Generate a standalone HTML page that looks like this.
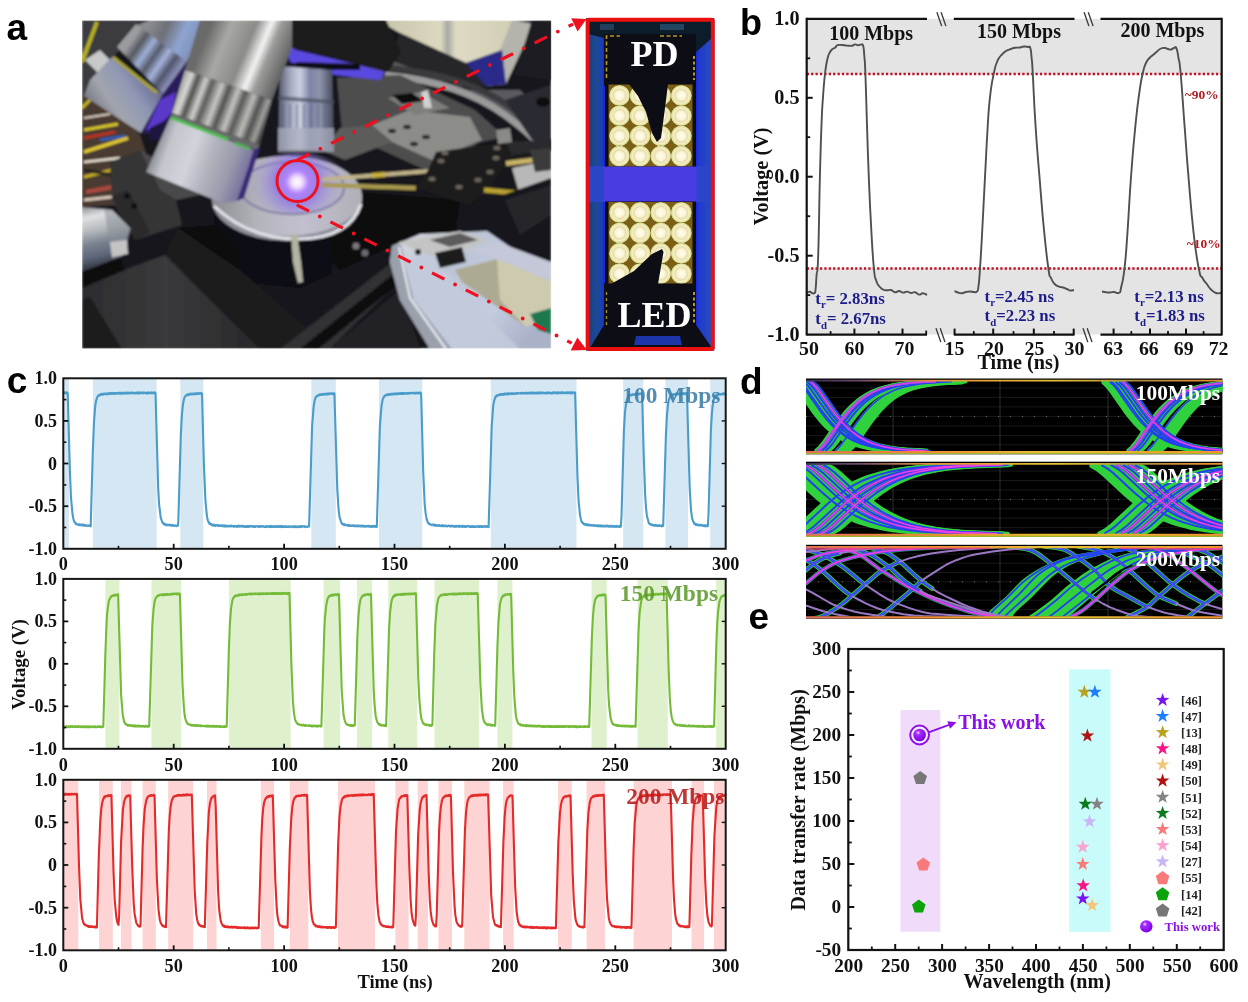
<!DOCTYPE html>
<html lang="en">
<head>
<meta charset="utf-8">
<title>Figure: UV LED/PD communication</title>
<style>
html,body{margin:0;padding:0;background:#fff;}
body{width:1248px;height:1002px;overflow:hidden;}
svg{display:block;}
.se{font-family:"Liberation Serif",serif;font-weight:bold;}
.sa{font-family:"Liberation Sans",sans-serif;font-weight:bold;}
</style>
</head>
<body>
<svg width="1248" height="1002" viewBox="0 0 1248 1002">
<defs>
<radialGradient id="sph" cx="0.38" cy="0.32" r="0.7">
<stop offset="0" stop-color="#f3d6ff"/><stop offset="0.25" stop-color="#a52cff"/><stop offset="1" stop-color="#7a00e0"/>
</radialGradient>
<clipPath id="phclip"><rect x="82.0" y="20.5" width="469.20000000000005" height="328.1"/></clipPath><filter id="b1" x="-5%" y="-5%" width="110%" height="110%"><feGaussianBlur stdDeviation="1.3"/></filter><filter id="b3" x="-20%" y="-20%" width="140%" height="140%"><feGaussianBlur stdDeviation="3.5"/></filter><filter id="b6" x="-30%" y="-30%" width="160%" height="160%"><feGaussianBlur stdDeviation="7"/></filter><filter id="b05" x="-5%" y="-5%" width="110%" height="110%"><feGaussianBlur stdDeviation="0.6"/></filter><linearGradient id="o1a" gradientUnits="userSpaceOnUse" x1="95" y1="120" x2="160" y2="75"><stop offset="0" stop-color="#6f717c"/><stop offset="0.3" stop-color="#a2a5ae"/><stop offset="0.6" stop-color="#8f97b4"/><stop offset="1" stop-color="#5c5a86"/></linearGradient><linearGradient id="o1b" gradientUnits="userSpaceOnUse" x1="125" y1="50" x2="175" y2="85"><stop offset="0" stop-color="#9a9ca0"/><stop offset="0.15" stop-color="#55585f"/><stop offset="0.3" stop-color="#9fb0d8"/><stop offset="0.45" stop-color="#555a6a"/><stop offset="0.6" stop-color="#a5b4dc"/><stop offset="0.75" stop-color="#50546a"/><stop offset="0.9" stop-color="#8a90b8"/><stop offset="1" stop-color="#3e3a5a"/></linearGradient><linearGradient id="o1c" gradientUnits="userSpaceOnUse" x1="150" y1="20" x2="215" y2="50"><stop offset="0" stop-color="#8a8c90"/><stop offset="0.25" stop-color="#6e7078"/><stop offset="0.5" stop-color="#8fa4d0"/><stop offset="0.75" stop-color="#7d8fb8"/><stop offset="1" stop-color="#4a4a66"/></linearGradient><linearGradient id="o2a" gradientUnits="userSpaceOnUse" x1="205" y1="40" x2="290" y2="75"><stop offset="0" stop-color="#6b6b6b"/><stop offset="0.2" stop-color="#a8a8a4"/><stop offset="0.45" stop-color="#8a8a88"/><stop offset="0.6" stop-color="#f4f4f4"/><stop offset="0.7" stop-color="#9c9c9a"/><stop offset="1" stop-color="#4a4a4c"/></linearGradient><linearGradient id="o2b" gradientUnits="userSpaceOnUse" x1="180" y1="85" x2="268" y2="118"><stop offset="0" stop-color="#a4a4a0"/><stop offset="0.08" stop-color="#d8d8d4"/><stop offset="0.15" stop-color="#4e4e4c"/><stop offset="0.24" stop-color="#d0d0cc"/><stop offset="0.31" stop-color="#5a5a58"/><stop offset="0.42" stop-color="#c8c8c4"/><stop offset="0.5" stop-color="#505050"/><stop offset="0.6" stop-color="#c4c4c0"/><stop offset="0.68" stop-color="#565654"/><stop offset="0.78" stop-color="#bcbcb8"/><stop offset="0.86" stop-color="#505050"/><stop offset="0.94" stop-color="#a0a09e"/><stop offset="1" stop-color="#3c3c3c"/></linearGradient><linearGradient id="o2c" gradientUnits="userSpaceOnUse" x1="155" y1="150" x2="250" y2="185"><stop offset="0" stop-color="#8e9098"/><stop offset="0.12" stop-color="#c4c6cc"/><stop offset="0.35" stop-color="#d2d4dc"/><stop offset="0.55" stop-color="#b0b2bc"/><stop offset="0.75" stop-color="#9a9cac"/><stop offset="0.92" stop-color="#7a74a0"/><stop offset="1" stop-color="#544a88"/></linearGradient><linearGradient id="o3" gradientUnits="userSpaceOnUse" x1="278" y1="0" x2="336" y2="0"><stop offset="0" stop-color="#50546a"/><stop offset="0.2" stop-color="#a0a6bc"/><stop offset="0.38" stop-color="#ccd0e0"/><stop offset="0.55" stop-color="#7c84a4"/><stop offset="0.72" stop-color="#8e94ac"/><stop offset="0.88" stop-color="#5c6074"/><stop offset="1" stop-color="#3e4254"/></linearGradient><linearGradient id="disc" gradientUnits="userSpaceOnUse" x1="215" y1="0" x2="360" y2="0"><stop offset="0" stop-color="#8e8e94"/><stop offset="0.3" stop-color="#b4b4bc"/><stop offset="0.6" stop-color="#c2c0d0"/><stop offset="1" stop-color="#b0b0b8"/></linearGradient><radialGradient id="glow" gradientUnits="userSpaceOnUse" cx="297" cy="182" r="52"><stop offset="0" stop-color="#ffffff" stop-opacity="1"/><stop offset="0.1" stop-color="#f4e0ff" stop-opacity="1"/><stop offset="0.22" stop-color="#b080ff" stop-opacity="0.95"/><stop offset="0.42" stop-color="#8a6ae8" stop-opacity="0.7"/><stop offset="0.7" stop-color="#9a8ad8" stop-opacity="0.3"/><stop offset="1" stop-color="#a8a0d0" stop-opacity="0"/></radialGradient><linearGradient id="cyl" gradientUnits="userSpaceOnUse" x1="90" y1="205" x2="104" y2="268"><stop offset="0" stop-color="#8a8e94"/><stop offset="0.18" stop-color="#e0e2e4"/><stop offset="0.4" stop-color="#b4b8bc"/><stop offset="0.6" stop-color="#7a8290"/><stop offset="0.8" stop-color="#5c6678"/><stop offset="1" stop-color="#2c3038"/></linearGradient><linearGradient id="hold" gradientUnits="userSpaceOnUse" x1="400" y1="250" x2="520" y2="350"><stop offset="0" stop-color="#d0d4dc"/><stop offset="0.3" stop-color="#bcc4d6"/><stop offset="0.7" stop-color="#c4cce0"/><stop offset="1" stop-color="#aab2c8"/></linearGradient><linearGradient id="wall" gradientUnits="userSpaceOnUse" x1="380" y1="0" x2="515" y2="0"><stop offset="0" stop-color="#c8c4ac"/><stop offset="0.45" stop-color="#dcd8c0"/><stop offset="0.5" stop-color="#a8a8a0"/><stop offset="0.56" stop-color="#dedac4"/><stop offset="1" stop-color="#d2ceb4"/></linearGradient><linearGradient id="plate" gradientUnits="userSpaceOnUse" x1="82" y1="300" x2="250" y2="300"><stop offset="0" stop-color="#2c2c2e"/><stop offset="0.5" stop-color="#3a3a3c"/><stop offset="1" stop-color="#2a2a2c"/></linearGradient><linearGradient id="insf" gradientUnits="userSpaceOnUse" x1="586" y1="0" x2="714" y2="0"><stop offset="0" stop-color="#1a3c7c"/><stop offset="0.09" stop-color="#1e4a96"/><stop offset="0.125" stop-color="#1d3cb8"/><stop offset="0.145" stop-color="#1426e6"/><stop offset="0.855" stop-color="#1426e6"/><stop offset="0.88" stop-color="#2038d0"/><stop offset="0.93" stop-color="#2444c4"/><stop offset="1" stop-color="#2a4cbc"/></linearGradient><radialGradient id="led" cx="0.5" cy="0.5" r="0.5"><stop offset="0" stop-color="#fffdf2" stop-opacity="1"/><stop offset="0.42" stop-color="#fbf4d4" stop-opacity="1"/><stop offset="0.58" stop-color="#e6deaa" stop-opacity="1"/><stop offset="0.74" stop-color="#f6eec6" stop-opacity="1"/><stop offset="0.9" stop-color="#e2e2a0" stop-opacity="1"/><stop offset="0.97" stop-color="#c4cc84" stop-opacity="1"/><stop offset="1" stop-color="#8a7a30" stop-opacity="1"/></radialGradient><clipPath id="eye0"><rect x="806.0" y="378.5" width="416.4000000000001" height="75.80000000000001"/></clipPath><clipPath id="eye1"><rect x="806.0" y="461.7" width="416.4000000000001" height="75.30000000000001"/></clipPath><clipPath id="eye2"><rect x="806.0" y="544.8" width="416.4000000000001" height="73.90000000000009"/></clipPath><clipPath id="eyin0"><rect x="806.0" y="380.7" width="416.4000000000001" height="71.20000000000002"/></clipPath><clipPath id="eyin1"><rect x="806.0" y="463.9" width="416.4000000000001" height="70.70000000000002"/></clipPath><clipPath id="eyin2"><rect x="806.0" y="547.0" width="416.4000000000001" height="69.3000000000001"/></clipPath><linearGradient id="railt" gradientUnits="userSpaceOnUse" x1="806" x2="1222" y1="0" y2="0"><stop offset="0" stop-color="#3a2a5a"/><stop offset="0.12" stop-color="#6a4a6a"/><stop offset="0.3" stop-color="#e8903a"/><stop offset="0.6" stop-color="#e6c232"/><stop offset="0.8" stop-color="#b08a40"/><stop offset="1" stop-color="#f0902e"/></linearGradient><linearGradient id="rail" gradientUnits="userSpaceOnUse" x1="806" x2="1222" y1="0" y2="0"><stop offset="0" stop-color="#e0705a"/><stop offset="0.3" stop-color="#f08a30"/><stop offset="0.6" stop-color="#e6c232"/><stop offset="1" stop-color="#f0902e"/></linearGradient>
</defs>
<rect width="1248" height="1002" fill="#fff"/>
<g id="panel_a">
<g clip-path="url(#phclip)"><g filter="url(#b1)">
<rect x="82" y="20.5" width="469.2" height="328.1" fill="#17171a" />
<polygon points="82,20 150,20 112,58 85,95 82,95" fill="#3a3a40" />
<polygon points="82,95 112,100 140,135 150,165 120,205 82,207" fill="#4a3a30" />
<line x1="82" y1="62" x2="97" y2="22" stroke="#b8b020" stroke-width="4" />
<line x1="82" y1="108" x2="90" y2="100" stroke="#c8b828" stroke-width="3" />
<line x1="84" y1="130" x2="118" y2="124" stroke="#d8c82c" stroke-width="3" />
<line x1="84" y1="152" x2="128" y2="138" stroke="#e0c830" stroke-width="3.5" />
<line x1="84" y1="177" x2="120" y2="168" stroke="#c8b020" stroke-width="3" />
<line x1="84" y1="138" x2="115" y2="132" stroke="#c83020" stroke-width="2.5" />
<line x1="86" y1="192" x2="118" y2="186" stroke="#b04840" stroke-width="4" />
<line x1="84" y1="162" x2="120" y2="158" stroke="#e8e0d0" stroke-width="2.5" />
<line x1="100" y1="140" x2="125" y2="136" stroke="#3060c0" stroke-width="2.5" />
<line x1="84" y1="118" x2="110" y2="114" stroke="#d8d0c0" stroke-width="2" />
<line x1="84" y1="170" x2="118" y2="176" stroke="#202020" stroke-width="3" />
<line x1="84" y1="200" x2="120" y2="196" stroke="#d8c8b8" stroke-width="3" />
<polygon points="85,60 100,50 118,68 105,80" fill="#c8c8c8" />
<polygon points="377,20 515,20 502,50 466,63 400,33" fill="url(#wall)" />
<polygon points="512,20 534,24 506,84 486,86 500,50" fill="#b4b4ac" />
<polygon points="532,20 552,20 552,80 515,75" fill="#1e1e20" />
<polygon points="466,63 502,50 506,84 486,86" fill="#2a2a8a" />
<polygon points="400,33 466,63 486,86 470,90 390,60" fill="#26262c" />
<polygon points="335,75 400,70 460,85 505,112 532,142 551,150 551,120 520,90 470,90 390,60 335,62" fill="#5a5a60" />
<path d="M385 75 Q460 82 505 115 T545 160" fill="none" stroke="#9a9a9a" stroke-width="7"/>
<path d="M388 68 Q465 74 512 108 T551 150" fill="none" stroke="#3a3a3e" stroke-width="6"/>
<polygon points="337,78 400,75 475,110 505,137 480,142 430,172 342,132" fill="#4e4e4e" />
<polygon points="372,125 410,110 470,117 482,140 432,160 392,142" fill="#8c8c88" />
<polygon points="388,98 420,92 450,108 415,115" fill="#7e7e7a" />
<polygon points="392,95 412,93 424,101 402,104" fill="#101010" />
<polygon points="421,92 428,90 432,108 424,108" fill="#d0d0d0" />
<ellipse cx="392" cy="131" rx="4" ry="2.2" fill="#2a2a2a"/>
<ellipse cx="407" cy="127" rx="4" ry="2.2" fill="#2a2a2a"/>
<ellipse cx="426" cy="137" rx="4" ry="2.2" fill="#2a2a2a"/>
<ellipse cx="414" cy="144" rx="4" ry="2.2" fill="#2a2a2a"/>
<polygon points="505,100 551,85 551,145 532,140" fill="#2c2c30" />
<ellipse cx="543" cy="102" rx="7" ry="5" fill="#111"/>
<polygon points="322,150 340,128 372,125 392,142 345,160" fill="#5c5c5a" />
<polygon points="285,45 385,72 380,80 335,75 290,62" fill="#5a48e0" />
<polygon points="280,20 386,20 401,52 388,72 296,50 280,40" fill="#1a1a1c" />
<polygon points="296,62 360,64 360,70 296,70" fill="#101014" />
<polygon points="280,66 332,70 334,150 278,150" fill="url(#o3)" />
<polygon points="278,96 334,100 334,104 278,100" fill="#4a4e60" opacity="0.7"/>
<line x1="283" y1="104" x2="283" y2="128" stroke="#596080" stroke-width="1.6" opacity="0.6"/>
<line x1="290" y1="104" x2="290" y2="128" stroke="#596080" stroke-width="1.6" opacity="0.6"/>
<line x1="297" y1="104" x2="297" y2="128" stroke="#596080" stroke-width="1.6" opacity="0.6"/>
<line x1="304" y1="104" x2="304" y2="128" stroke="#596080" stroke-width="1.6" opacity="0.6"/>
<line x1="311" y1="104" x2="311" y2="128" stroke="#596080" stroke-width="1.6" opacity="0.6"/>
<line x1="318" y1="104" x2="318" y2="128" stroke="#596080" stroke-width="1.6" opacity="0.6"/>
<line x1="325" y1="104" x2="325" y2="128" stroke="#596080" stroke-width="1.6" opacity="0.6"/>
<polygon points="278,128 334,128 334,152 278,152" fill="#a8acbc" opacity="0.7"/>
<polygon points="332,190 460,200 455,240 392,246 340,270 330,260" fill="#0c0c10" />
<polygon points="214,205 214,262 240,282 300,288 332,274 332,215" fill="#0d0d14" />
<ellipse cx="287" cy="200" rx="75" ry="41" fill="#8e8e98"/>
<ellipse cx="287" cy="196" rx="75" ry="40" fill="url(#disc)"/>
<ellipse cx="292" cy="188" rx="52" ry="26" fill="none" stroke="#8a86a8" stroke-width="2.5"/>
<ellipse cx="297" cy="183" rx="52" ry="30" fill="url(#glow)"/>
<path d="M214 206 Q250 240 300 239 T361 204" fill="none" stroke="#e4e4ec" stroke-width="3"/>
<polygon points="291,234 297,234 301,262 303,282 298,283 293,262" fill="#b4b4a4" />
<line x1="322" y1="179.5" x2="436" y2="170.5" stroke="#c2b48a" stroke-width="4" />
<line x1="372" y1="175.5" x2="385" y2="174.5" stroke="#c8b040" stroke-width="5" />
<line x1="322" y1="185" x2="416" y2="188" stroke="#a89a50" stroke-width="4.5" />
<polygon points="436,152 505,142 551,140 551,163 506,166 488,190 470,205 452,200 415,188 428,170" fill="#1a1a1c" />
<polygon points="505,142 551,140 551,150 512,155" fill="#2c2c2e" />
<ellipse cx="441" cy="161" rx="3.6" ry="2.2" fill="#6a6458"/>
<ellipse cx="445" cy="153" rx="3.6" ry="2.2" fill="#6a6458"/>
<ellipse cx="497" cy="148" rx="3.6" ry="2.2" fill="#6a6458"/>
<ellipse cx="496" cy="158" rx="3.6" ry="2.2" fill="#6a6458"/>
<ellipse cx="432" cy="179" rx="3.6" ry="2.2" fill="#6a6458"/>
<ellipse cx="490" cy="172" rx="3.6" ry="2.2" fill="#6a6458"/>
<ellipse cx="478" cy="180" rx="3.6" ry="2.2" fill="#6a6458"/>
<ellipse cx="459" cy="187" rx="3.6" ry="2.2" fill="#6a6458"/>
<polygon points="496,130 510,128 512,142 498,144" fill="#8a8a86" />
<line x1="506" y1="163.5" x2="534" y2="160" stroke="#c8b468" stroke-width="5" />
<line x1="484" y1="190" x2="516" y2="193" stroke="#b8a030" stroke-width="5" />
<polygon points="512,168 551,160 551,193 520,196" fill="#b8b8b8" />
<polygon points="530,150 551,148 551,170 535,172" fill="#3a3a3a" />
<polygon points="500,196 551,178 551,252 505,252 455,222 470,205" fill="#16161a" />
<polygon points="505,200 551,185 551,215 520,235" fill="#26262c" />
<polygon points="110,162 140,150 160,190 176,200 182,225 135,240 112,200" fill="#343436" />
<polygon points="140,150 160,190 176,200 200,195 175,170" fill="#4a4a4c" />
<polygon points="112,196 128,190 150,232 135,240" fill="#2a2a2c" />
<circle cx="127" cy="196" r="3" fill="#111"/><circle cx="134" cy="206" r="3" fill="#111"/>
<polygon points="82,207 112,210 130,228 122,256 82,272" fill="url(#cyl)" />
<polygon points="104,208 114,211 131,229 123,256 112,259" fill="#8a9098" opacity="0.55"/>
<polygon points="110,242 127,240 128,254 112,257" fill="#c4c4c4" />
<polygon points="82,285 165,255 255,335 260,349 82,349" fill="url(#plate)" />
<polygon points="82,272 120,258 125,270 82,288" fill="#0a0a0a" />
<polygon points="82,300 90,297 122,349 82,349" fill="#1a1a1c" />
<polygon points="165,255 178,228 240,270 330,349 260,349" fill="#1c1c1e" />
<polygon points="178,228 215,225 240,250 240,270" fill="#0c0c0e" />
<circle cx="343" cy="313" r="3.5" fill="#7a6a5a"/><circle cx="349" cy="323" r="4" fill="#8a6a4a"/><circle cx="361" cy="315" r="2.5" fill="#000"/>
<polygon points="280,349 392,262 400,280 330,349" fill="#303034" />
<polygon points="300,349 396,272 400,282 318,349" fill="#0a0a0c" />
<polygon points="330,349 400,290 420,349" fill="#242428" />
<circle cx="356" cy="246" r="3.5" fill="#77777a"/><circle cx="365" cy="253" r="3.5" fill="#6a6a70"/>
<polygon points="392,246 420,234 487,231 551,275 551,349 430,349 400,300 390,262" fill="url(#hold)" />
<polygon points="392,246 401,244 414,300 452,349 430,349 400,300 390,262" fill="#9aa0ac" />
<path d="M399 247 L410 298 L446 349" fill="none" stroke="#e4e8f0" stroke-width="2.2"/>
<polygon points="404,262 430,252 470,300 520,349 452,349 414,300" fill="#c2cadc" opacity="0.9"/>
<polygon points="398,242 460,231 488,240 470,248 430,256" fill="#c4c4c4" />
<polygon points="430,240 460,233 478,240 450,247" fill="#5c5c5c" />
<polygon points="435,253 462,247 466,262 440,268" fill="#1c1c1e" />
<polygon points="455,270 497,259 551,281 551,318 526,327 462,282" fill="#acaa92" />
<polygon points="497,259 551,281 551,318 526,327 500,300" fill="#cecab0" />
<polygon points="462,250 500,243 551,262 551,281 497,259" fill="#c4c8d8" />
<polygon points="530,314 551,308 551,334 538,330" fill="#1a7850" />
<circle cx="418" cy="252" r="3" fill="#1a1a1a"/>
<polygon points="150,20 210,20 186,63 136,26" fill="url(#o1c)" />
<polygon points="117,47 136,24 187,62 163,94" fill="url(#o1b)" />
<polygon points="112,57 163,94 141,133 84,96 90,80" fill="url(#o1a)" />
<line x1="113" y1="57" x2="157" y2="93" stroke="#a8a030" stroke-width="3.2" />
<polygon points="163,94 187,62 182,100 165,135 141,133" fill="#2a1e5a" />
<polygon points="160,100 176,92 172,112 158,128 146,130" fill="#5a38c8" />
<polygon points="150,128 170,118 162,140 150,140" fill="#1c1440" />
<polygon points="200,20 292,20 292,48 272,100 185,70" fill="url(#o2a)" />
<polygon points="185,70 272,100 260,145 172,113" fill="url(#o2b)" />
<polygon points="172,113 260,145 256,150 170,118" fill="#6a6a6c" />
<polygon points="170,118 254,150 237,201 222,203 146,172" fill="url(#o2c)" />
<line x1="171" y1="117.5" x2="228" y2="139.5" stroke="#48c048" stroke-width="3" />
<line x1="235" y1="143" x2="250" y2="149" stroke="#48b848" stroke-width="2.6" />
<polygon points="254,150 260,147 244,198 237,201" fill="#3a2c78" />
</g></g>
<g filter="url(#b05)">
<rect x="586" y="18" width="128.4" height="332.7" fill="url(#insf)" />
<polygon points="588,20 712,20 712,38 696,52 604,52 604,38 588,34" fill="#0f1a2c" />
<rect x="600" y="24" width="14" height="6" fill="#2a5070" opacity="0.7"/>
<rect x="660" y="24" width="24" height="6" fill="#2a5878" opacity="0.7"/>
<rect x="604" y="34" width="92" height="52" fill="#0b0b14" />
<path d="M606.5 78 V36 H620 M660 36 H682" fill="none" stroke="#b89a2a" stroke-width="1.6" stroke-dasharray="4 2.5"/>
<path d="M694 56 V80" fill="none" stroke="#c8a82a" stroke-width="1.8" stroke-dasharray="3 2.5"/>
<rect x="605" y="84" width="91" height="84" fill="#0a0a10" />
<rect x="608.5" y="84.5" width="84" height="82" fill="#7c5e12" />
<circle cx="619.5" cy="95.5" r="10.5" fill="url(#led)"/>
<circle cx="640.1" cy="95.5" r="10.5" fill="url(#led)"/>
<circle cx="660.7" cy="95.5" r="10.5" fill="url(#led)"/>
<circle cx="681.3" cy="95.5" r="10.5" fill="url(#led)"/>
<circle cx="619.5" cy="115.7" r="10.5" fill="url(#led)"/>
<circle cx="640.1" cy="115.7" r="10.5" fill="url(#led)"/>
<circle cx="660.7" cy="115.7" r="10.5" fill="url(#led)"/>
<circle cx="681.3" cy="115.7" r="10.5" fill="url(#led)"/>
<circle cx="619.5" cy="135.9" r="10.5" fill="url(#led)"/>
<circle cx="640.1" cy="135.9" r="10.5" fill="url(#led)"/>
<circle cx="660.7" cy="135.9" r="10.5" fill="url(#led)"/>
<circle cx="681.3" cy="135.9" r="10.5" fill="url(#led)"/>
<circle cx="619.5" cy="156.1" r="10.5" fill="url(#led)"/>
<circle cx="640.1" cy="156.1" r="10.5" fill="url(#led)"/>
<circle cx="660.7" cy="156.1" r="10.5" fill="url(#led)"/>
<circle cx="681.3" cy="156.1" r="10.5" fill="url(#led)"/>
<polygon points="629,84 668,84 665,108 661,138 657,142 652,133 646,112 638,96" fill="#0b0b14" />
<rect x="588" y="166.5" width="124.5" height="35.5" fill="#4a3ee2" />
<rect x="588" y="166.5" width="16" height="35.5" fill="#2a44c8" />
<rect x="696.5" y="166.5" width="16" height="35.5" fill="#2a44c8" />
<rect x="605" y="201.5" width="91" height="84" fill="#0a0a10" />
<rect x="608.5" y="202" width="84" height="82" fill="#7c5e12" />
<circle cx="619.5" cy="212.5" r="10.5" fill="url(#led)"/>
<circle cx="640.1" cy="212.5" r="10.5" fill="url(#led)"/>
<circle cx="660.7" cy="212.5" r="10.5" fill="url(#led)"/>
<circle cx="681.3" cy="212.5" r="10.5" fill="url(#led)"/>
<circle cx="619.5" cy="232.9" r="10.5" fill="url(#led)"/>
<circle cx="640.1" cy="232.9" r="10.5" fill="url(#led)"/>
<circle cx="660.7" cy="232.9" r="10.5" fill="url(#led)"/>
<circle cx="681.3" cy="232.9" r="10.5" fill="url(#led)"/>
<circle cx="619.5" cy="253.3" r="10.5" fill="url(#led)"/>
<circle cx="640.1" cy="253.3" r="10.5" fill="url(#led)"/>
<circle cx="660.7" cy="253.3" r="10.5" fill="url(#led)"/>
<circle cx="681.3" cy="253.3" r="10.5" fill="url(#led)"/>
<circle cx="619.5" cy="273.7" r="10.5" fill="url(#led)"/>
<circle cx="640.1" cy="273.7" r="10.5" fill="url(#led)"/>
<circle cx="660.7" cy="273.7" r="10.5" fill="url(#led)"/>
<circle cx="681.3" cy="273.7" r="10.5" fill="url(#led)"/>
<polygon points="662,249 663.5,252 658,284 611,284 634,271 652,254" fill="#0b0b14" />
<rect x="604" y="283.5" width="92" height="55" fill="#0b0b14" />
<path d="M606.5 292 V330" fill="none" stroke="#a08a2a" stroke-width="1.4" stroke-dasharray="3 3"/>
<path d="M694 292 V332" fill="none" stroke="#c8a82a" stroke-width="1.8" stroke-dasharray="3 2.5"/>
<polygon points="604,325 696,325 712,348 590,348" fill="#0b0b14" />
<polygon points="636,336 680,336 682,345 634,345" fill="#1a34a8" />
</g>
<text class="se" x="654.5" y="66" font-size="36" text-anchor="middle" fill="#fff" >PD</text>
<text class="se" x="654.5" y="326.5" font-size="36" text-anchor="middle" fill="#fff" >LED</text>
<rect x="587.6" y="19.7" width="125.19999999999997" height="329.3" fill="none" stroke="#ea1010" stroke-width="3.9" rx="1.5"/>
<circle cx="297.5" cy="181" r="20.5" fill="none" stroke="#ee1020" stroke-width="3"/>
<line x1="297.1" y1="160.1" x2="309.5" y2="154" stroke="#ee1020" stroke-width="3.2" />
<circle cx="320.3" cy="148.7" r="1.9" fill="#ee1020"/>
<line x1="331.1" y1="143.4" x2="343.5" y2="137.3" stroke="#ee1020" stroke-width="3.2" />
<circle cx="354.2" cy="132" r="1.9" fill="#ee1020"/>
<line x1="365" y1="126.7" x2="377.4" y2="120.5" stroke="#ee1020" stroke-width="3.2" />
<circle cx="388.2" cy="115.2" r="1.9" fill="#ee1020"/>
<line x1="398.9" y1="109.9" x2="411.3" y2="103.8" stroke="#ee1020" stroke-width="3.2" />
<circle cx="422.1" cy="98.5" r="1.9" fill="#ee1020"/>
<line x1="432.9" y1="93.2" x2="445.3" y2="87.1" stroke="#ee1020" stroke-width="3.2" />
<circle cx="456" cy="81.8" r="1.9" fill="#ee1020"/>
<line x1="466.8" y1="76.5" x2="479.2" y2="70.4" stroke="#ee1020" stroke-width="3.2" />
<circle cx="490" cy="65" r="1.9" fill="#ee1020"/>
<line x1="500.7" y1="59.7" x2="513.1" y2="53.6" stroke="#ee1020" stroke-width="3.2" />
<circle cx="523.9" cy="48.3" r="1.9" fill="#ee1020"/>
<line x1="534.6" y1="43" x2="547" y2="36.9" stroke="#ee1020" stroke-width="3.2" />
<circle cx="557.8" cy="31.6" r="1.9" fill="#ee1020"/>
<line x1="568.6" y1="26.3" x2="573.1" y2="24.1" stroke="#ee1020" stroke-width="3.2" />
<line x1="296.7" y1="204.9" x2="309.1" y2="211.1" stroke="#ee1020" stroke-width="3.2" />
<circle cx="319.8" cy="216.5" r="1.9" fill="#ee1020"/>
<line x1="330.5" y1="221.9" x2="342.9" y2="228.1" stroke="#ee1020" stroke-width="3.2" />
<circle cx="353.6" cy="233.5" r="1.9" fill="#ee1020"/>
<line x1="364.3" y1="238.9" x2="376.7" y2="245.1" stroke="#ee1020" stroke-width="3.2" />
<circle cx="387.4" cy="250.5" r="1.9" fill="#ee1020"/>
<line x1="398.2" y1="255.9" x2="410.6" y2="262.1" stroke="#ee1020" stroke-width="3.2" />
<circle cx="421.3" cy="267.5" r="1.9" fill="#ee1020"/>
<line x1="432" y1="272.9" x2="444.4" y2="279.1" stroke="#ee1020" stroke-width="3.2" />
<circle cx="455.1" cy="284.5" r="1.9" fill="#ee1020"/>
<line x1="465.8" y1="289.9" x2="478.2" y2="296.1" stroke="#ee1020" stroke-width="3.2" />
<circle cx="488.9" cy="301.5" r="1.9" fill="#ee1020"/>
<line x1="499.6" y1="306.9" x2="512" y2="313.1" stroke="#ee1020" stroke-width="3.2" />
<circle cx="522.7" cy="318.5" r="1.9" fill="#ee1020"/>
<line x1="533.4" y1="323.9" x2="545.8" y2="330.1" stroke="#ee1020" stroke-width="3.2" />
<circle cx="556.5" cy="335.5" r="1.9" fill="#ee1020"/>
<line x1="567.2" y1="340.9" x2="571.7" y2="343.2" stroke="#ee1020" stroke-width="3.2" />
<polygon points="586.5,19 571.2,18.2 577.6,31.4" fill="#ee1020" />
<polygon points="586.8,350 570.6,350.6 577.4,337.4" fill="#ee1020" />
<text class="sa" x="6.5" y="39.8" font-size="37" text-anchor="start" fill="#000" >a</text>
</g>
<g id="panel_b">
<rect x="806.7" y="18.8" width="415" height="55.2" fill="#e4e4e4" />
<rect x="806.7" y="268.5" width="415" height="66.1" fill="#e4e4e4" />
<line x1="806.7" y1="74" x2="1221.7" y2="74" stroke="#c01226" stroke-width="2.3" stroke-dasharray="2.3 2.1"/>
<line x1="806.7" y1="268.5" x2="1221.7" y2="268.5" stroke="#c01226" stroke-width="2.3" stroke-dasharray="2.3 2.1"/>
<path d="M807 292.3 C807.8 292.2 808.7 291.6 810 291.8 C811.3 292 810.8 292.7 812 293 C813.2 293.3 813.6 294.1 814.6 293 C815.6 291.9 815.1 293.8 815.6 289 C816.1 284.2 815.9 284.1 816.6 275 C817.3 265.9 817.3 281.1 818.2 255 C819.1 228.9 819 211.7 819.9 177 C820.8 142.3 820.7 146.3 821.5 125 C822.3 103.7 822.1 110.6 823 97 C823.9 83.4 823.9 83.6 825 74 C826.1 64.4 825.9 66.3 827 61 C828.1 55.7 827.7 57.1 829 54 C830.3 50.9 830.4 51.2 832 49.5 C833.6 47.8 833.5 48.9 835 47.8 C836.5 46.7 835.6 45.9 837.5 45.2 C839.4 44.5 839.5 44.9 842 45 C844.5 45.1 844.3 45.4 847 45.6 C849.7 45.8 849.9 46.1 852 45.8 C854.1 45.5 853.4 44.6 855 44.4 C856.6 44.2 856.4 45.1 858 45.2 C859.6 45.3 859.6 44.4 861 44.6 C862.4 44.8 862.3 43 863.2 46 C864.1 49 863.7 48.5 864.3 56 C864.9 63.5 864.7 55.6 865.4 74 C866.1 92.4 866.1 97.5 867 125 C867.9 152.5 867.7 149 868.8 177 C869.9 205 869.9 205.6 871.3 230 C872.7 254.4 872.6 255.2 873.9 268.5 C875.2 281.8 874.6 275.3 876 280 C877.4 284.7 877.1 283.5 879 286 C880.9 288.5 880.9 288.4 883 289.5 C885.1 290.6 884.9 290.2 887 290.3 C889.1 290.4 888.9 289.5 891 290 C893.1 290.5 892.9 292 895 292.3 C897.1 292.6 896.9 290.9 899 291 C901.1 291.1 900.9 292.4 903 292.6 C905.1 292.8 904.9 291.5 907 291.6 C909.1 291.7 908.9 292.8 911 293 C913.1 293.2 912.9 291.8 915 292.2 C917.1 292.6 916.9 294.3 919 294.6 C921.1 294.9 920.9 293.1 923 293.2 C925.1 293.3 925.9 294.5 927 295" fill="none" stroke="#505050" stroke-width="1.9" stroke-linejoin="round"/>
<path d="M954.5 291 C955.4 291.4 956 291.9 958 292.5 C960 293.1 959.9 293.3 962 293.2 C964.1 293.1 963.9 292.5 966 292 C968.1 291.5 967.9 291.5 970 291.5 C972.1 291.5 972.1 292 974 292 C975.9 292 975.8 293.1 977 291.5 C978.2 289.9 977.7 292.1 978.5 286 C979.3 279.9 979.1 282.1 980 268.5 C980.9 254.9 980.7 259.4 982 235 C983.3 210.6 983.5 205 985 177 C986.5 149 986.2 151.3 987.5 130 C988.8 108.7 988.3 111.9 990 97 C991.7 82.1 991.8 83.3 993.7 74 C995.6 64.7 995.1 66.9 997 62 C998.9 57.1 998.6 58.4 1001 55.5 C1003.4 52.6 1003.3 52.7 1006 51 C1008.7 49.3 1008.6 49.9 1011 49 C1013.4 48.1 1012.6 48.2 1015 47.8 C1017.4 47.4 1017.6 47.8 1020 47.5 C1022.4 47.2 1021.9 46.6 1024 46.5 C1026.1 46.4 1026.3 46.6 1028 47 C1029.7 47.4 1029.3 45.1 1030.3 48 C1031.3 50.9 1030.9 51.1 1031.6 58 C1032.3 64.9 1031.8 56.1 1032.8 74 C1033.8 91.9 1033.7 97.5 1035.5 125 C1037.3 152.5 1037.2 149 1039.5 177 C1041.8 205 1041.6 205.6 1044 230 C1046.4 254.4 1046.5 255.7 1048.4 268.5 C1050.3 281.3 1049.3 273.9 1051 278 C1052.7 282.1 1052.6 281.7 1054.7 284 C1056.8 286.3 1056.8 285.7 1059 286.6 C1061.2 287.5 1060.9 286.9 1063 287.5 C1065.1 288.1 1065.1 288.2 1067 289 C1068.9 289.8 1068.1 290.2 1070 290.5 C1071.9 290.8 1072.9 290.1 1074 290" fill="none" stroke="#505050" stroke-width="1.9" stroke-linejoin="round"/>
<path d="M1102 291.5 C1103.1 291.7 1103.9 292 1106 292.3 C1108.1 292.6 1107.9 292.6 1110 292.5 C1112.1 292.4 1112.1 291.9 1114 292 C1115.9 292.1 1115.5 292.9 1117 293 C1118.5 293.1 1118.4 293.8 1119.5 292.5 C1120.6 291.2 1119.7 294.4 1121 288 C1122.3 281.6 1122.8 283.4 1124.5 268.5 C1126.2 253.6 1125.8 256.4 1127.5 232 C1129.2 207.6 1129 204.2 1131 177 C1133 149.8 1132.9 151.9 1135 130 C1137.1 108.1 1137 109.9 1139 95 C1141 80.1 1140.7 82.5 1142.6 74 C1144.5 65.5 1144 67.4 1146 63 C1148 58.6 1148.1 59.6 1150 57.5 C1151.9 55.4 1151.1 56.6 1153 55 C1154.9 53.4 1154.9 53.2 1157 51.5 C1159.1 49.8 1158.9 49.4 1161 48.5 C1163.1 47.6 1163.1 47.9 1165 48 C1166.9 48.1 1166.4 48.6 1168 49 C1169.6 49.4 1169.4 49.8 1171 49.5 C1172.6 49.2 1172.5 48.3 1174 48 C1175.5 47.7 1175.3 45.8 1176.5 48.5 C1177.7 51.2 1177.4 51.2 1178.5 58 C1179.6 64.8 1179.1 56.1 1180.7 74 C1182.3 91.9 1182.4 97.5 1184.5 125 C1186.6 152.5 1186.1 148.5 1188.5 177 C1190.9 205.5 1190.8 207.6 1193.5 232 C1196.2 256.4 1196.4 256.2 1198.8 268.5 C1201.2 280.8 1200.4 273.9 1202.5 278 C1204.6 282.1 1204.5 280.9 1206.8 284 C1209.1 287.1 1208.5 287.1 1211 289.5 C1213.5 291.9 1213.3 292.1 1216 293 C1218.7 293.9 1219.7 293 1221 293" fill="none" stroke="#505050" stroke-width="1.9" stroke-linejoin="round"/>
<line x1="806.7" y1="17.8" x2="806.7" y2="335.6" stroke="#111" stroke-width="2.2" />
<line x1="1221.7" y1="17.8" x2="1221.7" y2="335.6" stroke="#111" stroke-width="2.2" />
<line x1="806.7" y1="18.8" x2="927" y2="18.8" stroke="#111" stroke-width="2.2" />
<line x1="806.7" y1="334.6" x2="927" y2="334.6" stroke="#111" stroke-width="2.2" />
<line x1="953.8" y1="18.8" x2="1074.5" y2="18.8" stroke="#111" stroke-width="2.2" />
<line x1="953.8" y1="334.6" x2="1074.5" y2="334.6" stroke="#111" stroke-width="2.2" />
<line x1="1100.5" y1="18.8" x2="1221.7" y2="18.8" stroke="#111" stroke-width="2.2" />
<line x1="1100.5" y1="334.6" x2="1221.7" y2="334.6" stroke="#111" stroke-width="2.2" />
<line x1="936.9" y1="12.3" x2="941.7" y2="26.1" stroke="#3a3a3a" stroke-width="1.35" />
<line x1="941.1" y1="12.3" x2="945.9" y2="26.1" stroke="#3a3a3a" stroke-width="1.35" />
<line x1="1084.1" y1="12.3" x2="1088.9" y2="26.1" stroke="#3a3a3a" stroke-width="1.35" />
<line x1="1088.3" y1="12.3" x2="1093.1" y2="26.1" stroke="#3a3a3a" stroke-width="1.35" />
<line x1="936" y1="328.3" x2="940.8" y2="342.1" stroke="#3a3a3a" stroke-width="1.35" />
<line x1="940.2" y1="328.3" x2="945" y2="342.1" stroke="#3a3a3a" stroke-width="1.35" />
<line x1="1083" y1="328.3" x2="1087.8" y2="342.1" stroke="#3a3a3a" stroke-width="1.35" />
<line x1="1087.2" y1="328.3" x2="1092" y2="342.1" stroke="#3a3a3a" stroke-width="1.35" />
<text class="se" x="799.5" y="25.4" font-size="20.2" text-anchor="end" fill="#111" >1.0</text>
<line x1="806.7" y1="97.8" x2="812.7" y2="97.8" stroke="#111" stroke-width="2" />
<text class="se" x="799.5" y="104.3" font-size="20.2" text-anchor="end" fill="#111" >0.5</text>
<line x1="806.7" y1="176.7" x2="812.7" y2="176.7" stroke="#111" stroke-width="2" />
<text class="se" x="799.5" y="183.3" font-size="20.2" text-anchor="end" fill="#111" >0.0</text>
<line x1="806.7" y1="255.7" x2="812.7" y2="255.7" stroke="#111" stroke-width="2" />
<text class="se" x="799.5" y="262.3" font-size="20.2" text-anchor="end" fill="#111" >-0.5</text>
<text class="se" x="799.5" y="341.2" font-size="20.2" text-anchor="end" fill="#111" >-1.0</text>
<line x1="806.7" y1="58.3" x2="810.2" y2="58.3" stroke="#111" stroke-width="1.8" />
<line x1="806.7" y1="137.2" x2="810.2" y2="137.2" stroke="#111" stroke-width="1.8" />
<line x1="806.7" y1="216.2" x2="810.2" y2="216.2" stroke="#111" stroke-width="1.8" />
<line x1="806.7" y1="295.1" x2="810.2" y2="295.1" stroke="#111" stroke-width="1.8" />
<line x1="854.4" y1="334.6" x2="854.4" y2="328.6" stroke="#111" stroke-width="2" />
<line x1="902.5" y1="334.6" x2="902.5" y2="328.6" stroke="#111" stroke-width="2" />
<line x1="993.2" y1="334.6" x2="993.2" y2="328.6" stroke="#111" stroke-width="2" />
<line x1="1033.8" y1="334.6" x2="1033.8" y2="328.6" stroke="#111" stroke-width="2" />
<line x1="1113.6" y1="334.6" x2="1113.6" y2="328.6" stroke="#111" stroke-width="2" />
<line x1="1150" y1="334.6" x2="1150" y2="328.6" stroke="#111" stroke-width="2" />
<line x1="1186" y1="334.6" x2="1186" y2="328.6" stroke="#111" stroke-width="2" />
<line x1="954.6" y1="334.6" x2="954.6" y2="328.6" stroke="#111" stroke-width="2" />
<line x1="1073.7" y1="334.6" x2="1073.7" y2="328.6" stroke="#111" stroke-width="2" />
<line x1="926.2" y1="334.6" x2="926.2" y2="330.6" stroke="#111" stroke-width="1.8" />
<line x1="830.6" y1="334.6" x2="830.6" y2="331.1" stroke="#111" stroke-width="1.8" />
<line x1="878.7" y1="334.6" x2="878.7" y2="331.1" stroke="#111" stroke-width="1.8" />
<line x1="973.8" y1="334.6" x2="973.8" y2="331.1" stroke="#111" stroke-width="1.8" />
<line x1="1013.5" y1="334.6" x2="1013.5" y2="331.1" stroke="#111" stroke-width="1.8" />
<line x1="1054" y1="334.6" x2="1054" y2="331.1" stroke="#111" stroke-width="1.8" />
<line x1="1131.3" y1="334.6" x2="1131.3" y2="331.1" stroke="#111" stroke-width="1.8" />
<line x1="1168" y1="334.6" x2="1168" y2="331.1" stroke="#111" stroke-width="1.8" />
<line x1="1203.6" y1="334.6" x2="1203.6" y2="331.1" stroke="#111" stroke-width="1.8" />
<text class="se" x="809" y="355.2" font-size="19.8" text-anchor="middle" fill="#111" >50</text>
<text class="se" x="854.4" y="355.2" font-size="19.8" text-anchor="middle" fill="#111" >60</text>
<text class="se" x="904.5" y="355.2" font-size="19.8" text-anchor="middle" fill="#111" >70</text>
<text class="se" x="954.5" y="355.2" font-size="19.8" text-anchor="middle" fill="#111" >15</text>
<text class="se" x="994" y="355.2" font-size="19.8" text-anchor="middle" fill="#111" >20</text>
<text class="se" x="1034.5" y="355.2" font-size="19.8" text-anchor="middle" fill="#111" >25</text>
<text class="se" x="1074.5" y="355.2" font-size="19.8" text-anchor="middle" fill="#111" >30</text>
<text class="se" x="1113.2" y="355.2" font-size="19.8" text-anchor="middle" fill="#111" >63</text>
<text class="se" x="1148.8" y="355.2" font-size="19.8" text-anchor="middle" fill="#111" >66</text>
<text class="se" x="1183.7" y="355.2" font-size="19.8" text-anchor="middle" fill="#111" >69</text>
<text class="se" x="1218.6" y="355.2" font-size="19.8" text-anchor="middle" fill="#111" >72</text>
<text class="se" x="1018.5" y="368.8" font-size="20.2" text-anchor="middle" fill="#111" >Time (ns)</text>
<text class="se" x="767.6" y="176.3" font-size="20.3" text-anchor="middle" fill="#111" transform="rotate(-90 767.6 176.3)">Voltage (V)</text>
<text class="se" x="871.2" y="39.6" font-size="20" text-anchor="middle" fill="#111" >100 Mbps</text>
<text class="se" x="1019" y="38.2" font-size="20" text-anchor="middle" fill="#111" >150 Mbps</text>
<text class="se" x="1162.4" y="37.4" font-size="20" text-anchor="middle" fill="#111" >200 Mbps</text>
<text class="se" x="1218.6" y="99.2" font-size="13.4" text-anchor="end" fill="#b01c24" >~90%</text>
<text class="se" x="1220.6" y="248.4" font-size="13.4" text-anchor="end" fill="#b01c24" >~10%</text>
<text class="se" x="815.3" y="304" font-size="16.8" fill="#1c1c8a">t<tspan font-size="10.8" dy="4.4">r</tspan><tspan dy="-4.4">= 2.83ns</tspan></text>
<text class="se" x="815.3" y="324.2" font-size="16.8" fill="#1c1c8a">t<tspan font-size="10.8" dy="4.4">d</tspan><tspan dy="-4.4">= 2.67ns</tspan></text>
<text class="se" x="984.6" y="301.9" font-size="16.8" fill="#1c1c8a">t<tspan font-size="10.8" dy="4.4">r</tspan><tspan dy="-4.4">=2.45 ns</tspan></text>
<text class="se" x="984.6" y="321.3" font-size="16.8" fill="#1c1c8a">t<tspan font-size="10.8" dy="4.4">d</tspan><tspan dy="-4.4">=2.23 ns</tspan></text>
<text class="se" x="1134.3" y="301.9" font-size="16.8" fill="#1c1c8a">t<tspan font-size="10.8" dy="4.4">r</tspan><tspan dy="-4.4">=2.13 ns</tspan></text>
<text class="se" x="1134.3" y="321.3" font-size="16.8" fill="#1c1c8a">t<tspan font-size="10.8" dy="4.4">d</tspan><tspan dy="-4.4">=1.83 ns</tspan></text>
<text class="sa" x="740" y="35.3" font-size="36" text-anchor="start" fill="#000" >b</text>
</g>
<g id="panel_c">
<rect x="63.3" y="378.3" width="5.7" height="170.5" fill="#d5e7f3" />
<rect x="92.9" y="378.3" width="63.8" height="170.5" fill="#d5e7f3" />
<rect x="180.3" y="378.3" width="23" height="170.5" fill="#d5e7f3" />
<rect x="311.3" y="378.3" width="24.5" height="170.5" fill="#d5e7f3" />
<rect x="379" y="378.3" width="43.3" height="170.5" fill="#d5e7f3" />
<rect x="490.8" y="378.3" width="85.7" height="170.5" fill="#d5e7f3" />
<rect x="623.2" y="378.3" width="20.1" height="170.5" fill="#d5e7f3" />
<rect x="665.4" y="378.3" width="22.7" height="170.5" fill="#d5e7f3" />
<rect x="710.2" y="378.3" width="15.5" height="170.5" fill="#d5e7f3" />
<path d="M63.3 393.2 L63.5 392.4 L64 393 L64.8 392.5 L65.3 393.3 L65.5 392.4 L65.7 392.9 L65.9 392.5 L66.2 393.3 L66.6 392.6 L66.8 393.1 L67.1 392.3 L67.7 393.3 L69.9 471.3 L71 497.7 L72.6 515 L73.7 520 L74.3 521.8 L74.8 522 L75.7 523.9 L76.1 523.4 L76.5 524.3 L77 524 L77.4 524.5 L78.1 524.2 L79 525.2 L79.6 524.3 L80.3 525.2 L80.7 524.5 L81.2 525 L81.4 524.7 L81.6 525.3 L82.1 524.6 L82.7 525.4 L83.2 524.7 L83.4 525.7 L83.6 525 L84.1 524.9 L85.4 525.9 L85.6 525 L86 525.8 L86.3 525.5 L87.6 525.5 L88 526.1 L88.9 525.3 L89.6 525.4 L89.8 526 L90 525.4 L90.7 526.3 L92.7 454.7 L94 421.6 L95.3 405.3 L96.2 400.3 L97.5 396.7 L98.2 396.2 L98.4 395.2 L99.1 395.5 L99.3 394.9 L100 394.9 L100.2 394.6 L100.4 395.1 L100.8 394 L101.3 394.6 L101.5 394 L101.7 394.5 L101.9 393.9 L102.8 394.7 L103 393.8 L103.3 394.6 L103.5 393.8 L103.7 393.6 L104.1 394.4 L104.6 393.5 L105.3 394.1 L105.7 394.2 L105.9 393.7 L106.6 394.3 L106.8 393.7 L107 394 L107.5 394 L107.9 393.4 L108.1 394.2 L108.8 393.2 L109.4 394 L109.9 393.3 L110.1 393.2 L110.3 393.8 L110.6 393.2 L111 393.6 L111.2 393.1 L111.4 393.8 L111.7 393.3 L111.9 394 L112.3 393.1 L112.5 393.8 L112.8 393.2 L113.2 393.1 L113.4 393.6 L113.9 393.7 L114.1 393.1 L114.3 393.3 L114.5 393 L115 393.8 L115.2 393.4 L115.6 393.9 L116.1 393 L116.5 393 L116.7 393.5 L117.2 393 L118.1 393.7 L118.5 392.9 L118.7 393.2 L118.9 392.8 L119.4 393.5 L119.8 392.9 L120 393.7 L120.3 393.1 L120.7 393.6 L120.9 392.8 L121.1 393.7 L121.6 392.7 L122 393.6 L122.7 392.9 L122.9 393.6 L123.1 392.7 L123.4 393.3 L123.6 392.7 L124 393.3 L124.5 393.2 L124.7 393.5 L124.9 393 L125.3 393.6 L125.6 392.6 L125.8 393.3 L126 393 L126.7 393.5 L126.9 392.7 L127.3 392.6 L127.6 393.5 L128.2 392.6 L128.4 393 L128.9 392.9 L129.1 393.3 L129.3 393 L130 393.5 L130.4 392.5 L130.6 393.1 L131.3 392.6 L131.5 393.1 L132.2 393.2 L132.6 392.6 L132.9 393.2 L133.7 392.9 L134.2 393.5 L134.6 393.4 L134.8 392.9 L135.3 393.4 L135.5 392.8 L135.7 393.2 L135.9 392.7 L136.2 393 L136.4 392.6 L136.6 393.3 L137 392.6 L137.3 393.4 L137.5 392.5 L137.7 393.3 L138.2 392.4 L138.8 393.3 L139.3 392.5 L139.5 393.1 L139.7 392.5 L139.9 393.3 L140.1 392.5 L140.4 393.4 L140.8 392.5 L141.2 392.5 L141.9 392.7 L142.1 393.2 L142.3 393 L142.6 393.2 L143 392.7 L143.5 393.3 L143.7 392.4 L144.1 392.8 L144.6 392.5 L145.7 393.4 L145.9 392.7 L146.3 392.8 L146.5 393.3 L146.8 393 L147.2 393.3 L147.6 392.5 L147.9 393 L148.3 392.7 L148.7 393.4 L149 392.8 L150.1 392.6 L150.3 393.1 L150.5 392.9 L151 393.1 L151.8 392.4 L152.5 393.3 L153.2 392.5 L153.4 393.2 L153.8 392.5 L154 393 L154.5 392.5 L154.7 393 L154.9 392.6 L155.4 392.7 L155.6 396.5 L158.2 488.6 L159.1 504.4 L160.7 517.6 L162.4 522.5 L162.7 522.4 L163.5 524 L163.8 523.3 L164 523.4 L164.2 524.4 L164.4 524 L164.9 524.7 L165.3 524.7 L165.5 524.2 L165.8 525.1 L166.2 524.7 L166.4 525.2 L166.6 524.6 L167.1 524.5 L167.3 525.1 L168.2 524.9 L168.4 525.2 L169.3 524.6 L169.5 525.1 L169.9 524.8 L171.1 525.7 L171.3 525 L171.5 525.7 L171.7 525.1 L171.9 525.3 L172.2 524.9 L172.6 524.9 L172.8 525.8 L173.3 525.4 L173.5 525.6 L174.1 525.5 L174.4 526 L174.6 525.6 L175 525.8 L175.5 525.3 L176.8 526.2 L177.5 525.3 L177.9 525.7 L178.3 521.8 L180.8 435.6 L181.9 414.6 L183 404 L184.3 397.9 L185.2 396.2 L185.8 395.9 L186.3 395 L186.7 395.4 L186.9 394.6 L187.6 395.2 L188.1 394.3 L188.5 394.6 L188.7 394.3 L188.9 394.9 L189.4 393.8 L189.8 394.3 L190.3 394.1 L190.5 394.5 L190.9 393.7 L191.4 394.5 L191.6 393.7 L192 394.1 L192.5 393.7 L192.7 394.3 L193.4 393.6 L193.6 394.1 L193.8 393.8 L194 394.1 L194.2 393.8 L194.5 394.2 L194.9 393.4 L195.3 394.1 L195.6 393.3 L196 393.4 L196.2 394.2 L196.4 393.3 L196.9 393.9 L197.5 393.3 L197.8 393.9 L198 393.5 L198.2 393.9 L198.4 393.1 L198.7 393.6 L198.9 393.1 L200 393.9 L200.4 393.3 L200.6 393.6 L200.9 393.2 L201.1 393.7 L201.5 393.2 L202 393.8 L203.9 464.9 L205.5 501.7 L207 516.7 L207.9 520.6 L208.4 521.7 L209 522.3 L209.2 523.5 L209.5 523 L209.9 524 L210.6 523.8 L210.8 524.4 L211 524.1 L211.5 525 L211.7 524.3 L211.9 525.2 L212.3 524.7 L212.6 525.3 L212.8 525.1 L213 525.4 L213.7 524.7 L213.9 525.6 L214.3 524.8 L214.5 525.7 L214.8 525.4 L215.4 525.8 L215.7 525.2 L216.3 525 L216.8 525.5 L217.2 525 L217.9 525.9 L218.1 525.1 L218.5 525.7 L219.2 525.6 L219.4 526 L219.8 525.7 L220.1 525.9 L220.3 525.3 L220.5 525.7 L221.6 525.5 L221.8 526 L222.1 525.3 L222.3 526.1 L222.5 525.4 L222.9 525.4 L223.2 526.3 L223.6 525.5 L224 526 L224.3 525.4 L224.5 526.4 L224.7 525.9 L225.1 526.3 L225.8 525.6 L226 526.4 L226.3 525.9 L226.5 526.4 L226.7 525.7 L227.1 526.5 L227.6 525.8 L228 526.4 L228.2 525.7 L228.7 525.7 L228.9 526.3 L229.3 526.3 L229.6 526 L230 526.3 L230.4 525.7 L230.9 526.5 L231.5 525.7 L232.4 526.2 L232.9 525.9 L233.3 526.6 L233.8 526.2 L234 526.6 L234.4 526.2 L234.6 526.7 L234.9 525.9 L235.5 526.5 L236 526.5 L236.2 526 L236.8 526.7 L237.1 525.9 L237.7 526.8 L238 525.8 L238.2 526.3 L238.4 525.9 L239.5 525.9 L239.9 526.7 L240.6 525.9 L241.5 526.5 L241.7 525.9 L242.1 526.5 L242.6 525.9 L243 526.7 L243.9 526 L244.1 526.7 L244.6 526.2 L244.8 526.9 L245.2 526.4 L245.7 526.8 L246.1 526.3 L246.8 526.9 L247 526.1 L247.4 526.8 L247.7 526.1 L247.9 527 L248.3 526.1 L248.8 526.7 L249 526.1 L249.2 526.4 L249.7 526.1 L249.9 526.6 L250.5 526 L251 526.3 L251.4 526 L251.6 526.8 L252.1 526.3 L253 526.6 L253.2 526.1 L253.9 527 L254.1 526.2 L254.5 526.8 L255 526.3 L255.2 527 L255.8 526.1 L257.2 526.5 L257.8 526.1 L258 526.6 L258.3 526.4 L258.7 526.8 L259.6 526.1 L259.8 526.9 L260.3 526.1 L260.9 526.7 L261.4 526.1 L261.8 526.4 L262.2 526.1 L262.7 526.7 L263.1 526.3 L263.3 526.7 L263.6 526.3 L264.4 527 L264.9 526.7 L265.1 527.1 L265.8 526.2 L266.2 526.8 L266.4 526.1 L266.7 526.8 L267.1 526.3 L267.5 526.7 L267.8 526.3 L268.4 526.6 L268.6 526.1 L269.3 527 L269.5 526.1 L270 527.1 L270.6 526.1 L270.9 526.7 L271.3 526.3 L271.5 527 L272 526.1 L272.6 526.8 L273.1 526.1 L273.3 527 L273.5 526.5 L273.9 526.4 L274.2 527 L275.3 526.2 L275.9 527 L276.4 526.4 L276.6 526.8 L277 526.2 L277.3 527 L277.5 526.2 L277.7 527 L278.1 526.2 L278.4 526.9 L279.2 526.1 L279.5 526.8 L279.9 526.2 L280.3 526.9 L280.6 526.3 L281.2 527.1 L281.5 526.1 L281.7 526.5 L282.1 526.1 L282.3 526.9 L283.2 526.3 L283.4 526.9 L283.9 526.4 L284.3 527 L285.2 526.1 L285.9 527 L286.5 526.4 L286.7 526.9 L287.9 526.5 L288.1 526.9 L288.3 526.2 L289 527.1 L289.4 526.4 L290.1 526.2 L290.3 526.8 L291.6 527 L292 526.4 L292.9 526.9 L293.4 526.2 L293.8 527.1 L294.5 526.5 L294.7 527.1 L294.9 526.9 L295.4 526.1 L295.6 526.8 L296 526.6 L296.2 527.1 L296.5 526.8 L296.9 526.9 L297.1 526.4 L297.6 527.1 L298 526.4 L298.2 527 L298.5 526.8 L299.1 527.1 L299.8 526.2 L300.2 526.9 L300.4 526.4 L300.7 526.9 L300.9 526.6 L301.1 526.8 L301.3 526.2 L301.5 526.8 L301.8 526.3 L302.4 526.5 L302.6 526.3 L302.9 526.7 L303.1 526.4 L304.2 526.7 L304.4 526.2 L305.1 527.1 L305.3 526.6 L305.5 527 L306.8 526.6 L307.5 527 L307.9 526.5 L309.1 526.4 L312.1 426 L313.7 406.1 L314.6 400.8 L315.5 397.9 L316.6 396 L316.8 396.3 L317 395.9 L317.2 396.3 L317.4 395.7 L317.7 396 L317.9 395.2 L318.1 395.8 L319 395 L319.4 395.1 L319.6 394.4 L320.1 394.6 L320.5 394.4 L320.8 394.9 L321 394.3 L321.2 394.8 L321.4 394.5 L321.9 394.8 L322.3 394 L322.5 394.6 L322.7 394 L323 394.5 L323.4 393.8 L323.8 394.7 L324.1 394.3 L324.5 394.4 L324.7 393.9 L324.9 394.2 L325.2 393.9 L325.6 394.1 L325.8 394.5 L326.3 393.7 L326.5 394.4 L326.7 393.9 L327.2 394.1 L327.6 393.5 L327.8 394.4 L328 393.5 L328.3 394 L328.5 393.5 L328.7 394.2 L328.9 393.6 L329.1 394.3 L329.6 393.3 L330.2 393.8 L331.1 393.5 L331.4 394 L332.2 393.2 L332.7 394 L332.9 393.7 L333.3 394.1 L333.8 393.9 L334 393.3 L334.4 393.2 L337.3 489.6 L338.6 510 L339.5 516.9 L341.1 521.9 L341.9 523.7 L342.2 523.4 L342.4 524.2 L342.6 523.9 L343.5 524.5 L343.7 524.1 L344.2 525.2 L344.4 524.3 L344.6 525 L345.5 524.5 L345.9 525.3 L346.6 525.2 L347 525.6 L347.2 525.4 L347.7 525.6 L347.9 525 L348.4 525.7 L348.8 525 L349.5 525.2 L349.9 525.9 L350.8 525.6 L351 525.9 L351.7 525.9 L351.9 525.3 L352.3 526 L352.8 525.3 L353.7 526 L353.9 525.6 L354.1 526.2 L354.3 525.5 L354.5 526.2 L354.8 525.5 L355 525.9 L355.4 525.7 L355.6 526.2 L355.9 525.8 L356.1 526.3 L356.7 526.1 L357.2 525.4 L357.4 526.1 L357.6 525.6 L357.8 526.2 L358.1 525.7 L358.7 526.4 L359 525.7 L359.2 526.3 L359.6 526.2 L359.8 525.7 L360.5 525.8 L360.9 526.5 L361.2 525.7 L361.4 526.3 L361.8 525.6 L362.3 526.5 L362.5 525.8 L362.9 526.4 L363.4 526.1 L363.6 526.6 L363.8 525.8 L364.5 526.3 L364.7 525.8 L364.9 526.6 L365.1 526 L365.6 526.7 L366.2 526 L366.5 526.4 L366.9 526.1 L367.1 526.5 L367.8 525.8 L368 526.3 L368.4 525.8 L369.3 526.7 L369.5 526 L369.8 526.7 L370 526.3 L370.4 526.8 L370.9 526 L371.1 526.3 L371.5 525.9 L371.8 526.8 L372 526.2 L372.2 526.8 L372.9 525.9 L373.3 526.7 L373.7 526.4 L374 526.7 L374.6 525.9 L375.1 526.9 L375.3 526 L375.5 526.5 L375.7 526.1 L376.2 526.8 L376.4 526 L376.8 526.9 L379.9 425.8 L381.5 405.9 L382.8 398.9 L383.7 397.2 L383.9 397.4 L384.1 396.2 L384.3 396.5 L385 395.6 L385.9 394.9 L386.1 395.2 L386.6 394.7 L386.8 395.4 L387.4 395 L387.7 394.3 L388.1 395 L389 394 L389.6 394.9 L390.3 394 L390.5 394.5 L390.7 393.8 L391 394.2 L391.4 394.1 L391.6 394.6 L392.1 393.7 L392.5 394.5 L393 393.8 L393.2 394.3 L394.1 393.7 L394.3 394.2 L394.7 393.5 L395.2 394.3 L395.6 393.4 L396 394.2 L396.7 393.5 L396.9 394.3 L397.6 393.4 L397.8 394.2 L398.5 393.3 L398.7 393.8 L398.9 393.2 L399.1 394 L399.6 394 L399.8 393.5 L400 394 L400.7 394 L400.9 393.1 L401.1 393.7 L401.3 393.1 L401.8 393.8 L402 393.1 L402.2 394 L402.4 393 L402.7 394 L403.1 393.4 L403.3 394 L403.6 393.2 L403.8 393.9 L404 393.1 L404.2 393.9 L404.4 393.4 L404.7 393.7 L405.8 393.2 L406.2 393.7 L406.4 393.1 L406.6 393.5 L406.9 392.9 L407.7 393.8 L408.6 392.8 L409.5 393.7 L410.4 392.7 L411.5 393.2 L412.2 392.8 L412.4 393.2 L412.8 392.8 L413.3 393.1 L413.7 392.8 L414.2 393.4 L414.6 393 L414.8 393.6 L415.3 392.7 L415.5 393.4 L416.1 392.6 L416.8 393.2 L417.2 392.9 L417.5 393.2 L417.7 392.8 L417.9 393.6 L418.3 392.8 L418.8 393.5 L419.7 392.6 L419.9 393.3 L420.3 393.4 L420.6 392.5 L421 393.4 L421.2 396.8 L423.2 471.1 L424.7 504.5 L425.6 513.1 L426.7 519.6 L427 519.5 L427.6 522.2 L427.8 521.9 L428.7 523.8 L429.4 523.5 L429.8 524.3 L430.7 524.4 L431.2 525.1 L432.9 524.4 L433.1 525.2 L433.8 525.4 L434 525 L434.5 525.5 L434.9 524.7 L435.3 525.7 L436 524.9 L436.5 525.8 L436.7 525.3 L437.1 525.8 L438.2 525.4 L438.9 525.8 L439.1 525.1 L439.3 525.8 L439.5 525.5 L440.4 526.1 L441.1 525.4 L441.5 526 L441.8 525.3 L442 526.1 L442.4 525.3 L442.6 526.1 L442.9 525.4 L443.3 526.2 L444.4 525.5 L444.8 526.2 L445.3 525.6 L445.5 526.3 L445.7 525.4 L446.2 526.2 L446.8 526 L447.3 526.4 L448.4 525.6 L448.8 525.9 L449 525.7 L449.7 526.3 L449.9 525.7 L450.4 525.7 L451 526.6 L451.2 525.8 L451.7 526.1 L452.1 525.7 L452.6 526.3 L453.5 526.2 L453.7 526.7 L454.6 525.8 L455 526.6 L455.4 526.1 L455.9 526.7 L456.1 526.1 L456.3 526.5 L456.5 526.1 L456.8 526.6 L457 525.9 L457.2 526.5 L458.1 525.9 L458.8 526.8 L459.4 525.8 L459.9 526.7 L460.3 525.9 L460.5 526.3 L461 526 L462.1 526.8 L462.3 525.9 L462.5 526.9 L463.2 525.9 L463.4 526.7 L463.8 526.1 L464.1 526.6 L464.7 526.9 L464.9 526 L465.4 526.9 L465.8 526.8 L466.3 526 L466.5 526.8 L467.4 526 L467.6 526.4 L467.8 526 L468.2 526.5 L468.5 526.1 L469.8 526.9 L470.2 526.2 L470.5 526.9 L471.1 526.6 L471.3 527 L472.2 526.1 L472.4 526.9 L472.7 526.4 L472.9 526.8 L474 526 L474.2 527 L474.7 526.5 L475.1 527 L475.5 526.5 L476 527 L476.9 526 L478.2 527 L478.8 526.2 L479.1 527 L479.7 526.7 L479.9 526.2 L480.2 526.8 L480.8 526.1 L481.5 527 L481.9 526.1 L482.2 526.9 L482.6 526.4 L483.5 526.4 L483.7 526.8 L484.8 526.2 L485 526.7 L485.7 526.1 L485.9 526.8 L486.1 526.3 L486.4 526.8 L486.6 526.3 L486.8 527.1 L487.7 526.2 L488.6 527.1 L491.7 426.1 L493.2 405.9 L494.3 399.9 L494.5 400 L495.2 397.3 L495.4 396.9 L495.6 397.4 L496.1 395.9 L496.5 396.3 L496.7 395.4 L497.2 395.7 L498.1 395.1 L498.3 395.4 L498.7 394.5 L499.8 395.2 L500 394.2 L500.3 395 L500.7 394.4 L501.4 394.5 L501.6 394.1 L501.8 394.5 L502 394.1 L502.3 394.8 L502.5 394.1 L502.7 394.7 L503.1 394.3 L503.4 394.6 L503.8 393.9 L504 394.7 L504.5 393.7 L504.9 394.2 L505.1 393.7 L505.3 393.8 L505.6 394.4 L505.8 393.9 L506 394.4 L506.2 393.7 L506.4 393.9 L506.7 393.7 L506.9 394.4 L507.1 393.5 L507.3 394.2 L507.5 393.5 L507.8 394 L508 393.5 L508.4 394.3 L508.9 393.4 L509.5 394.1 L510.2 393.3 L511.1 394 L511.3 393.2 L511.7 393.9 L512 393.3 L512.2 393.9 L512.6 393.2 L512.8 394 L513.7 393.7 L514.4 394 L515.1 393.2 L515.3 393.7 L515.5 393.4 L515.7 393.6 L515.9 393.2 L516.2 393.8 L516.4 393.4 L517.5 393.6 L517.9 392.9 L518.8 393.5 L519 393.2 L519.9 393.3 L520.6 393.6 L520.8 393.2 L521 393.5 L521.5 392.8 L521.9 393.4 L522.1 392.8 L522.3 393.4 L523 393 L523.2 393.3 L523.7 392.8 L523.9 393.4 L524.6 393 L525 393.5 L525.7 392.7 L525.9 393 L526.3 392.8 L526.8 393.6 L527 393 L527.2 393.2 L527.4 392.9 L527.6 393.3 L528.1 392.8 L528.3 393.5 L528.5 393.2 L528.7 393.4 L529.4 392.6 L529.9 393.4 L531 392.6 L531.6 393.4 L531.8 392.5 L532.1 393.4 L532.3 392.5 L532.5 393.4 L532.7 392.9 L533.2 393.4 L533.6 392.7 L534.3 393.4 L534.7 393.3 L535.6 392.5 L535.8 393.4 L536.3 392.9 L536.5 393.3 L536.7 393.1 L536.9 393.3 L537.1 392.6 L537.6 393.4 L538.2 392.5 L538.7 393.2 L538.9 392.5 L539.1 393.4 L539.3 392.7 L539.6 393.4 L539.8 392.6 L540 393.2 L540.4 392.6 L540.9 393.3 L541.1 393 L541.3 393.3 L541.8 392.4 L542 392.9 L542.4 392.7 L542.7 393.3 L543.3 392.6 L544.9 393.4 L545.1 392.7 L545.7 392.8 L546 393.3 L546.4 392.6 L546.6 393.4 L547.1 392.6 L547.3 393 L547.5 392.5 L548 392.7 L548.2 392.5 L548.8 393.3 L549.3 392.7 L549.9 393 L550.2 392.5 L550.4 393.1 L550.6 392.7 L551.3 393.4 L551.9 392.9 L552.2 393.3 L552.8 392.4 L553 392.9 L553.5 392.7 L553.7 393.3 L554.4 392.4 L555 392.9 L555.2 392.4 L555.5 392.8 L555.9 392.6 L556.3 393.3 L556.8 392.5 L557.5 393.2 L557.7 392.4 L557.9 393.2 L558.1 392.7 L558.3 393.3 L558.8 392.4 L559 393.1 L559.9 392.8 L560.3 393.3 L560.5 392.7 L560.8 393.1 L561 392.7 L561.4 393.1 L561.6 392.3 L561.9 393 L562.1 392.3 L562.3 392.8 L563 393.2 L563.2 392.6 L563.9 393.1 L564.5 392.6 L565 392.9 L565.8 392.7 L566.3 393.3 L566.7 392.3 L567.2 392.5 L567.4 393.1 L567.6 392.5 L568.5 393.2 L568.9 392.3 L569.4 392.9 L569.8 392.4 L570.3 393.2 L570.5 392.3 L570.7 392.8 L571.1 392.7 L571.4 393.3 L571.6 392.8 L571.8 393.3 L572.2 392.3 L572.9 393.2 L573.1 392.6 L574 392.4 L574.2 392.9 L575.1 392.6 L577.5 477.9 L578.6 501.2 L580 515.1 L581.3 520.9 L581.7 522.1 L582.2 522 L582.8 523.3 L583.1 523.6 L583.5 523.2 L583.9 524.3 L584.2 523.6 L584.4 524.3 L584.6 523.9 L585.1 524.7 L585.7 524.1 L586.2 525.1 L586.6 524.3 L587 525.3 L587.9 524.4 L589 525.5 L589.2 524.8 L589.5 525.2 L589.7 524.8 L589.9 525.5 L590.1 524.8 L591.2 525.3 L591.5 525.7 L591.9 525.3 L592.1 525.7 L593 525 L593.2 525.5 L593.7 525.6 L594.3 525.1 L594.5 525.9 L595.4 525.5 L595.6 525.9 L596.1 525.5 L596.3 525.9 L596.5 525.3 L596.8 526.1 L597 525.4 L597.2 526.1 L597.9 525.3 L598.3 526.3 L598.7 525.4 L599.2 525.9 L599.4 525.6 L599.6 526.1 L599.8 525.6 L600.1 526 L600.3 525.4 L600.5 526.4 L600.7 525.8 L600.9 526.3 L601.4 525.5 L601.6 526 L601.8 525.6 L602.3 526.5 L602.5 525.7 L602.9 526.4 L603.4 525.6 L603.6 526.5 L603.8 525.9 L604.3 526.5 L604.7 526.5 L605.8 525.7 L606.2 526.5 L606.7 525.8 L606.9 526.4 L607.4 525.7 L608 526.4 L608.2 525.7 L609.1 526.7 L609.6 525.8 L610 526.6 L611.1 526.6 L611.5 525.8 L612.2 526.5 L612.4 525.9 L612.9 526.8 L613.3 526 L614 526.6 L614.6 526 L615.1 526.8 L616 526.1 L616.4 526.9 L616.6 525.9 L617.3 526.7 L617.7 526.7 L618.2 526 L618.4 526.6 L619.3 526.9 L619.7 525.9 L619.9 526.9 L620.4 526.5 L620.8 526.7 L621.5 516.2 L623.9 430.4 L625 412.1 L626.1 403.5 L626.8 399.8 L628.3 396.2 L628.8 396.6 L629.9 394.9 L630.3 395 L630.8 394.6 L631 395.4 L631.2 394.7 L631.4 395.2 L631.9 394.8 L632.3 395.1 L633 394.1 L633.4 395 L633.6 394.4 L633.8 394.7 L634.3 394.3 L634.7 394.7 L635 394.3 L635.2 394.7 L635.6 393.8 L635.8 394.7 L636.3 393.8 L636.5 394.6 L636.7 394 L637.2 394.4 L637.4 393.7 L637.6 394 L638.3 393.5 L638.5 393.8 L638.7 393.6 L638.9 394.4 L639.4 393.9 L639.8 394 L640 393.5 L640.3 393.8 L640.5 393.5 L640.7 393.9 L640.9 393.4 L641.1 393.9 L641.4 393.3 L641.8 393.9 L642 393.6 L642.2 398.1 L643.8 457.4 L645.1 493.9 L646 507.7 L646.9 515.7 L648.6 522.4 L649.1 523.5 L649.7 523.6 L650 524.2 L650.2 523.9 L650.4 524.6 L651.1 524.3 L651.3 524.7 L651.5 524.5 L651.7 524.9 L652.2 524.6 L652.6 525 L652.8 524.6 L653.1 525.6 L654.4 525.1 L654.6 525.8 L654.8 525 L655 525.6 L655.3 524.9 L655.5 525.6 L655.7 525.1 L655.9 525.2 L656.1 525.9 L656.8 525 L657 525.8 L657.3 525.7 L657.7 526.1 L658.1 525.5 L658.4 526 L658.6 525.3 L658.8 525.9 L659 525.2 L659.2 525.5 L659.5 525.2 L659.7 525.8 L659.9 525.4 L661 526 L661.4 525.4 L661.7 526.3 L661.9 525.5 L662.3 526.2 L662.8 525.5 L663.2 525.9 L665.9 435.5 L667 414.8 L668.1 403.9 L668.7 400.4 L670.1 396.9 L670.5 396 L670.7 396.5 L670.9 396.2 L671.4 395.2 L671.6 395.6 L671.8 395 L672 395.4 L672.3 394.5 L672.7 394.3 L673.1 395.1 L673.4 394.3 L673.8 394.6 L674.5 394.1 L675.4 394.7 L675.8 393.7 L676 394.6 L676.5 393.6 L676.7 394 L676.9 393.6 L677.1 394.4 L677.6 393.7 L677.8 394.4 L678.2 393.5 L678.4 394.2 L678.9 393.5 L679.6 394.1 L679.8 393.5 L680 394.2 L680.7 393.6 L680.9 394.3 L681.3 393.9 L681.5 394.1 L681.8 393.3 L682 393.8 L682.4 393.8 L682.9 393.2 L683.3 394.1 L684 393.2 L684.9 394.1 L685.5 393.3 L686.2 393.7 L686.4 393 L686.8 393.7 L687.1 397.6 L689.7 488.6 L691 509.8 L692.1 518.1 L693.2 521.6 L693.9 522.3 L694.1 523.6 L694.3 522.9 L695.7 524.8 L695.9 524 L696.3 524.6 L696.8 524.4 L697 525.2 L697.9 524.5 L698.1 525.3 L698.5 524.8 L698.8 525.2 L699 524.7 L699.4 525.6 L700.1 524.8 L701 525.4 L701.6 524.9 L701.9 525.5 L702.5 525.2 L703 525.9 L703.2 525.4 L704.1 526.1 L704.7 525.3 L704.9 526.1 L705.2 525.2 L705.4 525.7 L705.6 525.4 L705.8 526.2 L706.3 525.4 L706.5 526.2 L706.9 525.6 L707.2 526.2 L707.6 525.5 L707.8 526.2 L708.5 514.8 L710.9 430 L711.8 414.4 L712.7 405.7 L714.2 397.9 L714.7 397 L715.1 396.9 L715.3 395.8 L715.5 396.3 L716.6 394.7 L716.9 395.1 L717.1 394.7 L717.3 395.2 L717.8 394.5 L718 394.8 L718.4 394.2 L718.6 394.7 L718.9 394 L719.1 394.7 L719.5 394.2 L719.7 394.5 L720 393.9 L720.4 394.6 L720.6 394 L720.8 394.2 L721.1 394 L721.5 394.5 L721.9 394 L722.4 394.3 L722.6 393.6 L722.8 394.2 L723.1 394.1 L723.5 393.4 L723.9 394.3 L724.2 393.6 L724.4 394.3 L724.6 393.5 L724.8 394.1 L725.3 393.9 L725.5 394.1 L725.7 393.6" fill="none" stroke="#4a9ccb" stroke-width="2.1" stroke-linejoin="round"/>
<text class="se" x="720.4" y="402.8" font-size="23.4" text-anchor="end" fill="#3b7fa8" opacity="0.88">100 Mbps</text>
<rect x="63.3" y="378.3" width="662.4" height="170.5" fill="none" stroke="#161616" stroke-width="2"/>
<text class="se" x="57.1" y="384.3" font-size="18" text-anchor="end" fill="#111" >1.0</text>
<line x1="63.3" y1="420.9" x2="68.3" y2="420.9" stroke="#111" stroke-width="1.8" />
<line x1="725.7" y1="420.9" x2="721.7" y2="420.9" stroke="#111" stroke-width="1.4" />
<text class="se" x="57.1" y="426.9" font-size="18" text-anchor="end" fill="#111" >0.5</text>
<line x1="63.3" y1="463.5" x2="68.3" y2="463.5" stroke="#111" stroke-width="1.8" />
<line x1="725.7" y1="463.5" x2="721.7" y2="463.5" stroke="#111" stroke-width="1.4" />
<text class="se" x="57.1" y="469.5" font-size="18" text-anchor="end" fill="#111" >0</text>
<line x1="63.3" y1="506.2" x2="68.3" y2="506.2" stroke="#111" stroke-width="1.8" />
<line x1="725.7" y1="506.2" x2="721.7" y2="506.2" stroke="#111" stroke-width="1.4" />
<text class="se" x="57.1" y="512.2" font-size="18" text-anchor="end" fill="#111" >-0.5</text>
<text class="se" x="57.1" y="554.8" font-size="18" text-anchor="end" fill="#111" >-1.0</text>
<line x1="63.3" y1="399.6" x2="66.3" y2="399.6" stroke="#111" stroke-width="1.6" />
<line x1="63.3" y1="442.2" x2="66.3" y2="442.2" stroke="#111" stroke-width="1.6" />
<line x1="63.3" y1="484.9" x2="66.3" y2="484.9" stroke="#111" stroke-width="1.6" />
<line x1="63.3" y1="527.5" x2="66.3" y2="527.5" stroke="#111" stroke-width="1.6" />
<text class="se" x="63.3" y="570.4" font-size="18.2" text-anchor="middle" fill="#111" >0</text>
<line x1="118.5" y1="548.8" x2="118.5" y2="545.8" stroke="#111" stroke-width="1.6" />
<line x1="173.7" y1="548.8" x2="173.7" y2="543.8" stroke="#111" stroke-width="1.8" />
<text class="se" x="173.7" y="570.4" font-size="18.2" text-anchor="middle" fill="#111" >50</text>
<line x1="228.9" y1="548.8" x2="228.9" y2="545.8" stroke="#111" stroke-width="1.6" />
<line x1="284.1" y1="548.8" x2="284.1" y2="543.8" stroke="#111" stroke-width="1.8" />
<text class="se" x="284.1" y="570.4" font-size="18.2" text-anchor="middle" fill="#111" >100</text>
<line x1="339.3" y1="548.8" x2="339.3" y2="545.8" stroke="#111" stroke-width="1.6" />
<line x1="394.5" y1="548.8" x2="394.5" y2="543.8" stroke="#111" stroke-width="1.8" />
<text class="se" x="394.5" y="570.4" font-size="18.2" text-anchor="middle" fill="#111" >150</text>
<line x1="449.7" y1="548.8" x2="449.7" y2="545.8" stroke="#111" stroke-width="1.6" />
<line x1="504.9" y1="548.8" x2="504.9" y2="543.8" stroke="#111" stroke-width="1.8" />
<text class="se" x="504.9" y="570.4" font-size="18.2" text-anchor="middle" fill="#111" >200</text>
<line x1="560.1" y1="548.8" x2="560.1" y2="545.8" stroke="#111" stroke-width="1.6" />
<line x1="615.3" y1="548.8" x2="615.3" y2="543.8" stroke="#111" stroke-width="1.8" />
<text class="se" x="615.3" y="570.4" font-size="18.2" text-anchor="middle" fill="#111" >250</text>
<line x1="670.5" y1="548.8" x2="670.5" y2="545.8" stroke="#111" stroke-width="1.6" />
<text class="se" x="725.7" y="570.4" font-size="18.2" text-anchor="middle" fill="#111" >300</text>
<rect x="105.4" y="578.9" width="14" height="169.9" fill="#dff0cd" />
<rect x="151.4" y="578.9" width="29.8" height="169.9" fill="#dff0cd" />
<rect x="228.9" y="578.9" width="61.8" height="169.9" fill="#dff0cd" />
<rect x="323.6" y="578.9" width="16.6" height="169.9" fill="#dff0cd" />
<rect x="357" y="578.9" width="15.2" height="169.9" fill="#dff0cd" />
<rect x="388.3" y="578.9" width="28.9" height="169.9" fill="#dff0cd" />
<rect x="434.5" y="578.9" width="44.6" height="169.9" fill="#dff0cd" />
<rect x="497.4" y="578.9" width="15" height="169.9" fill="#dff0cd" />
<rect x="591.5" y="578.9" width="15.2" height="169.9" fill="#dff0cd" />
<rect x="637.6" y="578.9" width="30.2" height="169.9" fill="#dff0cd" />
<rect x="716.2" y="578.9" width="9.5" height="169.9" fill="#dff0cd" />
<path d="M63.3 726.2 L63.7 727.2 L64.2 726.4 L64.8 726.9 L65.5 726.6 L65.7 727.1 L66.6 726.2 L67.9 727.2 L68.8 726.3 L69.7 727.2 L69.9 726.9 L70.1 727.1 L70.6 726.2 L71 727 L71.2 726.3 L72.4 726.4 L72.6 726.9 L72.8 726.2 L73.2 727.1 L73.5 726.5 L74.3 726.7 L74.6 726.3 L74.8 726.7 L75 726.4 L75.2 726.9 L75.4 726.3 L75.9 726.8 L76.3 726.3 L77 727 L77.4 726.5 L77.7 727.1 L77.9 726.3 L78.1 726.9 L78.3 726.3 L78.5 726.9 L78.8 726.2 L80.3 727 L80.7 726.3 L81.2 727.1 L81.4 726.4 L81.8 726.3 L82.1 727 L82.3 726.5 L82.5 727.2 L82.7 726.6 L83.2 727 L83.4 726.3 L83.6 727.1 L84.1 726.4 L84.5 727 L84.7 726.3 L84.9 726.8 L85.2 726.5 L85.4 727.2 L86 726.5 L86.3 727.1 L86.5 726.2 L86.7 727.2 L86.9 726.5 L87.1 727.2 L87.6 726.4 L87.8 727.1 L88.3 726.5 L88.7 727.2 L88.9 726.2 L89.4 727.2 L90 726.5 L90.2 727.1 L90.5 726.9 L90.7 727.2 L91.6 726.3 L92.7 727 L92.9 726.5 L93.3 727.1 L93.8 726.3 L94 727.1 L94.2 726.6 L94.9 727.1 L95.1 726.2 L95.3 727 L95.5 726.6 L96 727.2 L96.2 726.7 L96.4 727.1 L97.3 727.1 L98 726.2 L98.4 726.2 L98.6 727 L99.7 726.4 L100.2 727 L100.6 726.7 L100.8 727.2 L101.3 726.8 L101.5 727.1 L101.7 726.5 L102.2 727.1 L103.3 726.7 L105.3 655.8 L106.6 622.4 L107.2 612.8 L108.6 602.6 L109.4 599.2 L109.7 599.4 L110.3 597.6 L110.8 596.9 L111 597.2 L111.7 595.8 L111.9 596.5 L112.1 595.7 L112.3 596.2 L113.2 595.3 L113.6 595.8 L114.1 595.8 L114.3 594.9 L114.5 595.1 L114.7 594.8 L115.2 595.6 L115.6 594.8 L116.3 595.2 L116.7 594.7 L117 595.2 L117.6 594.4 L118.1 594.4 L121.1 694.8 L122.7 714.7 L124.2 722 L124.7 722.2 L125.1 723.8 L125.6 723.7 L125.8 724.4 L126 724 L126.7 724.9 L126.9 724.4 L128 725.7 L128.4 725 L128.7 725.7 L129.8 725.1 L130.2 725.6 L130.4 725.2 L130.6 725.8 L130.9 725.4 L131.5 725.4 L131.7 726 L132.6 725.3 L133.1 726.3 L133.7 725.5 L134.2 725.6 L134.4 726.4 L134.6 725.5 L135.1 725.8 L135.5 725.6 L135.7 726.4 L135.9 725.6 L136.4 726.3 L136.6 725.8 L137 726.3 L137.3 725.7 L137.5 726.4 L137.7 725.9 L138.8 726.4 L139 725.6 L139.5 726.6 L139.9 725.8 L141.2 726.4 L141.5 726.2 L141.7 726.7 L142.1 726 L142.3 726.6 L142.6 726 L143 726.3 L143.7 725.9 L143.9 726.6 L144.6 726.3 L145 726.8 L145.4 725.8 L145.7 726.5 L146.3 726.4 L146.5 726 L146.8 726.5 L147.6 725.9 L147.9 726.8 L148.1 726 L148.3 726.6 L148.7 726.1 L149.2 726.5 L152.3 626.1 L153.4 610.7 L154.7 601.1 L155.6 598.2 L156 598.2 L156.7 596.6 L157.1 596.5 L157.4 595.9 L157.6 596.3 L157.8 595.6 L158.2 595.8 L158.5 595.3 L158.7 595.7 L159.1 595 L159.3 595.3 L159.8 594.8 L161.1 594.5 L161.3 595.2 L161.8 594.8 L162.4 595.2 L162.7 594.4 L162.9 595 L163.3 594.4 L163.5 595.1 L163.8 594.2 L164.2 595.2 L164.9 594.2 L166 594.8 L166.2 594.2 L166.6 594.7 L166.9 594.3 L167.1 594.8 L167.5 594 L167.7 594.8 L168.6 594.4 L169.5 594.6 L169.7 594.2 L170.2 594.4 L170.4 594 L170.6 594.7 L171.1 593.8 L171.3 594.3 L171.5 593.9 L171.7 594.5 L172.2 593.8 L172.4 594.3 L172.6 593.8 L173 594.2 L173.3 593.6 L173.5 594.2 L173.9 593.9 L174.1 594.2 L174.4 593.7 L175 594 L175.5 593.5 L175.9 594 L176.3 593.9 L176.6 594.4 L177 593.4 L177.2 594.3 L177.5 593.5 L177.7 593.7 L177.9 593.5 L178.1 594.3 L178.6 593.6 L178.8 594.4 L179.2 594 L179.7 594.2 L179.9 593.7 L182.5 684.2 L183.9 707.6 L184.7 715.5 L185.6 719.7 L187.4 723.7 L187.6 723.3 L188.1 724.2 L189.2 724.6 L189.6 724.4 L190.3 725.1 L190.7 724.5 L190.9 725.3 L191.1 724.8 L191.6 724.9 L191.8 725.6 L192 725.1 L192.5 725.5 L192.7 725.1 L193.4 725.1 L194 725.8 L194.2 725.1 L194.7 725.1 L195.1 725.9 L195.6 725.9 L195.8 725.4 L196.2 725.9 L196.7 725.1 L197.5 725.9 L197.8 725.3 L198.2 725.9 L198.4 725.3 L198.9 725.8 L199.8 725.6 L200 726.2 L200.2 725.6 L200.4 726.1 L200.6 725.4 L200.9 726.1 L201.7 725.9 L202 725.5 L202.2 726.2 L202.4 725.7 L202.8 725.7 L204.2 726.3 L205.1 726 L205.5 726.4 L205.9 725.7 L206.2 726.4 L206.8 725.7 L207.5 726.4 L207.7 725.8 L208.1 726.7 L208.4 725.8 L208.6 726.5 L209.2 726.5 L209.5 726 L209.7 726.4 L210.1 726.3 L210.4 725.9 L210.6 726.7 L210.8 726.2 L211 726.6 L211.5 726.2 L211.9 726.7 L212.3 725.9 L212.8 726.3 L213.2 725.9 L213.4 726.7 L213.9 725.9 L214.3 726.7 L214.8 726 L216.1 726.8 L216.3 726.2 L216.5 726.8 L216.8 726.3 L217.2 726.5 L217.4 725.9 L217.6 726.5 L218.3 726.7 L219 726.1 L219.2 726.9 L219.4 726 L219.8 726.9 L220.1 726.3 L220.7 726.9 L221.4 726.2 L222.1 726.3 L222.5 727 L222.7 726.5 L223.2 726.9 L224.3 726.1 L224.5 726.9 L224.7 726.5 L224.9 727 L225.1 726.4 L225.6 726.9 L226.5 726.1 L226.7 726.7 L228.9 648.2 L230 622.2 L231.1 608.2 L232.4 600.4 L233.3 597.8 L234 597.4 L234.2 596.5 L234.4 597.1 L234.9 596 L235.1 595.7 L235.3 596.1 L235.5 595.5 L235.7 596.2 L236 595.6 L236.2 596.1 L236.8 595.9 L237.7 595.1 L238 595.6 L238.8 594.6 L239.1 595.4 L239.7 595.1 L239.9 594.4 L240.6 594.9 L241 594.3 L241.7 595.1 L241.9 594.6 L242.1 595.1 L242.4 594.8 L242.6 595.1 L243 594.1 L243.7 594.8 L244.1 594.6 L244.8 594.8 L245.2 594 L245.9 594.9 L246.6 593.9 L247.4 594.6 L248.1 593.9 L248.3 594.3 L249.2 594.2 L249.4 593.7 L249.9 594.2 L250.3 593.7 L250.8 594 L251 593.6 L251.2 594.5 L252.1 593.6 L252.5 594.1 L253 593.7 L253.4 594.1 L253.6 593.7 L254.1 594.3 L254.3 593.8 L254.7 594 L255.2 593.4 L255.6 594 L255.8 593.5 L256.3 594 L256.9 593.5 L257.8 594.3 L258 593.9 L258.3 594.2 L258.5 593.4 L258.7 593.9 L259.1 593.6 L259.4 594.1 L259.6 593.4 L260 594.2 L260.7 593.3 L261.4 594.2 L262 593.5 L262.2 594.2 L263.1 593.2 L264 594 L264.2 593.6 L264.4 594 L264.7 593.9 L264.9 593.3 L265.8 593.9 L266.2 593.6 L266.4 593.9 L266.9 593.1 L267.1 593.9 L267.5 593.3 L268 593.9 L268.2 593.5 L268.4 593.9 L268.6 593.2 L269.3 593.9 L269.7 593.6 L270.4 593.9 L270.9 593.1 L271.3 593.4 L271.5 593.2 L271.7 593.9 L272.2 593.3 L272.4 594 L272.8 593.2 L273.3 593.8 L273.7 593.2 L273.9 594 L274.2 593.1 L274.4 593.7 L274.6 593.4 L275 593.9 L275.3 593 L275.5 593.8 L275.7 593.2 L276.2 593.5 L276.4 593 L276.6 593.9 L277 593.5 L277.3 593.9 L277.5 593.2 L277.7 593.4 L277.9 593.2 L278.4 594 L278.6 593.1 L278.8 593.8 L279 593.6 L279.2 593.8 L279.5 593.4 L280.1 593.9 L280.6 593.2 L280.8 593.8 L282.1 593.1 L282.3 593.8 L282.6 593 L282.8 593.9 L283.2 593.8 L283.4 593.2 L283.7 593.4 L284.1 592.9 L284.8 593.6 L285 593 L285.4 593.7 L285.6 593.4 L286.1 593.9 L286.7 593 L287.2 593.8 L287.6 592.9 L288.5 593.9 L289 592.9 L289.2 593.8 L289.4 593.1 L289.6 597 L291.4 664.7 L292.9 701.3 L294 713.4 L294.9 718.7 L295.6 721.1 L295.8 721 L296.7 723.1 L297.3 723.1 L297.6 724.1 L297.8 723.5 L298.2 724.4 L298.5 724 L298.9 724.2 L300.4 725.2 L301.5 724.7 L301.8 725.2 L302 725 L302.6 725.5 L303.1 724.7 L303.5 725.5 L304.4 725.4 L304.6 725.8 L305.3 725 L305.7 725.9 L306 725.1 L306.6 725.8 L307.5 725.8 L307.9 725.3 L308.2 725.8 L309.3 725.2 L309.5 726 L309.7 725.4 L309.9 725.9 L310.6 725.7 L311.3 726.3 L311.5 725.4 L312.1 726.3 L312.4 725.5 L312.6 725.9 L313 725.8 L313.2 726.3 L314.1 725.5 L314.3 726 L314.6 725.5 L315 726 L315.2 725.6 L315.7 726.5 L315.9 725.7 L316.1 726.4 L316.6 725.8 L317 726.4 L317.2 725.8 L317.4 726.6 L317.9 725.7 L318.3 726.3 L318.5 725.6 L318.8 725.9 L319.4 725.7 L319.6 726.1 L319.9 725.9 L321 726.7 L321.2 726.1 L321.4 726.3 L324.3 630.5 L324.9 618.3 L326.3 604.8 L327.6 598.8 L328.3 597.2 L328.7 597.5 L329.1 596 L329.8 596 L330.2 595.3 L331.1 595.9 L331.6 595 L332.2 594.7 L332.5 595.6 L332.9 595.2 L333.1 595.5 L333.6 594.5 L334 595.3 L334.2 594.7 L335.1 595 L335.5 594.3 L336.2 595.1 L337.1 594.9 L337.3 594.4 L337.8 594.8 L338 594.1 L338.2 595 L338.4 594 L338.9 594.3 L339.3 604.8 L341.7 690 L343.5 714.5 L344.8 720.9 L346.1 723.9 L346.6 723.8 L347.2 724.8 L347.7 724.6 L348.1 725.2 L348.8 724.9 L349.9 725.7 L350.1 725.2 L350.8 725.9 L351 725 L351.2 725.9 L352.1 725.1 L352.5 725.9 L352.8 725.2 L353 726.1 L354.3 725.2 L354.8 725.5 L357.4 635.5 L358.3 618.1 L359.4 605.7 L360.5 599.7 L362 596.3 L362.3 596.7 L363.4 595 L363.6 595.7 L364 594.9 L364.3 595.3 L364.5 595 L364.7 595.3 L364.9 594.6 L365.1 595 L365.6 594.7 L365.8 595 L366 594.5 L366.5 594.8 L367.3 594.2 L367.8 594.7 L368.2 594.2 L368.4 595 L368.7 594.3 L369.3 594.8 L370.2 593.9 L370.9 594 L371.1 598.7 L373.7 689.9 L374.6 705.1 L375.7 715.9 L377.1 721.8 L377.5 722.6 L377.9 722.7 L378.2 723.7 L378.8 724.1 L379.3 723.9 L379.5 725 L380.6 724.6 L380.8 725.4 L381.3 724.8 L381.5 725.5 L381.9 725.1 L382.1 725.6 L382.4 725.3 L382.6 725.7 L383.2 725.1 L384.1 725.6 L384.3 725 L385 726 L385.7 725.2 L386.1 726.1 L389 630.5 L390.1 612.2 L391.4 601.6 L393 596.9 L393.2 597.1 L393.6 595.9 L394.1 596.4 L394.5 595.5 L394.7 595.8 L394.9 594.9 L395.2 595.7 L395.4 594.8 L395.6 595.3 L395.8 594.6 L396.3 595.3 L396.9 594.4 L397.4 595 L398 594.4 L398.3 594.9 L398.5 594.6 L399.8 594.6 L400 594 L400.5 594.8 L400.9 594.1 L401.3 594.8 L402 594 L402.2 594.6 L402.4 593.9 L402.9 594.8 L403.8 593.8 L404 594.5 L404.2 593.9 L404.4 594.7 L404.7 593.8 L405.1 594.6 L405.5 593.7 L406.4 594.3 L406.9 593.8 L407.1 594.3 L407.7 594.3 L408 593.6 L408.2 594.5 L408.9 593.7 L409.1 593.9 L409.7 593.5 L410.2 594.4 L410.6 594 L410.8 594.3 L411.3 594.1 L411.5 593.4 L412.6 594.3 L412.8 593.9 L413 594.2 L413.5 593.5 L413.7 593.9 L414.4 593.4 L414.8 594 L415 593.4 L415.5 594 L415.9 593.4 L418.3 678.4 L419.5 701.6 L420.6 713.6 L421.4 718.8 L423.2 723.5 L423.6 723.5 L423.9 724.1 L424.1 723.5 L425 724.8 L425.9 724.5 L426.1 725.2 L426.3 724.5 L427 724.9 L427.4 724.5 L427.8 725.2 L428.3 724.8 L428.7 724.9 L428.9 725.4 L429.2 725.1 L429.4 725.5 L429.6 725.2 L429.8 725.8 L430.5 725 L430.7 725.4 L430.9 725 L431.4 725.9 L431.6 725.4 L431.8 725.6 L432.3 725.4 L432.5 721.3 L434.2 654.5 L435.3 625.6 L436.9 605.8 L438 599.7 L439.3 596.6 L439.5 596.8 L439.8 596.1 L440.4 596 L440.6 595.3 L440.9 595.4 L441.3 594.9 L441.5 595.6 L441.8 595 L442.2 595.2 L442.4 594.5 L442.6 595.1 L443.1 594.8 L443.7 595.2 L444.4 594.1 L444.8 594.7 L445.1 594 L445.3 594.9 L445.9 594.3 L446.4 594.9 L447.3 594.1 L447.7 594.7 L448.8 593.8 L449.3 594.3 L449.5 593.9 L450.8 594.2 L451 593.8 L451.2 594.2 L451.7 593.7 L452.1 594.4 L452.3 593.6 L452.6 594.3 L453 594.5 L453.7 593.7 L453.9 594.3 L454.3 593.7 L454.6 594.5 L454.8 594 L455 594.3 L455.2 593.7 L455.9 594.3 L456.3 593.7 L456.8 594.4 L457.2 594.3 L457.6 593.6 L458.3 594.3 L458.5 593.6 L458.8 594.1 L459.2 593.3 L459.4 594.1 L459.6 593.6 L460.3 593.9 L460.5 593.6 L461 594.2 L461.2 593.4 L461.4 594 L462.3 593.5 L462.5 594.1 L462.9 593.6 L463.4 594 L463.8 593.2 L464.5 594 L464.9 593.4 L465.2 593.8 L465.8 593.8 L466 593.5 L466.3 593.8 L466.5 593.2 L467.4 594.1 L467.6 593.3 L468.2 594.1 L468.5 593.3 L468.7 593.9 L468.9 593.2 L469.1 593.7 L469.8 593.4 L470 593.9 L470.7 594 L471.1 593.1 L471.3 594.1 L471.6 593.2 L472.2 594 L472.9 593.5 L473.3 593.9 L473.5 593.1 L473.8 593.4 L474 593.3 L474.2 593.8 L474.4 593.3 L474.9 593.2 L475.1 593.8 L475.3 593 L475.8 593.9 L476 593.1 L476.2 593.7 L476.4 593.1 L476.9 593.9 L477.1 593.5 L477.7 593.3 L480.4 684.1 L481.9 709.5 L483.3 718.9 L484.4 722.1 L484.8 722.1 L485.2 723.4 L485.7 723.2 L486.4 723.8 L486.6 724.6 L487 724.8 L487.5 724.5 L487.7 725.1 L487.9 724.3 L488.1 724.6 L488.6 724.3 L489.4 724.9 L489.9 724.7 L490.1 725.2 L490.3 724.7 L490.5 725.4 L491 724.7 L491.2 725.4 L491.4 724.8 L492.3 725.7 L493 724.9 L493.6 725.5 L494.3 725.1 L494.5 725.6 L494.7 725.3 L495.2 725.8 L497.4 647.3 L498.5 621.4 L500 603.9 L501.6 597.7 L502.5 596.5 L502.7 596.7 L503.1 595.3 L503.8 595.8 L504.7 594.7 L505.1 595.3 L505.3 594.4 L505.6 594.8 L505.8 594.4 L506.4 594.6 L507.5 594.1 L508.2 594.8 L508.9 594.2 L509.1 594.5 L509.3 593.9 L509.8 594.9 L510 594.3 L510.2 594.2 L510.4 594.6 L510.6 594.1 L510.9 594.6 L511.1 593.9 L513.3 672.4 L514.4 698.2 L515.9 715.9 L516.6 719.1 L518.1 723.3 L518.4 723.1 L519.3 724.3 L519.7 724.2 L519.9 724.9 L520.1 724.3 L520.6 725.3 L521 724.6 L521.9 725.5 L522.8 725.1 L523 725.6 L523.2 725.1 L523.9 725.8 L524.1 725.3 L524.8 725.2 L525 725.7 L525.4 725.4 L525.9 726.1 L526.3 725.2 L526.5 725.7 L526.8 725.2 L527 726.1 L527.2 725.6 L527.9 725.9 L528.1 725.5 L528.3 726.1 L529.2 725.9 L529.4 725.4 L530.1 726.2 L531 725.4 L531.4 726.1 L531.8 725.5 L532.3 726.4 L532.5 725.8 L532.7 726.3 L533.4 725.6 L533.8 726.2 L534.7 726.4 L535.1 725.7 L535.4 726.4 L535.6 725.8 L536.3 726.4 L537.1 725.7 L537.4 726.6 L538 726.3 L538.2 725.7 L538.9 726.1 L539.3 725.9 L539.6 726.5 L540 725.8 L540.2 726.6 L540.9 725.9 L541.3 726.7 L541.8 726.2 L542.2 726.8 L542.4 726 L542.9 726.8 L543.3 726.2 L544 726.9 L544.2 726.1 L544.6 726.9 L544.9 726.3 L545.1 726.8 L545.5 726.2 L545.7 726.7 L546.2 726.2 L546.4 726.6 L546.6 726.3 L546.9 726.9 L547.1 726.2 L547.3 726.7 L547.7 725.9 L548.2 726.8 L548.4 726.2 L549.3 726.8 L549.5 726 L549.9 726.8 L550.2 726.2 L550.4 726.9 L550.6 726.6 L551 727 L551.3 726 L551.5 726.5 L551.7 726.3 L551.9 726.9 L552.2 726.6 L552.4 727 L552.6 726.2 L552.8 727 L553.3 726.1 L553.5 726.8 L554.1 727 L554.8 726.2 L555.2 726.9 L555.5 726.6 L555.9 727 L556.3 726.2 L556.6 727 L556.8 726.1 L557.2 726.1 L557.7 726.8 L557.9 726.3 L558.1 726.9 L558.6 726.2 L558.8 726.5 L559 726.3 L559.2 726.9 L559.4 726.2 L559.7 726.9 L560.3 726.2 L560.5 727 L561 726.3 L561.2 726.9 L561.6 726.9 L561.9 726.1 L562.3 726.7 L562.5 726.1 L563.2 727 L563.4 726.4 L564.1 727.1 L564.5 726.2 L565.4 726.9 L565.6 726.2 L565.8 726.7 L566.1 726.2 L566.3 726.5 L566.9 726.1 L568 726.9 L568.5 726.2 L569.2 727.1 L569.6 726.2 L570 727 L570.5 726.3 L570.7 726.7 L571.1 726.8 L571.8 726.2 L572 726.8 L572.2 726.2 L572.7 726.7 L572.9 726.3 L573.1 726.9 L573.6 726.2 L574.2 726.6 L574.7 726.4 L574.9 726.9 L575.1 726.2 L575.6 726.7 L576 726.2 L576.2 727.2 L576.7 726.3 L576.9 727.1 L577.1 726.5 L577.8 727.1 L578.6 726.4 L579.1 727 L579.5 726.2 L579.8 726.9 L580 726.5 L580.2 727 L580.9 726.3 L581.3 727 L581.5 726.6 L581.7 727.1 L582 726.4 L582.4 726.9 L583.5 726.4 L583.7 727 L583.9 726.2 L584.4 727 L584.6 726.3 L584.8 726.9 L585.1 726.3 L585.3 727 L585.5 726.3 L585.9 726.6 L586.4 726.4 L586.8 726.9 L587.3 726.3 L587.5 726.7 L587.7 726.3 L587.9 726.8 L588.4 726.5 L588.6 726.9 L589 726.4 L589.2 727 L591.9 636.8 L593 615.7 L593.9 606.5 L595 600.3 L595.9 598 L596.1 598.1 L596.3 597.5 L596.5 597.7 L597 596.4 L598.1 595.6 L598.3 596.2 L599.2 595.1 L600.1 595.6 L600.3 595 L600.7 595.5 L601.4 594.9 L601.6 595.5 L602.1 594.6 L602.9 595.4 L603.4 594.5 L603.6 595.3 L603.8 594.5 L604 595.1 L604.3 594.5 L604.5 595 L604.9 594.5 L605.4 595 L605.6 598.7 L608.2 690.3 L609.1 705.5 L610.7 718.6 L612.4 723.7 L612.7 723.3 L613.1 724.3 L613.5 724 L613.8 724.7 L614.4 725 L614.6 724.6 L615.3 725.4 L616.2 725 L616.6 725.7 L616.8 725 L617.1 725.7 L617.5 725.6 L617.7 726 L618.2 725.1 L618.4 726 L618.6 725.2 L618.8 725.8 L619.1 725.9 L619.3 725.6 L619.5 726.1 L619.9 725.5 L620.2 726 L620.4 725.5 L620.6 726 L620.8 725.5 L621.9 726.3 L622.6 725.5 L622.8 726.3 L623.7 725.7 L624.4 726.4 L624.6 725.8 L624.8 726.4 L625 725.7 L625.5 725.6 L625.7 726.1 L626.1 725.9 L626.3 726.5 L626.6 725.7 L627 725.9 L627.2 726.5 L628.1 726.3 L628.3 725.7 L628.5 726.2 L629.2 726.3 L629.4 726.6 L629.7 726 L630.1 726.5 L630.3 726 L630.5 726.7 L630.8 725.8 L631 726.2 L631.2 725.9 L631.6 726.6 L632.3 726.2 L632.5 726.8 L633 726 L633.4 726.5 L633.6 726.1 L633.8 726.4 L634.1 725.8 L634.5 726.4 L634.7 726 L635 726.6 L635.2 725.9 L635.6 726.9 L638.5 631.2 L639.6 612.6 L641.4 600.1 L642.5 597.4 L643.6 596.8 L643.8 595.8 L644.7 595.8 L644.9 595.4 L645.1 595.8 L645.5 595.1 L645.8 595.5 L646 594.8 L646.4 595.7 L646.9 594.7 L647.1 595.4 L647.8 594.6 L648 595.4 L648.2 594.7 L648.4 595.3 L648.9 594.4 L649.3 595.3 L650 594.3 L650.4 594.9 L651.1 594.1 L651.3 594.5 L651.7 594.2 L652.2 595 L652.4 594.2 L652.6 594.4 L652.8 594.1 L653.3 594.8 L653.7 594.1 L653.9 594.4 L654.4 594 L654.6 594.9 L655.5 594.4 L655.7 593.9 L655.9 594.6 L656.6 593.8 L657.3 594.6 L657.7 594.6 L657.9 593.7 L658.1 594.4 L658.6 594.6 L659 594 L659.7 593.9 L659.9 594.4 L660.6 593.5 L661 594.3 L661.7 593.7 L661.9 594.2 L662.3 593.5 L662.8 594.4 L663 593.5 L663.2 594.2 L663.4 593.4 L663.7 594 L664.8 594.3 L665 593.9 L665.2 594.2 L665.9 593.4 L666.3 593.7 L666.5 593.5 L666.7 597.9 L668.7 671.7 L669.8 697.9 L670.9 712.1 L671.8 717.4 L672.9 721.5 L674.5 724 L674.9 724.2 L675.1 723.8 L675.4 724.7 L676 724.6 L676.2 725.2 L676.5 724.8 L676.9 725.2 L677.1 724.6 L677.3 725.4 L678 724.7 L678.4 725.1 L679.3 724.9 L679.8 725.7 L680 724.9 L680.2 725.6 L680.7 725.2 L681.3 725.9 L681.5 725.5 L681.8 725.9 L682 725.4 L682.4 725.9 L682.9 725.6 L683.1 725.8 L683.3 725.1 L683.7 726 L684.2 726.1 L684.4 725.7 L684.6 726.2 L685.1 725.3 L685.3 726 L685.5 725.5 L686.4 726.3 L686.6 725.9 L686.8 726.2 L687.3 725.9 L687.9 726.2 L688.6 725.4 L689 726.4 L689.5 725.6 L689.7 726.2 L689.9 725.5 L690.6 726.4 L691.7 725.8 L692.1 726.5 L692.6 725.7 L692.8 726.4 L693.5 725.6 L693.7 726.1 L694.3 725.9 L694.8 726.5 L695.2 726.1 L695.5 726.5 L695.7 726.1 L696.8 726.4 L697 725.7 L697.7 726.8 L698.1 726 L698.3 726.3 L699.2 725.8 L699.6 726.6 L699.9 726.2 L700.1 726.8 L700.5 725.9 L701.2 726.3 L701.4 726.1 L702.1 726.8 L702.5 726.1 L702.7 726.8 L703 726.1 L703.2 726.6 L703.6 725.9 L703.8 726.9 L704.3 726.3 L704.7 726.9 L705.2 726.2 L705.6 726.8 L705.8 726.4 L706 726.9 L706.7 726.5 L707.2 726.7 L707.4 726 L707.6 726.9 L708 726.2 L708.3 726.7 L708.5 726.1 L709.4 726.6 L709.8 726 L710.2 726.6 L710.5 726.1 L710.7 727 L711.1 726.1 L711.3 726.8 L711.6 726.4 L711.8 726.9 L712.2 726.1 L712.5 727 L713.1 726.9 L713.6 726.1 L714 726.5 L714.2 722.3 L716.4 642.3 L717.3 622.2 L718.2 610.5 L719.5 601.3 L721.1 597.1 L721.3 597.6 L721.5 596.5 L721.7 596.3 L721.9 596.5 L722.2 595.8 L722.8 595.9 L723.5 595.3 L723.7 595.8 L723.9 595.6 L724.4 595.9 L724.6 595.1 L725 595.5 L725.3 594.9 L725.7 594.8" fill="none" stroke="#74bb38" stroke-width="2.1" stroke-linejoin="round"/>
<text class="se" x="718" y="601.4" font-size="23.4" text-anchor="end" fill="#5d9a2a" opacity="0.88">150 Mbps</text>
<rect x="63.3" y="578.9" width="662.4" height="169.9" fill="none" stroke="#161616" stroke-width="2"/>
<text class="se" x="57.1" y="584.9" font-size="18" text-anchor="end" fill="#111" >1.0</text>
<line x1="63.3" y1="621.4" x2="68.3" y2="621.4" stroke="#111" stroke-width="1.8" />
<line x1="725.7" y1="621.4" x2="721.7" y2="621.4" stroke="#111" stroke-width="1.4" />
<text class="se" x="57.1" y="627.4" font-size="18" text-anchor="end" fill="#111" >0.5</text>
<line x1="63.3" y1="663.8" x2="68.3" y2="663.8" stroke="#111" stroke-width="1.8" />
<line x1="725.7" y1="663.8" x2="721.7" y2="663.8" stroke="#111" stroke-width="1.4" />
<text class="se" x="57.1" y="669.8" font-size="18" text-anchor="end" fill="#111" >0</text>
<line x1="63.3" y1="706.3" x2="68.3" y2="706.3" stroke="#111" stroke-width="1.8" />
<line x1="725.7" y1="706.3" x2="721.7" y2="706.3" stroke="#111" stroke-width="1.4" />
<text class="se" x="57.1" y="712.3" font-size="18" text-anchor="end" fill="#111" >-0.5</text>
<text class="se" x="57.1" y="754.8" font-size="18" text-anchor="end" fill="#111" >-1.0</text>
<line x1="63.3" y1="600.1" x2="66.3" y2="600.1" stroke="#111" stroke-width="1.6" />
<line x1="63.3" y1="642.6" x2="66.3" y2="642.6" stroke="#111" stroke-width="1.6" />
<line x1="63.3" y1="685.1" x2="66.3" y2="685.1" stroke="#111" stroke-width="1.6" />
<line x1="63.3" y1="727.6" x2="66.3" y2="727.6" stroke="#111" stroke-width="1.6" />
<text class="se" x="63.3" y="770.6" font-size="18.2" text-anchor="middle" fill="#111" >0</text>
<line x1="118.5" y1="748.8" x2="118.5" y2="745.8" stroke="#111" stroke-width="1.6" />
<line x1="173.7" y1="748.8" x2="173.7" y2="743.8" stroke="#111" stroke-width="1.8" />
<text class="se" x="173.7" y="770.6" font-size="18.2" text-anchor="middle" fill="#111" >50</text>
<line x1="228.9" y1="748.8" x2="228.9" y2="745.8" stroke="#111" stroke-width="1.6" />
<line x1="284.1" y1="748.8" x2="284.1" y2="743.8" stroke="#111" stroke-width="1.8" />
<text class="se" x="284.1" y="770.6" font-size="18.2" text-anchor="middle" fill="#111" >100</text>
<line x1="339.3" y1="748.8" x2="339.3" y2="745.8" stroke="#111" stroke-width="1.6" />
<line x1="394.5" y1="748.8" x2="394.5" y2="743.8" stroke="#111" stroke-width="1.8" />
<text class="se" x="394.5" y="770.6" font-size="18.2" text-anchor="middle" fill="#111" >150</text>
<line x1="449.7" y1="748.8" x2="449.7" y2="745.8" stroke="#111" stroke-width="1.6" />
<line x1="504.9" y1="748.8" x2="504.9" y2="743.8" stroke="#111" stroke-width="1.8" />
<text class="se" x="504.9" y="770.6" font-size="18.2" text-anchor="middle" fill="#111" >200</text>
<line x1="560.1" y1="748.8" x2="560.1" y2="745.8" stroke="#111" stroke-width="1.6" />
<line x1="615.3" y1="748.8" x2="615.3" y2="743.8" stroke="#111" stroke-width="1.8" />
<text class="se" x="615.3" y="770.6" font-size="18.2" text-anchor="middle" fill="#111" >250</text>
<line x1="670.5" y1="748.8" x2="670.5" y2="745.8" stroke="#111" stroke-width="1.6" />
<text class="se" x="725.7" y="770.6" font-size="18.2" text-anchor="middle" fill="#111" >300</text>
<rect x="63.3" y="779.8" width="15" height="170.5" fill="#fdd3d3" />
<rect x="99.1" y="779.8" width="13.7" height="170.5" fill="#fdd3d3" />
<rect x="120.9" y="779.8" width="10.6" height="170.5" fill="#fdd3d3" />
<rect x="142.6" y="779.8" width="13.2" height="170.5" fill="#fdd3d3" />
<rect x="168.2" y="779.8" width="25" height="170.5" fill="#fdd3d3" />
<rect x="207" y="779.8" width="9.5" height="170.5" fill="#fdd3d3" />
<rect x="260.9" y="779.8" width="13.2" height="170.5" fill="#fdd3d3" />
<rect x="289.8" y="779.8" width="18.5" height="170.5" fill="#fdd3d3" />
<rect x="338" y="779.8" width="37.1" height="170.5" fill="#fdd3d3" />
<rect x="395.4" y="779.8" width="13.2" height="170.5" fill="#fdd3d3" />
<rect x="417.7" y="779.8" width="10.2" height="170.5" fill="#fdd3d3" />
<rect x="438.4" y="779.8" width="13.7" height="170.5" fill="#fdd3d3" />
<rect x="464.3" y="779.8" width="25.2" height="170.5" fill="#fdd3d3" />
<rect x="503.1" y="779.8" width="10.6" height="170.5" fill="#fdd3d3" />
<rect x="558.1" y="779.8" width="13.7" height="170.5" fill="#fdd3d3" />
<rect x="586.6" y="779.8" width="18.5" height="170.5" fill="#fdd3d3" />
<rect x="633.6" y="779.8" width="38.4" height="170.5" fill="#fdd3d3" />
<rect x="691.5" y="779.8" width="12.6" height="170.5" fill="#fdd3d3" />
<rect x="714" y="779.8" width="11.7" height="170.5" fill="#fdd3d3" />
<path d="M63.3 794.6 L64.2 794.2 L64.6 794.8 L64.8 793.9 L65.3 794.6 L65.5 793.8 L65.7 794.3 L65.9 793.9 L66.6 794.6 L67.1 793.9 L67.3 794.3 L67.7 794.1 L67.9 794.7 L68.2 794 L68.8 794.8 L69 793.9 L69.3 794.3 L70.1 793.9 L70.4 794.4 L70.6 794 L70.8 794.3 L71.2 793.9 L71.5 794.7 L71.9 794.6 L72.1 793.8 L72.8 794.5 L75 793.8 L75.4 794.6 L75.9 793.8 L76.5 794.1 L76.8 794.6 L77 794 L79 865.7 L80.3 899.1 L82.1 917.9 L83.6 923.6 L83.8 923.1 L84.1 924.1 L84.3 923.7 L84.7 924.8 L85.8 925.4 L86.3 925.2 L87.1 926.2 L87.6 925.6 L88.3 926.7 L88.7 926.2 L88.9 926.8 L89.4 926.2 L89.6 926.9 L89.8 926.3 L90.5 926.7 L90.9 926.3 L91.3 927.1 L91.8 926.2 L92 926.9 L92.4 926.6 L93.1 927 L93.5 926.7 L93.8 927 L94.2 926.6 L94.4 927.4 L94.9 926.7 L95.3 927.2 L95.5 926.7 L95.8 927.3 L96.4 926.8 L96.6 927.5 L96.9 927.3 L98.8 856.2 L100.2 822.6 L101.3 808.6 L102.2 802.7 L103.5 798.2 L103.7 798.6 L103.9 798.4 L104.1 797.1 L104.6 796.6 L104.8 797 L105.3 796.1 L105.5 796.7 L105.9 795.9 L107.2 796.3 L107.9 795.4 L108.1 796.2 L108.3 795.3 L109.2 795.2 L109.7 796 L109.9 795.3 L110.1 795.8 L110.6 795.3 L111 795.5 L111.2 795 L111.4 795.3 L113.6 873.8 L114.7 900 L116.3 917 L117.2 921.8 L117.8 923.8 L118.1 923.3 L118.5 925 L119.2 915 L121.1 841.5 L122.9 810.1 L124 802.3 L125.3 798 L125.6 798.2 L126.2 796.5 L126.4 796.2 L126.7 796.6 L126.9 795.9 L127.8 796.3 L128 795.5 L128.4 795.3 L129.1 795.3 L129.5 795.9 L129.8 795.3 L130 795.9 L130.2 795.7 L132.2 866.7 L133.7 903.6 L134.6 913.9 L136.2 922.3 L136.6 923.5 L138.4 926.1 L138.8 925.5 L139.5 926.6 L139.7 926.1 L140.4 926.5 L140.6 922.6 L142.6 848.4 L143.5 826.5 L144.8 808.4 L146.3 800.1 L147.4 797.3 L147.6 797.7 L147.9 796.6 L148.1 796.9 L148.7 796 L149.4 796 L149.9 795.5 L150.1 795.9 L150.5 795.2 L151 795.9 L151.8 795 L152.5 795.7 L152.9 795.7 L153.6 794.9 L153.8 795.6 L154 794.9 L154.3 795.5 L154.5 795.3 L156.9 879.8 L158.5 909.3 L159.8 919.8 L160.9 923.4 L161.6 924.2 L161.8 925 L162.2 924.8 L162.9 926.2 L163.5 925.9 L164.2 926.7 L164.6 926.3 L164.9 926.8 L165.1 926.2 L165.5 927 L165.8 926.2 L166 927.1 L168.8 831.1 L169.7 815.5 L170.6 806.6 L171.5 801.7 L172.2 799.1 L172.4 799.3 L173.3 797.1 L173.5 796.9 L173.7 797.2 L174.6 795.9 L175.2 796.3 L176.1 795.7 L176.6 795.9 L176.8 795.3 L177 796.1 L177.2 795.2 L177.7 795 L177.9 795.6 L178.8 794.9 L179.2 795.6 L179.4 795 L179.7 795.3 L180.1 795.1 L180.3 795.8 L180.5 795 L181.6 795.5 L181.9 795.1 L182.1 795.6 L183.2 794.6 L183.6 795.5 L183.9 794.8 L184.3 795.5 L184.5 795.2 L185 795.4 L185.4 794.6 L185.6 795.2 L185.8 794.6 L186.3 795.3 L186.5 794.6 L186.7 794.8 L186.9 794.5 L187.4 794.7 L187.6 795.1 L188.1 794.4 L188.5 794.9 L188.7 794.6 L189.4 795.3 L190 795.2 L190.5 794.6 L190.9 794.9 L191.1 794.6 L191.4 795 L191.8 794.5 L194.7 890.7 L196.2 913.6 L197.1 919.5 L198.2 923.4 L198.9 924.6 L199.1 924 L199.5 925.4 L199.8 925.2 L200 925.7 L200.2 925.4 L200.9 926.3 L201.1 925.7 L201.3 926.2 L201.5 925.8 L201.7 926.2 L202 925.8 L202.2 926.5 L202.6 926.6 L202.8 926.1 L203.5 926.9 L203.9 926.1 L204.4 927.1 L204.8 927.1 L207.3 841.8 L208.8 812.7 L209.9 803.4 L211.2 798.4 L211.9 797.9 L212.1 797 L212.8 797 L213 796.3 L213.4 796 L214.1 796.3 L214.3 795.7 L214.5 796.3 L215 795.4 L215.7 806.4 L218.1 891.1 L219.2 909.6 L220.7 921.1 L221.2 921.7 L221.4 923.1 L222.9 925.8 L223.4 926.2 L223.6 925.6 L224 926.7 L224.3 925.8 L224.5 926.7 L224.7 926 L224.9 926.9 L225.1 926.6 L225.4 926.9 L225.6 926.3 L225.8 926.6 L226.5 926.4 L226.7 927 L226.9 926.7 L227.4 927.3 L227.6 926.6 L227.8 926.8 L228 926.6 L228.2 927.3 L228.9 926.8 L229.1 927.5 L229.6 927.1 L229.8 927.5 L230.2 926.9 L230.4 927.2 L230.9 927.1 L231.1 927.5 L231.5 926.7 L232.2 927.7 L232.7 927.6 L232.9 926.9 L233.1 927.1 L233.5 926.8 L233.8 927.2 L234 926.9 L234.4 927.5 L234.6 926.9 L235.1 926.9 L235.7 927.5 L236 926.9 L236.4 927.7 L236.6 927 L236.8 927.8 L237.1 927.9 L237.3 927.3 L237.5 927.7 L238 927.4 L238.2 928 L238.4 927.3 L238.6 927.8 L239.5 927.3 L239.9 928 L240.4 927.7 L240.6 928.1 L241.5 927.2 L241.9 927.3 L242.4 928 L243 927.7 L243.5 927.9 L243.7 927.4 L243.9 927.9 L244.4 927.3 L245 928 L245.2 927.4 L245.5 928.3 L245.9 927.7 L246.6 928.2 L247 927.5 L247.2 927.8 L247.4 927.3 L247.9 927.3 L248.1 928.3 L248.6 928.3 L248.8 927.9 L249.2 928.3 L249.4 927.8 L249.7 928.3 L250.1 928.1 L250.3 927.6 L251 928.3 L251.9 927.5 L252.5 928.3 L252.7 927.6 L253.2 927.9 L253.4 927.6 L254.3 928.4 L254.7 927.5 L255.2 928 L255.6 927.5 L256.7 928.3 L257.4 927.5 L257.8 928.1 L258.5 927.7 L258.7 928 L261.4 837.5 L262.2 819.6 L263.3 807.3 L264.2 802.2 L265.6 798.4 L265.8 798 L266 798.3 L266.7 797.8 L267.1 796.6 L267.3 797.4 L268 797.1 L268.6 796.1 L269.1 796 L269.3 796.8 L269.7 795.7 L270 796.6 L270.9 796 L271.1 796.4 L271.5 795.5 L271.7 796.3 L272 795.5 L272.2 796.2 L272.4 795.3 L272.8 795.6 L275.3 880.3 L276.8 909.7 L277.5 916.1 L278.6 921.9 L279.9 925.3 L280.3 925.1 L281.5 926.3 L281.9 926.1 L282.1 926.8 L282.6 926.2 L283 927.1 L283.2 926.3 L283.7 927.2 L284.3 927.4 L284.5 926.5 L284.8 927.1 L285 926.6 L285.4 927.6 L285.6 926.7 L286.1 926.6 L286.5 927.1 L286.7 926.9 L287 927.6 L287.2 927.2 L287.6 927.6 L289.8 848.8 L291.2 819.4 L292.3 806.7 L293.2 801.7 L294.7 797.6 L294.9 797.4 L295.1 797.9 L295.8 796.3 L296.2 796.8 L296.7 795.9 L296.9 796.3 L297.1 795.8 L297.8 796.2 L298.9 795.4 L299.3 796.1 L300 795.5 L300.2 796 L300.7 795.8 L301.1 796 L301.5 795.1 L301.8 795.4 L302.6 795 L303.3 795.7 L303.5 795 L303.8 795.5 L304.2 794.9 L304.6 795.6 L304.9 794.9 L305.5 795.7 L305.7 795.4 L306 795.7 L306.2 794.8 L306.4 795.5 L307.1 795.1 L309.9 891.1 L311 909 L311.9 917.1 L312.8 921.7 L313 921.5 L313.7 924.1 L314.3 924.3 L314.8 925.4 L315 924.9 L315.7 926.1 L316.1 925.6 L316.3 926.5 L316.8 926.2 L317 926.5 L317.4 926 L318.3 927.1 L318.5 926.7 L319 927 L319.2 926.3 L319.4 927 L319.9 926.4 L320.1 927.2 L320.3 926.4 L321.2 927.4 L321.9 926.6 L322.3 927.5 L322.5 927.1 L323.4 927.3 L323.6 926.9 L324.1 927.5 L324.7 927.1 L324.9 927.4 L325.2 927 L325.4 927.5 L325.6 927.1 L326.1 927.6 L326.3 927 L326.5 927.4 L327.2 927.2 L327.6 927.8 L327.8 927.1 L328.7 927.6 L328.9 927 L329.4 927.7 L329.8 926.9 L330 927.6 L330.2 927 L330.7 927.8 L330.9 927.3 L331.1 927.7 L331.4 927.3 L331.6 927.4 L331.8 927.9 L332.2 927.2 L332.5 927.6 L332.9 927.2 L333.1 927.6 L333.8 927.3 L334.2 928 L334.4 927.4 L334.9 927.8 L335.1 927.2 L335.5 927.6 L335.8 927.2 L336 923.3 L338.2 842.9 L339.5 816.4 L340.6 805.9 L341.7 800.7 L342.8 797.9 L343.5 797.9 L344.2 796.5 L344.4 797.2 L344.6 796.2 L345.3 796.6 L345.5 795.9 L345.7 796.6 L345.9 796.1 L346.6 796.4 L346.8 795.5 L347.5 795.5 L347.7 796.3 L347.9 795.7 L348.4 796.1 L348.8 795.3 L349 795.9 L349.2 795.5 L349.5 796 L349.7 795.5 L349.9 795.9 L350.6 795.2 L351.4 795.6 L351.7 795.2 L351.9 795.7 L352.3 795.4 L352.8 795.9 L353.2 795.2 L353.4 795.7 L353.7 795.1 L353.9 795.3 L354.1 794.9 L355 795.7 L355.6 794.8 L356.1 795.6 L356.3 794.7 L356.7 795.2 L357 794.9 L357.2 795.5 L357.6 794.9 L358.3 795.5 L358.7 794.7 L359.2 795.5 L359.6 794.7 L360.1 795 L360.3 794.5 L360.7 795.2 L360.9 794.8 L361.2 795.5 L361.6 794.7 L362 795.4 L362.7 794.4 L362.9 795.3 L363.1 794.6 L363.4 795 L363.6 794.5 L364.5 795.1 L364.9 794.5 L365.1 795 L365.6 794.9 L365.8 795.2 L366.7 794.7 L367.3 795.2 L368 794.6 L368.2 794.9 L368.4 794.4 L369.1 794.4 L370 795.1 L370.2 794.4 L370.7 795.1 L370.9 794.2 L371.8 795 L372 794.1 L372.2 795 L372.6 794.1 L372.9 795 L373.1 794.6 L373.5 794.8 L373.7 794.1 L376.4 885.2 L377.3 902.9 L378.4 915.2 L379.7 922 L380.4 922.8 L380.6 924.2 L380.8 924.5 L381.3 924.2 L381.5 924.9 L382.6 925.5 L382.8 926.2 L383.2 925.7 L383.5 926.2 L383.9 926.4 L384.8 925.8 L385.7 926.9 L386.3 926.4 L387 927 L387.4 926.7 L387.7 926.9 L387.9 926.3 L388.8 927.3 L389.2 926.6 L390.1 927.2 L391.2 926.7 L391.4 927.4 L391.6 926.7 L392.7 927.4 L393.2 927 L393.4 922.9 L396 831.2 L397.6 808.6 L399.1 799.9 L399.8 798.2 L400.2 798.3 L400.5 797.2 L400.7 797.6 L400.9 797.4 L401.1 796.5 L401.3 797 L401.6 796.2 L401.8 796.7 L402.2 796.6 L402.7 796.1 L403.3 796.1 L403.8 795.4 L404.2 795.4 L404.4 796.2 L405.1 796 L405.3 795.1 L405.8 795.2 L406.2 795.9 L406.4 795.6 L406.6 795.9 L406.9 795.1 L407.3 795.7 L409.3 866.6 L410.6 900.1 L411.7 914 L412.6 919.7 L414.2 924.6 L414.4 924.9 L414.6 924.5 L415.3 925.6 L415.9 915.6 L418.1 835.7 L419.7 810.5 L420.6 803.3 L422.3 797.4 L422.8 796.9 L423.2 797.2 L423.4 796.2 L423.6 796.8 L423.9 796.7 L424.1 795.8 L424.3 796.3 L424.5 795.8 L424.7 796.3 L425.2 795.5 L425.4 796.2 L425.9 795.1 L426.1 795.8 L426.5 795.2 L428.7 873.8 L429.8 899.9 L430.7 911.7 L431.8 919.6 L433.6 925 L433.8 924.4 L434.5 925.7 L434.7 925.3 L435.3 926.5 L435.8 926.2 L436 926.5 L436.7 916 L439.1 830.9 L440 815.6 L440.9 806.7 L442 800.3 L443.1 797.7 L443.3 797.5 L443.5 797.8 L444 796.9 L444.2 797.1 L444.4 796.2 L444.8 796.4 L445.7 795.5 L446.4 796.1 L446.6 795.6 L447.1 795.5 L447.5 796 L448.2 795.9 L448.4 795.1 L448.8 795.6 L449.3 795.2 L449.5 795.8 L449.7 795 L449.9 795.6 L450.1 794.8 L450.4 795.6 L450.8 795.5 L451 798.8 L453 872.9 L454.6 906.5 L455.4 915.4 L456.5 921.7 L458.5 925.4 L459.2 925.4 L460.1 926.5 L460.3 925.9 L460.5 926.8 L460.7 926.2 L461.2 926.8 L462.1 926.3 L462.3 922.6 L464.9 831 L466 812.7 L467.1 803.7 L467.8 800.4 L469.1 797.3 L469.6 797.4 L469.8 796.7 L470.2 796.7 L471.3 795.5 L471.6 796.3 L472 795.3 L472.4 795.6 L472.7 795.3 L472.9 796.1 L473.1 795.3 L473.8 795.7 L474 795.3 L474.2 795.8 L474.4 795.4 L474.7 795.6 L474.9 794.9 L476.2 795.6 L476.4 794.9 L476.9 795 L477.1 795.6 L477.3 794.9 L477.5 795.7 L477.7 795.1 L478.2 795.6 L478.6 794.7 L479.1 795.3 L479.3 794.8 L479.5 795.2 L479.7 794.7 L480.2 795.5 L480.4 794.6 L480.6 795.5 L481.1 794.7 L481.3 795.4 L481.7 794.6 L482.2 795.1 L482.6 794.6 L483.3 795.1 L483.7 794.4 L484.1 795.4 L484.8 794.6 L485.2 795.2 L485.5 794.6 L485.7 795.2 L485.9 794.3 L486.1 794.9 L486.6 794.5 L486.8 795.1 L487 794.5 L487.7 795.2 L487.9 794.5 L488.1 794.7 L491.2 895.4 L493 917 L494.3 922.3 L495.4 925 L496.1 925.2 L496.3 925.7 L496.5 925 L496.7 925.5 L497.2 925.4 L497.4 926.2 L497.8 925.6 L498.3 926.6 L498.7 925.9 L499.6 926.9 L500.3 926.3 L500.5 927 L500.7 926.2 L500.9 927.1 L503.4 841.8 L504.7 816.1 L505.6 806.3 L506.4 801.4 L507.8 797.7 L508.7 796.7 L508.9 797 L509.3 796.1 L509.5 796.5 L510 795.5 L510.2 796 L510.4 795.4 L510.6 795.7 L510.9 795.3 L511.1 795.7 L511.5 795.4 L511.7 795.9 L512.4 795.5 L512.6 799.3 L515.1 885.8 L516.6 911.5 L518.1 921.8 L518.4 921.7 L519.3 924.6 L519.5 924.9 L519.7 924.5 L520.1 925 L520.4 925.9 L520.6 926.1 L521.2 925.9 L521.5 926.4 L521.7 926.1 L522.1 926.7 L522.3 926.2 L522.6 927 L522.8 926.5 L523.2 927.1 L523.4 926.7 L524.1 926.9 L524.3 926.4 L525 927.4 L525.2 926.5 L525.7 927.4 L526.1 926.8 L526.3 927.3 L526.8 926.9 L527 927.2 L527.4 926.6 L528.3 927.4 L528.5 927 L529.2 927.2 L529.4 927 L529.6 927.5 L530.1 926.8 L530.3 927.8 L530.7 926.8 L531 927.7 L531.2 927 L531.6 927.8 L531.8 927.2 L532.1 927.9 L532.3 927 L532.5 927.6 L532.7 927 L533.2 927.8 L533.4 927.5 L533.6 927.8 L533.8 927.2 L534.3 927.9 L534.7 927.1 L534.9 927.8 L535.8 927.6 L536 927.1 L536.3 927.7 L536.7 927.2 L536.9 927.8 L537.1 927.9 L537.4 927.2 L537.6 927.8 L537.8 927.2 L538.7 928 L538.9 927.3 L539.6 928 L540 927.3 L540.2 928.1 L540.7 927.6 L541.6 928 L542 927.3 L542.4 928 L542.7 927.3 L542.9 928.1 L543.5 927.4 L544 928.2 L544.2 927.3 L544.4 928.1 L544.9 927.3 L545.3 927.5 L545.5 928.2 L545.7 927.5 L546.2 928.3 L546.6 927.4 L546.9 928.3 L547.3 927.4 L547.7 928.1 L548 927.6 L548.2 927.9 L548.4 927.4 L549.1 927.7 L549.3 928.2 L549.5 927.7 L550.6 928.2 L550.8 927.5 L551.3 928.3 L551.5 927.4 L552.4 928.3 L552.8 927.6 L553 928.2 L553.3 927.5 L553.5 928.1 L553.7 927.5 L553.9 928.3 L554.1 928 L554.4 928.3 L554.8 927.9 L555.9 928.2 L558.3 843.4 L559.9 813.9 L561 804.4 L561.9 800.7 L563.6 797.2 L563.9 797.6 L564.3 797.5 L565 796.4 L565.2 796.7 L565.8 796 L566.3 796.6 L566.7 796.2 L567.6 796.3 L567.8 795.8 L568.3 796 L568.9 795.7 L569.2 796.4 L569.4 795.5 L569.8 796 L570 795.3 L570.5 795.9 L572.7 874 L573.8 900.3 L575.3 917.5 L576 921.2 L577.5 925 L578 925.2 L578.2 926 L578.4 925.7 L579.1 926.4 L579.3 926 L579.8 926.8 L580.2 926.6 L581.1 927.1 L581.5 926.8 L581.7 927.3 L582 926.8 L582.2 927.1 L582.4 926.5 L582.8 927.4 L583.1 926.8 L583.5 927.5 L583.7 926.7 L584.4 927 L587.3 831.3 L588.4 813.1 L589.7 802.9 L590.6 799.4 L591.2 798 L592.1 797.2 L592.3 797.4 L592.8 796.3 L593 796.9 L593.4 795.9 L593.7 796.3 L594.3 795.8 L594.5 796.1 L594.8 795.6 L595 796.4 L595.2 795.5 L595.4 796 L595.6 795.6 L595.9 795.9 L596.1 795.4 L596.8 795.8 L597 795.2 L597.4 795.9 L597.9 795.1 L598.3 795.8 L598.7 795 L599 795.8 L599.4 794.9 L599.6 795.6 L599.8 795.1 L600.1 795.5 L600.3 795 L600.9 795.7 L601.4 795 L601.8 795.7 L602.3 795.4 L602.5 794.7 L603.2 794.9 L603.4 795.5 L603.8 794.6 L606.2 879.9 L607.1 899.7 L608.7 917.2 L609.8 922.4 L610 922.2 L610.7 924.1 L612.2 926.1 L612.7 925.9 L612.9 926.2 L613.3 925.9 L614 926.6 L614.4 926 L614.9 927.1 L615.5 926.3 L616.4 927.2 L616.8 926.3 L617.1 927.1 L617.5 926.5 L618.2 927.2 L618.6 926.5 L619.1 927.1 L619.5 926.7 L619.7 927.2 L619.9 926.8 L620.6 927.6 L621 926.9 L621.3 927.6 L621.9 927.5 L622.1 927 L622.4 927.5 L622.6 927.1 L623 927.4 L623.2 926.9 L623.5 927.3 L623.9 927.1 L624.4 927.7 L624.6 926.9 L625.9 927.8 L626.3 927 L626.6 927.8 L626.8 927 L627 927.6 L627.2 927 L627.9 927.8 L628.3 927 L629 927.5 L629.7 927.2 L629.9 927.8 L630.3 927.1 L630.8 928.1 L631.2 927.5 L631.4 927.7 L631.6 923.2 L633.6 849.5 L634.7 823.1 L636.3 805.6 L637.4 800.3 L637.8 799.9 L638.3 798.2 L638.5 798.4 L639.4 796.9 L640 797.2 L640.9 796.4 L641.1 796.8 L641.4 796.1 L641.6 796.6 L641.8 796.3 L642 796.6 L642.2 796.1 L642.5 796.4 L642.7 795.5 L642.9 796.1 L643.1 795.6 L643.6 796 L643.8 795.5 L644 796 L644.7 795.2 L645.1 796.1 L645.5 795.2 L646.2 796 L646.7 795.3 L646.9 795.9 L647.1 795.1 L647.3 795.7 L647.8 795.3 L648 795.7 L648.4 795.3 L648.6 795.6 L649.3 794.9 L649.7 795.6 L650.6 794.8 L650.8 795.5 L651.1 795.2 L651.5 795.5 L652.2 795.3 L652.6 794.6 L653.1 795.4 L653.5 794.6 L653.7 795.5 L654.2 795.5 L654.4 794.6 L655 795.4 L655.5 794.5 L656.6 795.3 L657.3 795.1 L657.5 795.4 L657.9 794.5 L658.4 794.6 L658.6 795 L659.2 794.6 L659.5 795 L660.1 794.5 L660.6 795.3 L661 794.4 L661.2 795.1 L661.4 794.6 L661.7 795.1 L662.1 794.6 L662.3 795.2 L663.4 794.4 L663.7 794.9 L663.9 794.4 L665.2 794.5 L665.4 794.9 L665.6 794.5 L666.1 794.7 L666.3 794.2 L666.5 794.8 L667.2 794.5 L667.4 794.9 L667.6 794.4 L667.9 795 L669 794.1 L669.2 794.9 L669.4 794.2 L670.1 795 L670.3 794.2 L670.7 794.8 L673.1 879 L674 899.2 L675.1 913.4 L676 919.3 L677.6 924.2 L678 924 L678.2 924.5 L678.7 924.6 L678.9 925.6 L679.3 925.1 L680 926.2 L680.2 926 L680.7 926.3 L680.9 925.9 L681.5 926.6 L682 926.1 L682.6 926 L684 926.9 L684.6 926.4 L685.3 927.2 L685.5 926.7 L685.7 926.8 L686.2 926.4 L686.4 927.3 L686.6 926.4 L686.8 927.2 L687.3 926.4 L687.5 927.2 L687.9 927.3 L688.2 926.6 L688.6 926.5 L689 927.2 L689.3 926.8 L689.5 923.2 L691.3 856.1 L692.6 823.2 L693.9 806.6 L695.2 800.2 L695.9 798.4 L696.3 798.2 L696.6 797.3 L696.8 797.6 L697 796.7 L697.4 796.3 L698.3 796.7 L698.5 795.7 L699 796.4 L699.2 795.5 L699.4 795.9 L699.9 795.4 L700.3 796 L700.7 795.5 L701.2 795.9 L701.6 795.6 L701.9 796 L702.1 795.2 L702.5 795.8 L702.7 795.4 L705.2 880.4 L706.3 903.5 L707.4 915.8 L708.5 921.8 L710 925.3 L710.2 925.6 L710.5 925.1 L710.7 925.3 L711.3 926.5 L711.6 925.8 L711.8 926 L712 922.5 L714.4 836.1 L716.2 808.2 L717.3 801.3 L718.9 797.3 L719.3 797.2 L720 796 L720.6 796.5 L720.8 795.6 L721.5 796.1 L721.9 795.5 L722.2 795.9 L722.8 795.5 L723.1 796 L723.7 795.2 L724.2 795.9 L724.8 795.1 L725 795.6 L725.3 794.8 L725.7 795.6" fill="none" stroke="#e52a2a" stroke-width="2.1" stroke-linejoin="round"/>
<text class="se" x="724.4" y="804.3" font-size="23.4" text-anchor="end" fill="#b51c1c" opacity="0.88">200 Mbps</text>
<rect x="63.3" y="779.8" width="662.4" height="170.5" fill="none" stroke="#161616" stroke-width="2"/>
<text class="se" x="57.1" y="785.8" font-size="18" text-anchor="end" fill="#111" >1.0</text>
<line x1="63.3" y1="822.4" x2="68.3" y2="822.4" stroke="#111" stroke-width="1.8" />
<line x1="725.7" y1="822.4" x2="721.7" y2="822.4" stroke="#111" stroke-width="1.4" />
<text class="se" x="57.1" y="828.4" font-size="18" text-anchor="end" fill="#111" >0.5</text>
<line x1="63.3" y1="865" x2="68.3" y2="865" stroke="#111" stroke-width="1.8" />
<line x1="725.7" y1="865" x2="721.7" y2="865" stroke="#111" stroke-width="1.4" />
<text class="se" x="57.1" y="871" font-size="18" text-anchor="end" fill="#111" >0</text>
<line x1="63.3" y1="907.7" x2="68.3" y2="907.7" stroke="#111" stroke-width="1.8" />
<line x1="725.7" y1="907.7" x2="721.7" y2="907.7" stroke="#111" stroke-width="1.4" />
<text class="se" x="57.1" y="913.7" font-size="18" text-anchor="end" fill="#111" >-0.5</text>
<text class="se" x="57.1" y="956.3" font-size="18" text-anchor="end" fill="#111" >-1.0</text>
<line x1="63.3" y1="801.1" x2="66.3" y2="801.1" stroke="#111" stroke-width="1.6" />
<line x1="63.3" y1="843.7" x2="66.3" y2="843.7" stroke="#111" stroke-width="1.6" />
<line x1="63.3" y1="886.4" x2="66.3" y2="886.4" stroke="#111" stroke-width="1.6" />
<line x1="63.3" y1="929" x2="66.3" y2="929" stroke="#111" stroke-width="1.6" />
<text class="se" x="63.3" y="972" font-size="18.2" text-anchor="middle" fill="#111" >0</text>
<line x1="118.5" y1="950.3" x2="118.5" y2="947.3" stroke="#111" stroke-width="1.6" />
<line x1="173.7" y1="950.3" x2="173.7" y2="945.3" stroke="#111" stroke-width="1.8" />
<text class="se" x="173.7" y="972" font-size="18.2" text-anchor="middle" fill="#111" >50</text>
<line x1="228.9" y1="950.3" x2="228.9" y2="947.3" stroke="#111" stroke-width="1.6" />
<line x1="284.1" y1="950.3" x2="284.1" y2="945.3" stroke="#111" stroke-width="1.8" />
<text class="se" x="284.1" y="972" font-size="18.2" text-anchor="middle" fill="#111" >100</text>
<line x1="339.3" y1="950.3" x2="339.3" y2="947.3" stroke="#111" stroke-width="1.6" />
<line x1="394.5" y1="950.3" x2="394.5" y2="945.3" stroke="#111" stroke-width="1.8" />
<text class="se" x="394.5" y="972" font-size="18.2" text-anchor="middle" fill="#111" >150</text>
<line x1="449.7" y1="950.3" x2="449.7" y2="947.3" stroke="#111" stroke-width="1.6" />
<line x1="504.9" y1="950.3" x2="504.9" y2="945.3" stroke="#111" stroke-width="1.8" />
<text class="se" x="504.9" y="972" font-size="18.2" text-anchor="middle" fill="#111" >200</text>
<line x1="560.1" y1="950.3" x2="560.1" y2="947.3" stroke="#111" stroke-width="1.6" />
<line x1="615.3" y1="950.3" x2="615.3" y2="945.3" stroke="#111" stroke-width="1.8" />
<text class="se" x="615.3" y="972" font-size="18.2" text-anchor="middle" fill="#111" >250</text>
<line x1="670.5" y1="950.3" x2="670.5" y2="947.3" stroke="#111" stroke-width="1.6" />
<text class="se" x="725.7" y="972" font-size="18.2" text-anchor="middle" fill="#111" >300</text>
<text class="se" x="395" y="988" font-size="18.5" text-anchor="middle" fill="#111" >Time (ns)</text>
<text class="se" x="25.2" y="664.5" font-size="18.8" text-anchor="middle" fill="#111" transform="rotate(-90 25.2 664.5)">Voltage (V)</text>
<text class="sa" x="6.7" y="393" font-size="37" text-anchor="start" fill="#000" >c</text>
</g>
<g id="panel_d">
<rect x="806" y="378.5" width="416.4" height="75.8" fill="#000" />
<line x1="806" y1="388" x2="1222.4" y2="388" stroke="#2a2a2a" stroke-width="0.6" />
<line x1="806" y1="397.4" x2="1222.4" y2="397.4" stroke="#2a2a2a" stroke-width="0.6" />
<line x1="806" y1="406.9" x2="1222.4" y2="406.9" stroke="#2a2a2a" stroke-width="0.6" />
<line x1="806" y1="416.4" x2="1222.4" y2="416.4" stroke="#2a2a2a" stroke-width="0.6" />
<line x1="806" y1="425.9" x2="1222.4" y2="425.9" stroke="#2a2a2a" stroke-width="0.6" />
<line x1="806" y1="435.4" x2="1222.4" y2="435.4" stroke="#2a2a2a" stroke-width="0.6" />
<line x1="806" y1="444.8" x2="1222.4" y2="444.8" stroke="#2a2a2a" stroke-width="0.6" />
<line x1="893" y1="378.5" x2="893" y2="454.3" stroke="#3a3a3a" stroke-width="0.8" />
<line x1="1000" y1="378.5" x2="1000" y2="454.3" stroke="#3a3a3a" stroke-width="0.8" />
<line x1="1108" y1="378.5" x2="1108" y2="454.3" stroke="#3a3a3a" stroke-width="0.8" />
<line x1="806" y1="416.4" x2="1222.4" y2="416.4" stroke="#777" stroke-width="1" stroke-dasharray="1 11"/>
<g clip-path="url(#eye0)">
<g clip-path="url(#eyin0)">
<path d="M" fill="none" stroke="#2fd23c" stroke-width="5.5" stroke-opacity="1.0" stroke-linecap="round" stroke-linejoin="round"/>
<path d="M" fill="none" stroke="#2fd23c" stroke-width="5.5" stroke-opacity="1.0" stroke-linecap="round" stroke-linejoin="round"/>
<path d="M" fill="none" stroke="#2fd23c" stroke-width="4.8" stroke-opacity="1.0" stroke-linecap="round" stroke-linejoin="round"/>
<path d="M" fill="none" stroke="#2fd23c" stroke-width="4.8" stroke-opacity="1.0" stroke-linecap="round" stroke-linejoin="round"/>
<path d="M" fill="none" stroke="#2fd23c" stroke-width="4.8" stroke-opacity="1.0" stroke-linecap="round" stroke-linejoin="round"/>
<path d="M" fill="none" stroke="#2fd23c" stroke-width="4.6" stroke-opacity="1.0" stroke-linecap="round" stroke-linejoin="round"/>
<path d="M" fill="none" stroke="#2fd23c" stroke-width="3.5" stroke-opacity="1.0" stroke-linecap="round" stroke-linejoin="round"/>
<path d="M" fill="none" stroke="#2fd23c" stroke-width="4.6" stroke-opacity="1.0" stroke-linecap="round" stroke-linejoin="round"/>
<path d="M" fill="none" stroke="#2fd23c" stroke-width="4.8" stroke-opacity="1.0" stroke-linecap="round" stroke-linejoin="round"/>
<path d="M" fill="none" stroke="#2fd23c" stroke-width="4.8" stroke-opacity="1.0" stroke-linecap="round" stroke-linejoin="round"/>
<path d="M" fill="none" stroke="#2fd23c" stroke-width="3.5" stroke-opacity="1.0" stroke-linecap="round" stroke-linejoin="round"/>
<path d="M" fill="none" stroke="#2fd23c" stroke-width="5.5" stroke-opacity="1.0" stroke-linecap="round" stroke-linejoin="round"/>
<path d="M" fill="none" stroke="#2fd23c" stroke-width="5.5" stroke-opacity="1.0" stroke-linecap="round" stroke-linejoin="round"/>
<path d="M" fill="none" stroke="#2fd23c" stroke-width="5.5" stroke-opacity="1.0" stroke-linecap="round" stroke-linejoin="round"/>
<path d="M" fill="none" stroke="#2fd23c" stroke-width="3.5" stroke-opacity="1.0" stroke-linecap="round" stroke-linejoin="round"/>
<path d="M802 393.6 L814.1 411.2 L820.1 418.9 L823.6 422.9 L827.1 426.5 L834.1 432.7 L838.4 435.7 L844.4 439.3 L850.5 442.2 L856.6 444.4 L862.6 446.1 L869.1 447.5 L876.1 448.7 L886.6 449.8 L907.6 450.9" fill="none" stroke="#2fd23c" stroke-width="5.5" stroke-opacity="1.0" stroke-linecap="round" stroke-linejoin="round"/>
<path d="M802 388.2 L806.6 394.6 L817.1 409.8 L820.6 414.5 L826.3 421.4 L831.1 426.5 L834.6 429.8 L838.4 432.9 L845.1 437.5 L850.5 440.4 L856.6 443 L862.6 445.1 L869.6 446.8 L876.6 448.1 L887.1 449.5 L897.6 450.3 L911.6 450.9" fill="none" stroke="#2fd23c" stroke-width="5.5" stroke-opacity="1.0" stroke-linecap="round" stroke-linejoin="round"/>
<path d="M802 383.8 L803.6 385.4 L807.1 389.7 L821.1 409.8 L826.3 416.6 L831.6 422.9 L838.4 429.6 L842.1 432.7 L845.6 435.2 L850.5 438.3 L856.6 441.4 L862.6 443.8 L870.1 446 L877.1 447.5 L884.1 448.7 L894.6 449.8 L905.1 450.5 L917.2 450.9" fill="none" stroke="#2fd23c" stroke-width="4.8" stroke-opacity="1.0" stroke-linecap="round" stroke-linejoin="round"/>
<path d="M804.1 382.3 L807.6 385.4 L811.1 389.7 L826.3 411.4 L832.1 418.9 L835.6 422.9 L839.1 426.5 L844.4 431.3 L849.6 435.2 L853.1 437.5 L860.1 441.2 L867.1 443.9 L874.1 446 L880.8 447.5 L888.1 448.7 L898.6 449.8 L919.6 450.9" fill="none" stroke="#2fd23c" stroke-width="4.8" stroke-opacity="1.0" stroke-linecap="round" stroke-linejoin="round"/>
<path d="M807.6 382.3 L811.1 385.4 L814.1 389 L828.6 409.8 L832.3 414.8 L838.4 422.1 L842.6 426.5 L846.1 429.8 L850.5 433.3 L856.6 437.5 L862.6 440.7 L868.7 443.2 L874.8 445.2 L881.1 446.8 L888.1 448.1 L899 449.5 L909.1 450.3 L923.3 450.9" fill="none" stroke="#2fd23c" stroke-width="4.8" stroke-opacity="1.0" stroke-linecap="round" stroke-linejoin="round"/>
<path d="M811.1 382.3 L814.1 384.9 L818.1 389.7 L832.3 410.1 L838.4 418 L842.6 422.9 L846.1 426.5 L850.5 430.5 L856.6 435.2 L860.1 437.5 L867.1 441.2 L874.1 443.9 L880.8 445.9 L886.9 447.3 L895.1 448.7 L905.1 449.7 L926.6 450.9" fill="none" stroke="#2fd23c" stroke-width="4.6" stroke-opacity="1.0" stroke-linecap="round" stroke-linejoin="round"/>
<path d="M816.1 450.3 L819.6 447.2 L823.1 442.9 L838.4 421.1 L844.1 413.7 L847.6 409.7 L851.1 406.1 L856.6 401.2 L861.6 397.4 L865.1 395.1 L872.1 391.4 L879.1 388.7 L886.1 386.6 L892.9 385.1 L900.1 383.9 L910.6 382.8 L931.6 381.7" fill="none" stroke="#2fd23c" stroke-width="3.5" stroke-opacity="1.0" stroke-linecap="round" stroke-linejoin="round"/>
<path d="M819.1 450.3 L822.6 447.2 L826.1 442.9 L840.1 422.8 L844.4 417 L850.5 409.8 L857.6 402.8 L862.6 398.8 L868.7 394.8 L874.8 391.6 L880.8 389.1 L889.1 386.6 L896.1 385.1 L905.1 383.7 L913.6 382.8 L935.4 381.7" fill="none" stroke="#2fd23c" stroke-width="4.6" stroke-opacity="1.0" stroke-linecap="round" stroke-linejoin="round"/>
<path d="M822.6 450.3 L826.1 447.2 L829.6 442.9 L844.4 421.7 L850.5 413.8 L854.1 409.7 L857.6 406.1 L862.6 401.5 L868.1 397.4 L871.6 395.1 L878.6 391.4 L885.6 388.7 L892.6 386.6 L899 385.2 L906.6 383.9 L917.1 382.8 L938.1 381.7" fill="none" stroke="#2fd23c" stroke-width="4.8" stroke-opacity="1.0" stroke-linecap="round" stroke-linejoin="round"/>
<path d="M826.1 450.3 L829.6 447.2 L832.3 444 L847.1 422.8 L850.6 418.1 L856.6 410.9 L861.1 406.1 L864.6 402.8 L868.7 399.5 L875.1 395.1 L880.8 392.1 L886.9 389.5 L892.9 387.5 L899.6 385.8 L906.6 384.5 L917.2 383.1 L927.6 382.3 L941.6 381.7" fill="none" stroke="#2fd23c" stroke-width="4.8" stroke-opacity="1.0" stroke-linecap="round" stroke-linejoin="round"/>
<path d="M829.6 450.3 L833.1 447.2 L836.6 442.9 L850.6 422.8 L856.6 415 L861.1 409.7 L864.6 406.1 L868.7 402.3 L874.8 397.6 L878.6 395.1 L882.1 393.2 L889.1 389.9 L896.1 387.5 L905.1 385.4 L913.6 383.9 L923.3 382.9 L945.1 381.7" fill="none" stroke="#2fd23c" stroke-width="3.5" stroke-opacity="1.0" stroke-linecap="round" stroke-linejoin="round"/>
<path d="M838.1 450.3 L841.6 447.2 L844.4 443.8 L859.1 422.8 L862.6 418.1 L868.7 410.7 L873.1 406.1 L876.6 402.8 L880.8 399.4 L887.1 395.1 L892.9 392 L899 389.4 L905.1 387.4 L911.6 385.8 L918.6 384.5 L929.3 383.1 L939.6 382.3 L953.6 381.7" fill="none" stroke="#2fd23c" stroke-width="5.5" stroke-opacity="1.0" stroke-linecap="round" stroke-linejoin="round"/>
<path d="M842.1 450.3 L845.6 447.2 L849.1 442.9 L863.1 422.8 L868.7 415.4 L873.6 409.7 L880.8 402.7 L886.9 397.9 L891.1 395.1 L894.6 393.2 L901.6 389.9 L908.6 387.5 L917.2 385.4 L926.1 383.9 L935.4 382.9 L947.1 382.1 L957.6 381.7" fill="none" stroke="#2fd23c" stroke-width="5.5" stroke-opacity="1.0" stroke-linecap="round" stroke-linejoin="round"/>
<path d="M846.1 450.3 L849.6 447.2 L853.1 442.9 L868.7 420.6 L874.1 413.7 L877.6 409.7 L881.1 406.1 L886.9 400.9 L891.6 397.4 L895.1 395.1 L899 393 L905.6 389.9 L912.6 387.5 L919.6 385.8 L926.6 384.5 L937.1 383.1 L947.6 382.3 L961.6 381.7" fill="none" stroke="#2fd23c" stroke-width="5.5" stroke-opacity="1.0" stroke-linecap="round" stroke-linejoin="round"/>
<path d="M849.6 450.3 L853.1 447.2 L856.6 443 L870.6 422.8 L874.8 417.3 L880.8 410 L888.1 402.8 L892.9 398.9 L899 394.9 L905.1 391.7 L911.1 389.2 L919.6 386.6 L926.6 385.1 L935.4 383.7 L944.1 382.8 L965.7 381.7" fill="none" stroke="#2fd23c" stroke-width="3.5" stroke-opacity="1.0" stroke-linecap="round" stroke-linejoin="round"/>
<path d="M1104.1 382.3 L1107.6 385.4 L1111.1 389.7 L1125.1 409.8 L1129.4 415.5 L1135.5 422.7 L1142.6 429.8 L1147.6 433.8 L1153.6 437.8 L1159.7 441 L1165.8 443.5 L1174.1 446 L1181.1 447.5 L1190 448.9 L1198.6 449.8 L1220.3 450.9" fill="none" stroke="#2fd23c" stroke-width="5.5" stroke-opacity="1.0" stroke-linecap="round" stroke-linejoin="round"/>
<path d="M1108.1 382.3 L1111.2 385 L1115.1 389.7 L1129.4 410.2 L1135.5 418.1 L1139.6 422.9 L1143.1 426.5 L1147.6 430.6 L1153.6 435.2 L1157.1 437.5 L1164.1 441.2 L1171.1 443.9 L1177.9 445.9 L1184 447.3 L1192.1 448.7 L1202.1 449.7 L1223.6 450.9" fill="none" stroke="#2fd23c" stroke-width="5.5" stroke-opacity="1.0" stroke-linecap="round" stroke-linejoin="round"/>
<path d="M1111.2 381.8 L1112.1 382.3 L1115.6 385.4 L1117.3 387.3 L1122.6 394.6 L1135.5 413 L1140.1 418.9 L1143.6 422.9 L1147.6 427 L1153.6 432.3 L1161.1 437.5 L1165.8 440 L1171.8 442.7 L1178.6 445.1 L1185.6 446.8 L1192.6 448.1 L1203.1 449.5 L1213.6 450.3 L1226.4 450.8" fill="none" stroke="#2fd23c" stroke-width="4.8" stroke-opacity="1.0" stroke-linecap="round" stroke-linejoin="round"/>
<path d="M1116.1 382.3 L1119.6 385.4 L1123.1 389.7 L1137.1 409.8 L1141.5 415.7 L1147.6 422.9 L1154.6 429.8 L1159.7 433.9 L1165.1 437.5 L1171.8 441 L1175.6 442.7 L1182.6 445.1 L1189.6 446.8 L1196.6 448.1 L1207.1 449.5 L1226.4 450.7" fill="none" stroke="#2fd23c" stroke-width="4.8" stroke-opacity="1.0" stroke-linecap="round" stroke-linejoin="round"/>
<path d="M1119.6 382.3 L1123.1 385.4 L1126.6 389.7 L1140.6 409.8 L1147.6 418.9 L1153.6 425.6 L1158.1 429.8 L1161.6 432.7 L1165.8 435.7 L1171.8 439.3 L1177.9 442.1 L1184 444.4 L1190 446.1 L1196.6 447.5 L1207.1 449.1 L1217.6 450.1 L1226.4 450.6" fill="none" stroke="#2fd23c" stroke-width="4.8" stroke-opacity="1.0" stroke-linecap="round" stroke-linejoin="round"/>
<path d="M1123.1 382.3 L1126.6 385.4 L1130.1 389.7 L1144.1 409.8 L1151.1 418.9 L1154.6 422.9 L1159.7 428 L1165.1 432.7 L1168.6 435.2 L1172.1 437.5 L1179.1 441.2 L1186.1 443.9 L1193.1 446 L1200.1 447.5 L1208.2 448.8 L1217.6 449.8 L1226.4 450.4" fill="none" stroke="#2fd23c" stroke-width="4.6" stroke-opacity="1.0" stroke-linecap="round" stroke-linejoin="round"/>
<path d="M1128.1 450.3 L1131.6 447.2 L1135.1 442.9 L1149.1 422.8 L1156.1 413.7 L1159.7 409.6 L1165.8 403.6 L1170.1 399.9 L1173.6 397.4 L1177.9 394.7 L1184.1 391.4 L1190 389 L1196.1 387.1 L1202.1 385.7 L1208.6 384.5 L1215.6 383.5 L1226.4 382.5" fill="none" stroke="#2fd23c" stroke-width="3.5" stroke-opacity="1.0" stroke-linecap="round" stroke-linejoin="round"/>
<path d="M1131.1 450.3 L1134.6 447.2 L1138.1 442.9 L1152.1 422.8 L1159.7 413 L1165.8 406.4 L1169.6 402.8 L1176.6 397.4 L1180.1 395.1 L1187.1 391.4 L1190.6 389.9 L1197.6 387.5 L1204.6 385.8 L1211.6 384.5 L1226.4 382.8" fill="none" stroke="#2fd23c" stroke-width="4.6" stroke-opacity="1.0" stroke-linecap="round" stroke-linejoin="round"/>
<path d="M1134.6 450.3 L1138.1 447.2 L1141.5 443.1 L1155.6 422.8 L1162.6 413.7 L1169.6 406.1 L1173.1 402.8 L1177.9 399 L1183.6 395.1 L1187.1 393.2 L1190.6 391.4 L1197.6 388.7 L1204.6 386.6 L1211.6 385.1 L1218.6 383.9 L1226.4 383.1" fill="none" stroke="#2fd23c" stroke-width="4.8" stroke-opacity="1.0" stroke-linecap="round" stroke-linejoin="round"/>
<path d="M1138.1 450.3 L1141.5 447.3 L1145.1 442.9 L1159.1 422.8 L1166.1 413.7 L1173.1 406.1 L1180.1 399.9 L1184 397.1 L1190 393.5 L1196.1 390.6 L1201.1 388.7 L1211.6 385.8 L1218.6 384.5 L1226.4 383.4" fill="none" stroke="#2fd23c" stroke-width="4.8" stroke-opacity="1.0" stroke-linecap="round" stroke-linejoin="round"/>
<path d="M1141.5 450.3 L1145.1 447.2 L1148.6 442.9 L1162.6 422.8 L1169.6 413.7 L1176.6 406.1 L1183.6 399.9 L1190 395.5 L1194.1 393.2 L1202.1 389.6 L1208.1 387.5 L1214.3 386 L1226.4 383.8" fill="none" stroke="#2fd23c" stroke-width="3.5" stroke-opacity="1.0" stroke-linecap="round" stroke-linejoin="round"/>
<path d="M1150.1 450.3 L1153.6 447.2 L1157.1 442.9 L1171.1 422.8 L1177.9 414 L1184 407.2 L1190 401.6 L1195.6 397.4 L1199.1 395.1 L1206.1 391.4 L1209.6 389.9 L1216.6 387.5 L1226.4 385.2" fill="none" stroke="#2fd23c" stroke-width="5.5" stroke-opacity="1.0" stroke-linecap="round" stroke-linejoin="round"/>
<path d="M1153.6 450.6 L1157.6 447.2 L1161.1 442.9 L1175.1 422.8 L1182.1 413.7 L1185.6 409.7 L1192.6 402.8 L1199.6 397.4 L1203.1 395.1 L1208.2 392.4 L1217.1 388.7 L1226.4 386" fill="none" stroke="#2fd23c" stroke-width="5.5" stroke-opacity="1.0" stroke-linecap="round" stroke-linejoin="round"/>
<path d="M1158.1 450.3 L1161.6 447.2 L1165.1 442.9 L1177.9 424.5 L1184 416.4 L1190 409.3 L1196.1 403.3 L1200.1 399.9 L1203.6 397.4 L1210.6 393.2 L1217.6 389.9 L1226.4 387" fill="none" stroke="#2fd23c" stroke-width="5.5" stroke-opacity="1.0" stroke-linecap="round" stroke-linejoin="round"/>
<path d="M1161.6 450.3 L1165.1 447.2 L1168.6 442.9 L1182.6 422.8 L1186.1 418.1 L1190 413.2 L1196.6 406.1 L1203.6 399.9 L1210.6 395.1 L1217.6 391.4 L1226.4 388.1" fill="none" stroke="#2fd23c" stroke-width="3.5" stroke-opacity="1.0" stroke-linecap="round" stroke-linejoin="round"/>
<path d="M" fill="none" stroke="#2440f0" stroke-width="2.0" stroke-opacity="1.0" stroke-linecap="round" stroke-linejoin="round"/>
<path d="M" fill="none" stroke="#2440f0" stroke-width="2.0" stroke-opacity="1.0" stroke-linecap="round" stroke-linejoin="round"/>
<path d="M" fill="none" stroke="#2440f0" stroke-width="2.0" stroke-opacity="1.0" stroke-linecap="round" stroke-linejoin="round"/>
<path d="M" fill="none" stroke="#5a3cf0" stroke-width="3.0" stroke-opacity="1.0" stroke-linecap="round" stroke-linejoin="round"/>
<path d="M" fill="none" stroke="#2440f0" stroke-width="1.6" stroke-opacity="1.0" stroke-linecap="round" stroke-linejoin="round"/>
<path d="M" fill="none" stroke="#2440f0" stroke-width="1.6" stroke-opacity="1.0" stroke-linecap="round" stroke-linejoin="round"/>
<path d="M" fill="none" stroke="#5a3cf0" stroke-width="3.0" stroke-opacity="1.0" stroke-linecap="round" stroke-linejoin="round"/>
<path d="M" fill="none" stroke="#2440f0" stroke-width="2.0" stroke-opacity="1.0" stroke-linecap="round" stroke-linejoin="round"/>
<path d="M" fill="none" stroke="#2440f0" stroke-width="2.0" stroke-opacity="1.0" stroke-linecap="round" stroke-linejoin="round"/>
<path d="M" fill="none" stroke="#2440f0" stroke-width="1.6" stroke-opacity="1.0" stroke-linecap="round" stroke-linejoin="round"/>
<path d="M802 383.8 L803.6 385.4 L807.1 389.7 L821.1 409.8 L826.3 416.6 L831.6 422.9 L838.4 429.6 L842.1 432.7 L845.6 435.2 L850.5 438.3 L856.6 441.4 L862.6 443.8 L870.1 446 L877.1 447.5 L884.1 448.7 L894.6 449.8 L905.1 450.5 L917.2 450.9" fill="none" stroke="#2440f0" stroke-width="2.0" stroke-opacity="1.0" stroke-linecap="round" stroke-linejoin="round"/>
<path d="M804.1 382.3 L807.6 385.4 L811.1 389.7 L826.3 411.4 L832.1 418.9 L835.6 422.9 L839.1 426.5 L844.4 431.3 L849.6 435.2 L853.1 437.5 L860.1 441.2 L867.1 443.9 L874.1 446 L880.8 447.5 L888.1 448.7 L898.6 449.8 L919.6 450.9" fill="none" stroke="#2440f0" stroke-width="2.0" stroke-opacity="1.0" stroke-linecap="round" stroke-linejoin="round"/>
<path d="M807.6 382.3 L811.1 385.4 L814.1 389 L828.6 409.8 L832.3 414.8 L838.4 422.1 L842.6 426.5 L846.1 429.8 L850.5 433.3 L856.6 437.5 L862.6 440.7 L868.7 443.2 L874.8 445.2 L881.1 446.8 L888.1 448.1 L899 449.5 L909.1 450.3 L923.3 450.9" fill="none" stroke="#2440f0" stroke-width="2.0" stroke-opacity="1.0" stroke-linecap="round" stroke-linejoin="round"/>
<path d="M811.1 382.3 L814.1 384.9 L818.1 389.7 L832.3 410.1 L838.4 418 L842.6 422.9 L846.1 426.5 L850.5 430.5 L856.6 435.2 L860.1 437.5 L867.1 441.2 L874.1 443.9 L880.8 445.9 L886.9 447.3 L895.1 448.7 L905.1 449.7 L926.6 450.9" fill="none" stroke="#5a3cf0" stroke-width="3.0" stroke-opacity="1.0" stroke-linecap="round" stroke-linejoin="round"/>
<path d="M814.1 382 L818.1 385.4 L821.6 389.7 L835.6 409.8 L839.1 414.5 L844.4 421 L849.6 426.5 L853.1 429.8 L856.6 432.7 L863.6 437.5 L868.7 440.2 L874.8 442.9 L881.1 445.1 L888.1 446.8 L895.1 448.1 L905.6 449.5 L917.2 450.3 L930.1 450.9" fill="none" stroke="#2440f0" stroke-width="1.6" stroke-opacity="1.0" stroke-linecap="round" stroke-linejoin="round"/>
<path d="M802 385.8 L808.1 393.7 L820.2 411.3 L826.3 419.1 L832.3 425.7 L836.6 429.8 L840.1 432.7 L847.1 437.5 L854.1 441.2 L861.1 443.9 L868.1 446 L874.8 447.5 L882.1 448.7 L892.6 449.8 L913.6 450.9" fill="none" stroke="#2440f0" stroke-width="1.6" stroke-opacity="1.0" stroke-linecap="round" stroke-linejoin="round"/>
<path d="M819.1 450.3 L822.6 447.2 L826.1 442.9 L840.1 422.8 L844.4 417 L850.5 409.8 L857.6 402.8 L862.6 398.8 L868.7 394.8 L874.8 391.6 L880.8 389.1 L889.1 386.6 L896.1 385.1 L905.1 383.7 L913.6 382.8 L935.4 381.7" fill="none" stroke="#5a3cf0" stroke-width="3.0" stroke-opacity="1.0" stroke-linecap="round" stroke-linejoin="round"/>
<path d="M822.6 450.3 L826.1 447.2 L829.6 442.9 L844.4 421.7 L850.5 413.8 L854.1 409.7 L857.6 406.1 L862.6 401.5 L868.1 397.4 L871.6 395.1 L878.6 391.4 L885.6 388.7 L892.6 386.6 L899 385.2 L906.6 383.9 L917.1 382.8 L938.1 381.7" fill="none" stroke="#2440f0" stroke-width="2.0" stroke-opacity="1.0" stroke-linecap="round" stroke-linejoin="round"/>
<path d="M826.1 450.3 L829.6 447.2 L832.3 444 L847.1 422.8 L850.6 418.1 L856.6 410.9 L861.1 406.1 L864.6 402.8 L868.7 399.5 L875.1 395.1 L880.8 392.1 L886.9 389.5 L892.9 387.5 L899.6 385.8 L906.6 384.5 L917.2 383.1 L927.6 382.3 L941.6 381.7" fill="none" stroke="#2440f0" stroke-width="2.0" stroke-opacity="1.0" stroke-linecap="round" stroke-linejoin="round"/>
<path d="M835.6 450.3 L839.1 447.2 L842.6 442.9 L856.6 422.8 L862.6 414.9 L867.1 409.7 L870.6 406.1 L874.8 402.3 L880.8 397.6 L884.6 395.1 L888.1 393.2 L895.1 389.9 L902.1 387.5 L911.1 385.4 L919.6 383.9 L929.3 382.9 L951.1 381.7" fill="none" stroke="#2440f0" stroke-width="1.6" stroke-opacity="1.0" stroke-linecap="round" stroke-linejoin="round"/>
<path d="M1111.2 381.8 L1112.1 382.3 L1115.6 385.4 L1117.3 387.3 L1122.6 394.6 L1135.5 413 L1140.1 418.9 L1143.6 422.9 L1147.6 427 L1153.6 432.3 L1161.1 437.5 L1165.8 440 L1171.8 442.7 L1178.6 445.1 L1185.6 446.8 L1192.6 448.1 L1203.1 449.5 L1213.6 450.3 L1226.4 450.8" fill="none" stroke="#2440f0" stroke-width="2.0" stroke-opacity="1.0" stroke-linecap="round" stroke-linejoin="round"/>
<path d="M1116.1 382.3 L1119.6 385.4 L1123.1 389.7 L1137.1 409.8 L1141.5 415.7 L1147.6 422.9 L1154.6 429.8 L1159.7 433.9 L1165.1 437.5 L1171.8 441 L1175.6 442.7 L1182.6 445.1 L1189.6 446.8 L1196.6 448.1 L1207.1 449.5 L1226.4 450.7" fill="none" stroke="#2440f0" stroke-width="2.0" stroke-opacity="1.0" stroke-linecap="round" stroke-linejoin="round"/>
<path d="M1119.6 382.3 L1123.1 385.4 L1126.6 389.7 L1140.6 409.8 L1147.6 418.9 L1153.6 425.6 L1158.1 429.8 L1161.6 432.7 L1165.8 435.7 L1171.8 439.3 L1177.9 442.1 L1184 444.4 L1190 446.1 L1196.6 447.5 L1207.1 449.1 L1217.6 450.1 L1226.4 450.6" fill="none" stroke="#2440f0" stroke-width="2.0" stroke-opacity="1.0" stroke-linecap="round" stroke-linejoin="round"/>
<path d="M1123.1 382.3 L1126.6 385.4 L1130.1 389.7 L1144.1 409.8 L1151.1 418.9 L1154.6 422.9 L1159.7 428 L1165.1 432.7 L1168.6 435.2 L1172.1 437.5 L1179.1 441.2 L1186.1 443.9 L1193.1 446 L1200.1 447.5 L1208.2 448.8 L1217.6 449.8 L1226.4 450.4" fill="none" stroke="#5a3cf0" stroke-width="3.0" stroke-opacity="1.0" stroke-linecap="round" stroke-linejoin="round"/>
<path d="M1126.6 382.3 L1130.1 385.4 L1133.6 389.7 L1147.6 409.8 L1154.6 418.9 L1161.6 426.5 L1165.8 430.3 L1172.1 435.2 L1177.9 438.8 L1184 441.8 L1189.6 443.9 L1196.1 445.9 L1203.6 447.5 L1210.6 448.7 L1226.4 450.2" fill="none" stroke="#2440f0" stroke-width="1.6" stroke-opacity="1.0" stroke-linecap="round" stroke-linejoin="round"/>
<path d="M1110.1 382.3 L1113.6 385.4 L1117.1 389.7 L1131.1 409.8 L1135.5 415.6 L1141.5 422.8 L1148.6 429.8 L1153.6 433.8 L1159.7 437.8 L1165.8 441 L1171.8 443.5 L1180.1 446 L1187.1 447.5 L1196.1 448.9 L1204.6 449.8 L1226.4 450.9" fill="none" stroke="#2440f0" stroke-width="1.6" stroke-opacity="1.0" stroke-linecap="round" stroke-linejoin="round"/>
<path d="M1131.1 450.3 L1134.6 447.2 L1138.1 442.9 L1152.1 422.8 L1159.7 413 L1165.8 406.4 L1169.6 402.8 L1176.6 397.4 L1180.1 395.1 L1187.1 391.4 L1190.6 389.9 L1197.6 387.5 L1204.6 385.8 L1211.6 384.5 L1226.4 382.8" fill="none" stroke="#5a3cf0" stroke-width="3.0" stroke-opacity="1.0" stroke-linecap="round" stroke-linejoin="round"/>
<path d="M1134.6 450.3 L1138.1 447.2 L1141.5 443.1 L1155.6 422.8 L1162.6 413.7 L1169.6 406.1 L1173.1 402.8 L1177.9 399 L1183.6 395.1 L1187.1 393.2 L1190.6 391.4 L1197.6 388.7 L1204.6 386.6 L1211.6 385.1 L1218.6 383.9 L1226.4 383.1" fill="none" stroke="#2440f0" stroke-width="2.0" stroke-opacity="1.0" stroke-linecap="round" stroke-linejoin="round"/>
<path d="M1138.1 450.3 L1141.5 447.3 L1145.1 442.9 L1159.1 422.8 L1166.1 413.7 L1173.1 406.1 L1180.1 399.9 L1184 397.1 L1190 393.5 L1196.1 390.6 L1201.1 388.7 L1211.6 385.8 L1218.6 384.5 L1226.4 383.4" fill="none" stroke="#2440f0" stroke-width="2.0" stroke-opacity="1.0" stroke-linecap="round" stroke-linejoin="round"/>
<path d="M1147.6 450.3 L1151.1 447.2 L1154.6 442.9 L1168.6 422.8 L1175.6 413.7 L1179.1 409.7 L1186.1 402.8 L1193.1 397.4 L1196.6 395.1 L1203.6 391.4 L1208.2 389.5 L1214.1 387.5 L1220.3 385.9 L1226.4 384.7" fill="none" stroke="#2440f0" stroke-width="1.6" stroke-opacity="1.0" stroke-linecap="round" stroke-linejoin="round"/>
<path d="M" fill="none" stroke="#f23fe0" stroke-width="1.5" stroke-opacity="1.0" stroke-linecap="round" stroke-linejoin="round"/>
<path d="M" fill="none" stroke="#f23fe0" stroke-width="1.5" stroke-opacity="1.0" stroke-linecap="round" stroke-linejoin="round"/>
<path d="M" fill="none" stroke="#8f52e8" stroke-width="2.0" stroke-opacity="1.0" stroke-linecap="round" stroke-linejoin="round"/>
<path d="M811.1 382.3 L814.1 384.9 L818.1 389.7 L832.3 410.1 L838.4 418 L842.6 422.9 L846.1 426.5 L850.5 430.5 L856.6 435.2 L860.1 437.5 L867.1 441.2 L874.1 443.9 L880.8 445.9 L886.9 447.3 L895.1 448.7 L905.1 449.7 L926.6 450.9" fill="none" stroke="#f23fe0" stroke-width="1.5" stroke-opacity="1.0" stroke-linecap="round" stroke-linejoin="round"/>
<path d="M819.1 450.3 L822.6 447.2 L826.1 442.9 L840.1 422.8 L844.4 417 L850.5 409.8 L857.6 402.8 L862.6 398.8 L868.7 394.8 L874.8 391.6 L880.8 389.1 L889.1 386.6 L896.1 385.1 L905.1 383.7 L913.6 382.8 L935.4 381.7" fill="none" stroke="#f23fe0" stroke-width="1.5" stroke-opacity="1.0" stroke-linecap="round" stroke-linejoin="round"/>
<path d="M817.6 450.3 L821.1 447.2 L824.6 442.9 L838.6 422.8 L844.4 415.1 L849.1 409.7 L856.6 402.4 L862.6 397.7 L866.6 395.1 L870.1 393.2 L877.1 389.9 L884.1 387.5 L892.9 385.4 L901.6 383.9 L911.1 382.9 L922.6 382.1 L933.1 381.7" fill="none" stroke="#8f52e8" stroke-width="2.0" stroke-opacity="1.0" stroke-linecap="round" stroke-linejoin="round"/>
<path d="M1123.1 382.3 L1126.6 385.4 L1130.1 389.7 L1144.1 409.8 L1151.1 418.9 L1154.6 422.9 L1159.7 428 L1165.1 432.7 L1168.6 435.2 L1172.1 437.5 L1179.1 441.2 L1186.1 443.9 L1193.1 446 L1200.1 447.5 L1208.2 448.8 L1217.6 449.8 L1226.4 450.4" fill="none" stroke="#f23fe0" stroke-width="1.5" stroke-opacity="1.0" stroke-linecap="round" stroke-linejoin="round"/>
<path d="M1131.1 450.3 L1134.6 447.2 L1138.1 442.9 L1152.1 422.8 L1159.7 413 L1165.8 406.4 L1169.6 402.8 L1176.6 397.4 L1180.1 395.1 L1187.1 391.4 L1190.6 389.9 L1197.6 387.5 L1204.6 385.8 L1211.6 384.5 L1226.4 382.8" fill="none" stroke="#f23fe0" stroke-width="1.5" stroke-opacity="1.0" stroke-linecap="round" stroke-linejoin="round"/>
<path d="M1129.4 450.4 L1133.1 447.2 L1135.5 444.4 L1140.1 438 L1150.6 422.8 L1154.1 418.1 L1159.7 411.3 L1164.6 406.1 L1168.1 402.8 L1175.1 397.4 L1178.6 395.1 L1185.6 391.4 L1190 389.6 L1196.1 387.5 L1203.1 385.8 L1210.1 384.5 L1217.1 383.5 L1226.4 382.6" fill="none" stroke="#8f52e8" stroke-width="2.0" stroke-opacity="1.0" stroke-linecap="round" stroke-linejoin="round"/>
<path d="M" fill="none" stroke="#f23fe0" stroke-width="0.9" stroke-opacity="1.0" stroke-linecap="round" stroke-linejoin="round"/>
<path d="M817.6 450.3 L821.1 447.2 L824.6 442.9 L838.6 422.8 L844.4 415.1 L849.1 409.7 L856.6 402.4 L862.6 397.7 L866.6 395.1 L870.1 393.2 L877.1 389.9 L884.1 387.5 L892.9 385.4 L901.6 383.9 L911.1 382.9 L922.6 382.1 L933.1 381.7" fill="none" stroke="#f23fe0" stroke-width="0.9" stroke-opacity="1.0" stroke-linecap="round" stroke-linejoin="round"/>
<path d="M1129.4 450.4 L1133.1 447.2 L1135.5 444.4 L1140.1 438 L1150.6 422.8 L1154.1 418.1 L1159.7 411.3 L1164.6 406.1 L1168.1 402.8 L1175.1 397.4 L1178.6 395.1 L1185.6 391.4 L1190 389.6 L1196.1 387.5 L1203.1 385.8 L1210.1 384.5 L1217.1 383.5 L1226.4 382.6" fill="none" stroke="#f23fe0" stroke-width="0.9" stroke-opacity="1.0" stroke-linecap="round" stroke-linejoin="round"/>
</g>
<line x1="806" y1="380.6" x2="1222.4" y2="380.6" stroke="url(#railt)" stroke-width="1.8" />
<line x1="806" y1="452.1" x2="1222.4" y2="452.1" stroke="url(#rail)" stroke-width="2.2" />
<line x1="806" y1="453.7" x2="1222.4" y2="453.7" stroke="#9ab52c" stroke-width="1.2" />
</g>
<text class="se" x="1220.2" y="399.8" font-size="21.4" text-anchor="end" fill="#fff" >100Mbps</text>
<rect x="806" y="461.7" width="416.4" height="75.3" fill="#000" />
<line x1="806" y1="471.1" x2="1222.4" y2="471.1" stroke="#2a2a2a" stroke-width="0.6" />
<line x1="806" y1="480.5" x2="1222.4" y2="480.5" stroke="#2a2a2a" stroke-width="0.6" />
<line x1="806" y1="489.9" x2="1222.4" y2="489.9" stroke="#2a2a2a" stroke-width="0.6" />
<line x1="806" y1="499.4" x2="1222.4" y2="499.4" stroke="#2a2a2a" stroke-width="0.6" />
<line x1="806" y1="508.8" x2="1222.4" y2="508.8" stroke="#2a2a2a" stroke-width="0.6" />
<line x1="806" y1="518.2" x2="1222.4" y2="518.2" stroke="#2a2a2a" stroke-width="0.6" />
<line x1="806" y1="527.6" x2="1222.4" y2="527.6" stroke="#2a2a2a" stroke-width="0.6" />
<line x1="893" y1="461.7" x2="893" y2="537" stroke="#3a3a3a" stroke-width="0.8" />
<line x1="1000" y1="461.7" x2="1000" y2="537" stroke="#3a3a3a" stroke-width="0.8" />
<line x1="1108" y1="461.7" x2="1108" y2="537" stroke="#3a3a3a" stroke-width="0.8" />
<line x1="806" y1="499.4" x2="1222.4" y2="499.4" stroke="#777" stroke-width="1" stroke-dasharray="1 11"/>
<g clip-path="url(#eye1)">
<g clip-path="url(#eyin1)">
<path d="M" fill="none" stroke="#2fd23c" stroke-width="5.5" stroke-opacity="1.0" stroke-linecap="round" stroke-linejoin="round"/>
<path d="M" fill="none" stroke="#2fd23c" stroke-width="5.5" stroke-opacity="1.0" stroke-linecap="round" stroke-linejoin="round"/>
<path d="M" fill="none" stroke="#2fd23c" stroke-width="4.8" stroke-opacity="1.0" stroke-linecap="round" stroke-linejoin="round"/>
<path d="M" fill="none" stroke="#2fd23c" stroke-width="5.5" stroke-opacity="1.0" stroke-linecap="round" stroke-linejoin="round"/>
<path d="M" fill="none" stroke="#2fd23c" stroke-width="4.8" stroke-opacity="1.0" stroke-linecap="round" stroke-linejoin="round"/>
<path d="M" fill="none" stroke="#2fd23c" stroke-width="4.6" stroke-opacity="1.0" stroke-linecap="round" stroke-linejoin="round"/>
<path d="M" fill="none" stroke="#2fd23c" stroke-width="4.8" stroke-opacity="1.0" stroke-linecap="round" stroke-linejoin="round"/>
<path d="M" fill="none" stroke="#2fd23c" stroke-width="4.6" stroke-opacity="1.0" stroke-linecap="round" stroke-linejoin="round"/>
<path d="M" fill="none" stroke="#2fd23c" stroke-width="4.8" stroke-opacity="1.0" stroke-linecap="round" stroke-linejoin="round"/>
<path d="M" fill="none" stroke="#2fd23c" stroke-width="3.5" stroke-opacity="1.0" stroke-linecap="round" stroke-linejoin="round"/>
<path d="M" fill="none" stroke="#2fd23c" stroke-width="3.5" stroke-opacity="1.0" stroke-linecap="round" stroke-linejoin="round"/>
<path d="M" fill="none" stroke="#2fd23c" stroke-width="4.8" stroke-opacity="1.0" stroke-linecap="round" stroke-linejoin="round"/>
<path d="M" fill="none" stroke="#2fd23c" stroke-width="5.5" stroke-opacity="1.0" stroke-linecap="round" stroke-linejoin="round"/>
<path d="M" fill="none" stroke="#2fd23c" stroke-width="4.8" stroke-opacity="1.0" stroke-linecap="round" stroke-linejoin="round"/>
<path d="M" fill="none" stroke="#2fd23c" stroke-width="4.6" stroke-opacity="1.0" stroke-linecap="round" stroke-linejoin="round"/>
<path d="M" fill="none" stroke="#2fd23c" stroke-width="4.8" stroke-opacity="1.0" stroke-linecap="round" stroke-linejoin="round"/>
<path d="M" fill="none" stroke="#2fd23c" stroke-width="4.6" stroke-opacity="1.0" stroke-linecap="round" stroke-linejoin="round"/>
<path d="M" fill="none" stroke="#2fd23c" stroke-width="4.8" stroke-opacity="1.0" stroke-linecap="round" stroke-linejoin="round"/>
<path d="M" fill="none" stroke="#2fd23c" stroke-width="3.5" stroke-opacity="1.0" stroke-linecap="round" stroke-linejoin="round"/>
<path d="M802 483.1 L812.5 492.8 L817.9 497.5 L826.3 504.1 L832.3 508.3 L838.4 512 L844.9 515.5 L855.7 520.3 L862.6 522.7 L871.9 525.4 L880.8 527.4 L888.1 528.7 L899 530.3 L911.1 531.5 L925.9 532.5 L959.6 533.6" fill="none" stroke="#2fd23c" stroke-width="5.5" stroke-opacity="1.0" stroke-linecap="round" stroke-linejoin="round"/>
<path d="M802 478.3 L820.2 495.2 L826.3 500.2 L833.7 505.8 L839.1 509.4 L844.4 512.6 L849.9 515.5 L856.6 518.6 L866.1 522.2 L874.8 524.9 L882.3 526.7 L893.1 528.7 L905.1 530.4 L917.2 531.6 L930.9 532.5 L947.1 533.2 L965.7 533.6" fill="none" stroke="#2fd23c" stroke-width="5.5" stroke-opacity="1.0" stroke-linecap="round" stroke-linejoin="round"/>
<path d="M802 473.8 L820.2 490.7 L826.3 496.1 L832.3 501.1 L838.4 505.6 L844.4 509.6 L854.9 515.5 L862.6 519 L868.7 521.4 L876.5 523.9 L887.3 526.7 L898.1 528.7 L908.9 530.3 L919.7 531.4 L935.4 532.5 L968.3 533.6" fill="none" stroke="#2fd23c" stroke-width="4.8" stroke-opacity="1.0" stroke-linecap="round" stroke-linejoin="round"/>
<path d="M802 469.7 L808.1 474.7 L827.5 492.8 L838.4 501.9 L844.4 506.3 L854.5 512.6 L862.6 516.8 L870.7 520.3 L880.8 523.7 L886.9 525.4 L899 528 L911.1 529.9 L923.3 531.2 L935.5 532.2 L953.6 533.1 L973.3 533.6" fill="none" stroke="#2fd23c" stroke-width="5.5" stroke-opacity="1.0" stroke-linecap="round" stroke-linejoin="round"/>
<path d="M802 466.4 L805.5 468.6 L810.9 472.8 L832.5 492.8 L838.4 497.9 L844.4 502.7 L850.5 507.1 L859.5 512.6 L868.7 517.3 L875.7 520.3 L886.5 523.9 L892.9 525.7 L905.1 528.2 L917.2 530.1 L929.3 531.3 L941.4 532.2 L959.6 533.1 L978.3 533.6" fill="none" stroke="#2fd23c" stroke-width="4.8" stroke-opacity="1.0" stroke-linecap="round" stroke-linejoin="round"/>
<path d="M806.1 465.5 L811.5 468.6 L816.9 472.8 L838.5 492.8 L844.4 498 L854.7 505.8 L862.6 511 L868.7 514.4 L874.8 517.4 L881.7 520.3 L892.5 523.9 L899 525.7 L911.1 528.2 L923.3 530.1 L935.4 531.3 L947.5 532.2 L965.7 533.1 L984.3 533.6" fill="none" stroke="#2fd23c" stroke-width="4.6" stroke-opacity="1.0" stroke-linecap="round" stroke-linejoin="round"/>
<path d="M812.1 465.5 L814.1 466.5 L817.5 468.6 L822.9 472.8 L844.5 492.8 L850.5 498 L860.7 505.8 L868.7 511 L874.8 514.4 L880.8 517.4 L887.7 520.3 L898.5 523.9 L905.1 525.7 L917.2 528.3 L929.3 530.1 L941.4 531.4 L953.6 532.2 L971.8 533.1 L990.3 533.6" fill="none" stroke="#2fd23c" stroke-width="4.8" stroke-opacity="1.0" stroke-linecap="round" stroke-linejoin="round"/>
<path d="M818.1 465.5 L820.2 466.5 L823.5 468.6 L828.9 472.8 L850.5 492.8 L856.6 498.1 L866.7 505.8 L874.8 511 L880.8 514.4 L886.9 517.4 L893.7 520.3 L904.5 523.9 L911.1 525.7 L923.3 528.3 L935.4 530.1 L947.5 531.4 L959.6 532.3 L977.8 533.1 L996.3 533.6" fill="none" stroke="#2fd23c" stroke-width="4.6" stroke-opacity="1.0" stroke-linecap="round" stroke-linejoin="round"/>
<path d="M824.1 465.5 L826.3 466.6 L829.5 468.6 L834.9 472.8 L856.6 492.9 L862.6 498.1 L872.7 505.8 L880.8 511.1 L886.9 514.5 L892.9 517.4 L899.7 520.3 L910.5 523.9 L917.2 525.7 L929.3 528.3 L941.4 530.1 L953.6 531.4 L965.7 532.3 L983.9 533.1 L1002.3 533.6" fill="none" stroke="#2fd23c" stroke-width="4.8" stroke-opacity="1.0" stroke-linecap="round" stroke-linejoin="round"/>
<path d="M829.1 465.5 L834.5 468.6 L839.9 472.8 L862.6 493.8 L868.7 499 L874.8 503.7 L880.8 507.9 L888.5 512.6 L899 517.9 L905.1 520.4 L915.5 523.9 L923.3 526 L935.4 528.5 L947.5 530.2 L959.6 531.5 L974.9 532.5 L1008.1 533.6" fill="none" stroke="#2fd23c" stroke-width="3.5" stroke-opacity="1.0" stroke-linecap="round" stroke-linejoin="round"/>
<path d="M802 522.9 L820.5 505.7 L826.3 500.7 L836.7 492.7 L844.4 487.6 L852.9 483 L862.6 478.6 L868.7 476.4 L879.9 473.1 L886.9 471.5 L896.1 469.8 L906.9 468.2 L917.7 467.1 L933.9 466 L966.3 464.9" fill="none" stroke="#2fd23c" stroke-width="3.5" stroke-opacity="1.0" stroke-linecap="round" stroke-linejoin="round"/>
<path d="M802 527.3 L808.1 522 L826.3 505 L832.3 499.8 L838.4 495.1 L844.4 490.8 L852.5 485.9 L862.6 480.7 L868.7 478.2 L879.5 474.6 L886.9 472.6 L899 470.1 L911.1 468.3 L923.3 467.1 L938.9 466 L971.8 464.9" fill="none" stroke="#2fd23c" stroke-width="4.8" stroke-opacity="1.0" stroke-linecap="round" stroke-linejoin="round"/>
<path d="M802 531.5 L804.5 529.9 L809.9 525.7 L832.3 504.9 L838.4 499.8 L844.4 495 L850.5 490.8 L858.5 485.9 L868.7 480.7 L874.8 478.2 L885.5 474.6 L892.9 472.6 L905.1 470.1 L917.2 468.3 L929.3 467.1 L944.9 466 L977.8 464.9" fill="none" stroke="#2fd23c" stroke-width="5.5" stroke-opacity="1.0" stroke-linecap="round" stroke-linejoin="round"/>
<path d="M802 533.7 L804.1 533 L808.1 530.8 L814.1 526.3 L838.4 504 L844.4 498.9 L852.7 492.7 L862.6 486.4 L868.7 483.1 L874.8 480.3 L880.8 477.8 L890.5 474.6 L899 472.3 L911.1 469.9 L922.9 468.2 L935.4 467 L949.9 466 L983.9 464.9" fill="none" stroke="#2fd23c" stroke-width="4.8" stroke-opacity="1.0" stroke-linecap="round" stroke-linejoin="round"/>
<path d="M808.1 533.7 L810.1 533 L814.1 530.8 L820.2 526.3 L844.4 503.9 L850.5 498.9 L858.7 492.7 L868.7 486.3 L874.8 483.1 L880.8 480.2 L886.9 477.8 L896.5 474.6 L905.1 472.3 L917.2 469.9 L928.9 468.2 L941.4 467 L955.9 466 L989.9 464.9" fill="none" stroke="#2fd23c" stroke-width="4.6" stroke-opacity="1.0" stroke-linecap="round" stroke-linejoin="round"/>
<path d="M814.1 533.7 L816.1 533 L820.2 530.8 L826.3 526.2 L850.5 503.9 L856.6 498.8 L864.7 492.7 L874.8 486.3 L880.8 483 L886.9 480.2 L892.9 477.7 L902.5 474.6 L911.1 472.3 L923.3 469.9 L934.9 468.2 L947.5 467 L961.9 466 L996 464.9" fill="none" stroke="#2fd23c" stroke-width="4.8" stroke-opacity="1.0" stroke-linecap="round" stroke-linejoin="round"/>
<path d="M820.2 533.7 L822.1 533 L826.3 530.7 L832.3 526.2 L856.6 503.8 L862.6 498.8 L870.7 492.7 L880.8 486.2 L886.9 483 L892.9 480.2 L899 477.7 L908.5 474.6 L919.3 471.8 L929.3 469.9 L940.9 468.2 L953.6 467 L967.9 466 L1002.1 464.9" fill="none" stroke="#2fd23c" stroke-width="4.6" stroke-opacity="1.0" stroke-linecap="round" stroke-linejoin="round"/>
<path d="M826.3 533.6 L828.1 533 L832.3 530.7 L838.4 526.1 L862.6 503.8 L868.7 498.7 L876.7 492.7 L886.9 486.2 L892.9 483 L899 480.1 L905.1 477.7 L914.5 474.6 L925.3 471.8 L935.4 469.9 L946.9 468.2 L959.6 467 L973.9 466 L1008.1 464.9" fill="none" stroke="#2fd23c" stroke-width="4.8" stroke-opacity="1.0" stroke-linecap="round" stroke-linejoin="round"/>
<path d="M832.3 533.3 L838.4 530 L843.9 525.7 L868.7 502.9 L874.8 497.9 L880.8 493.3 L886.9 489.2 L892.9 485.6 L899 482.4 L908.7 478.2 L917.2 475.3 L924.9 473.1 L935.7 470.7 L947.5 468.8 L959.6 467.4 L973.5 466.3 L989.9 465.5 L1011.3 464.9" fill="none" stroke="#2fd23c" stroke-width="3.5" stroke-opacity="1.0" stroke-linecap="round" stroke-linejoin="round"/>
<path d="M1092.1 465.5 L1097.5 468.6 L1102.9 472.8 L1124.5 492.8 L1135.3 501.8 L1140.7 505.8 L1146.1 509.4 L1151.5 512.6 L1156.9 515.5 L1165.8 519.5 L1171.8 521.8 L1178.5 523.9 L1189.3 526.7 L1196.1 528.1 L1205.5 529.6 L1216.3 530.9 L1226.4 531.8" fill="none" stroke="#2fd23c" stroke-width="5.5" stroke-opacity="1.0" stroke-linecap="round" stroke-linejoin="round"/>
<path d="M1097.1 465.5 L1099.1 466.5 L1102.5 468.6 L1107.9 472.8 L1129.4 492.7 L1140.3 501.8 L1145.7 505.8 L1151.1 509.4 L1156.5 512.6 L1161.9 515.5 L1171.8 519.9 L1177.9 522.2 L1190 525.7 L1199.7 527.8 L1208.2 529.2 L1226.4 531.3" fill="none" stroke="#2fd23c" stroke-width="5.5" stroke-opacity="1.0" stroke-linecap="round" stroke-linejoin="round"/>
<path d="M1102.1 465.5 L1105.1 467.1 L1107.5 468.6 L1112.9 472.8 L1134.5 492.8 L1145.3 501.8 L1150.7 505.8 L1156.1 509.4 L1165.8 514.9 L1171.8 517.8 L1177.9 520.4 L1184 522.5 L1193.9 525.4 L1208.2 528.4 L1215.5 529.6 L1226.4 530.9" fill="none" stroke="#2fd23c" stroke-width="4.8" stroke-opacity="1.0" stroke-linecap="round" stroke-linejoin="round"/>
<path d="M1105.1 464.8 L1107.1 465.5 L1111.2 467.7 L1117.3 472.3 L1139.5 492.8 L1147.6 499.7 L1155.7 505.8 L1161.1 509.4 L1166.5 512.6 L1171.9 515.5 L1177.9 518.3 L1184 520.8 L1193.5 523.9 L1202.1 526.2 L1208.2 527.5 L1215.1 528.7 L1226.4 530.3" fill="none" stroke="#2fd23c" stroke-width="5.5" stroke-opacity="1.0" stroke-linecap="round" stroke-linejoin="round"/>
<path d="M1111.2 465.2 L1117.3 468.4 L1122.9 472.8 L1144.5 492.8 L1153.6 500.6 L1160.7 505.8 L1166.1 509.4 L1171.8 512.8 L1177.9 516 L1184 518.8 L1190 521.2 L1196.1 523.2 L1209.3 526.7 L1220.1 528.7 L1226.4 529.7" fill="none" stroke="#2fd23c" stroke-width="4.8" stroke-opacity="1.0" stroke-linecap="round" stroke-linejoin="round"/>
<path d="M1117.3 465.2 L1123.3 468.5 L1128.9 472.8 L1150.5 492.8 L1159.7 500.6 L1166.7 505.8 L1172.1 509.4 L1177.5 512.6 L1188.3 518 L1199.1 522.2 L1209.9 525.4 L1220.3 527.7 L1226.4 528.8" fill="none" stroke="#2fd23c" stroke-width="4.6" stroke-opacity="1.0" stroke-linecap="round" stroke-linejoin="round"/>
<path d="M1123.3 465.2 L1129.4 468.5 L1134.9 472.8 L1153.6 490.2 L1161.9 497.5 L1171.8 505.2 L1178.1 509.4 L1183.5 512.6 L1188.9 515.5 L1199.7 520.3 L1208.2 523.2 L1214.3 525 L1226.4 527.7" fill="none" stroke="#2fd23c" stroke-width="4.8" stroke-opacity="1.0" stroke-linecap="round" stroke-linejoin="round"/>
<path d="M1129.4 465.2 L1135.5 468.6 L1140.9 472.8 L1159.7 490.3 L1167.9 497.5 L1177.9 505.3 L1184.1 509.4 L1189.5 512.6 L1194.9 515.5 L1205.7 520.3 L1216.5 523.9 L1226.4 526.5" fill="none" stroke="#2fd23c" stroke-width="4.6" stroke-opacity="1.0" stroke-linecap="round" stroke-linejoin="round"/>
<path d="M1135.5 465.3 L1141.5 468.6 L1146.9 472.8 L1165.8 490.4 L1173.9 497.5 L1184 505.3 L1190 509.4 L1195.5 512.6 L1200.9 515.5 L1208.2 518.9 L1217.1 522.2 L1226.4 525" fill="none" stroke="#2fd23c" stroke-width="4.8" stroke-opacity="1.0" stroke-linecap="round" stroke-linejoin="round"/>
<path d="M1141.1 465.5 L1146.5 468.6 L1151.9 472.8 L1173.5 492.8 L1184 501.6 L1190 506 L1200.5 512.6 L1208.2 516.6 L1216.7 520.3 L1226.4 523.6" fill="none" stroke="#2fd23c" stroke-width="3.5" stroke-opacity="1.0" stroke-linecap="round" stroke-linejoin="round"/>
<path d="M1099.1 533.4 L1105.1 530.1 L1110.9 525.7 L1132.5 505.7 L1143.3 496.7 L1148.7 492.7 L1154.1 489.1 L1159.5 485.9 L1164.9 483 L1171.8 479.8 L1177.9 477.4 L1184 475.3 L1191.9 473.1 L1202.1 470.8 L1208.1 469.8 L1226.4 467.4" fill="none" stroke="#2fd23c" stroke-width="3.5" stroke-opacity="1.0" stroke-linecap="round" stroke-linejoin="round"/>
<path d="M1105.1 533 L1110.5 529.9 L1115.9 525.7 L1137.5 505.7 L1147.6 497.2 L1153.6 492.7 L1159.1 489.1 L1165.8 485.1 L1171.8 482 L1177.9 479.3 L1184 477 L1191.5 474.6 L1196.9 473.1 L1207.7 470.7 L1218.5 468.9 L1226.4 467.9" fill="none" stroke="#2fd23c" stroke-width="4.8" stroke-opacity="1.0" stroke-linecap="round" stroke-linejoin="round"/>
<path d="M1111.1 533 L1116.5 529.9 L1121.9 525.7 L1143.5 505.7 L1153.6 497.2 L1159.7 492.7 L1165.1 489.1 L1170.5 485.9 L1177.9 482 L1184 479.3 L1190 477 L1196.1 475 L1208.3 471.8 L1219.1 469.8 L1226.4 468.7" fill="none" stroke="#2fd23c" stroke-width="5.5" stroke-opacity="1.0" stroke-linecap="round" stroke-linejoin="round"/>
<path d="M1116.1 533 L1121.5 529.9 L1126.9 525.7 L1148.5 505.7 L1159.3 496.7 L1165.8 491.9 L1175.5 485.9 L1186.3 480.5 L1197.1 476.3 L1202.5 474.6 L1213.3 471.8 L1226.4 469.4" fill="none" stroke="#2fd23c" stroke-width="4.8" stroke-opacity="1.0" stroke-linecap="round" stroke-linejoin="round"/>
<path d="M1122.1 533 L1127.5 529.9 L1132.9 525.7 L1153.6 506.4 L1159.9 501 L1170.7 492.7 L1177.9 488 L1184 484.5 L1190 481.5 L1196.1 478.9 L1202.1 476.6 L1213.9 473.1 L1226.4 470.4" fill="none" stroke="#2fd23c" stroke-width="4.6" stroke-opacity="1.0" stroke-linecap="round" stroke-linejoin="round"/>
<path d="M1128.1 533 L1133.5 529.9 L1138.9 525.7 L1159.7 506.4 L1165.8 501.1 L1171.8 496.2 L1182.1 489.1 L1187.5 485.9 L1192.9 483 L1202.1 478.8 L1208.2 476.6 L1214.3 474.6 L1226.4 471.6" fill="none" stroke="#2fd23c" stroke-width="4.8" stroke-opacity="1.0" stroke-linecap="round" stroke-linejoin="round"/>
<path d="M1134.1 533 L1139.5 529.9 L1144.9 525.7 L1165.8 506.3 L1171.8 501 L1177.9 496.2 L1188.1 489.1 L1196.1 484.4 L1204.3 480.5 L1215.1 476.3 L1226.4 473" fill="none" stroke="#2fd23c" stroke-width="4.6" stroke-opacity="1.0" stroke-linecap="round" stroke-linejoin="round"/>
<path d="M1140.1 533 L1145.5 529.9 L1150.9 525.7 L1172.5 505.7 L1183.3 496.7 L1190 491.8 L1199.5 485.9 L1208.2 481.4 L1215.7 478.2 L1226.4 474.6" fill="none" stroke="#2fd23c" stroke-width="4.8" stroke-opacity="1.0" stroke-linecap="round" stroke-linejoin="round"/>
<path d="M1145.1 533 L1147.6 531.7 L1150.5 529.9 L1155.9 525.7 L1177.9 505.3 L1184 500.1 L1193.7 492.7 L1202.1 487.2 L1209.9 483 L1220.3 478.4 L1226.4 476.2" fill="none" stroke="#2fd23c" stroke-width="3.5" stroke-opacity="1.0" stroke-linecap="round" stroke-linejoin="round"/>
<path d="M" fill="none" stroke="#2440f0" stroke-width="2.0" stroke-opacity="1.0" stroke-linecap="round" stroke-linejoin="round"/>
<path d="M" fill="none" stroke="#2440f0" stroke-width="2.0" stroke-opacity="1.0" stroke-linecap="round" stroke-linejoin="round"/>
<path d="M" fill="none" stroke="#5a3cf0" stroke-width="3.0" stroke-opacity="1.0" stroke-linecap="round" stroke-linejoin="round"/>
<path d="M" fill="none" stroke="#2440f0" stroke-width="2.0" stroke-opacity="1.0" stroke-linecap="round" stroke-linejoin="round"/>
<path d="M" fill="none" stroke="#5a3cf0" stroke-width="3.0" stroke-opacity="1.0" stroke-linecap="round" stroke-linejoin="round"/>
<path d="M" fill="none" stroke="#2440f0" stroke-width="2.0" stroke-opacity="1.0" stroke-linecap="round" stroke-linejoin="round"/>
<path d="M" fill="none" stroke="#2440f0" stroke-width="2.0" stroke-opacity="1.0" stroke-linecap="round" stroke-linejoin="round"/>
<path d="M" fill="none" stroke="#2440f0" stroke-width="2.0" stroke-opacity="1.0" stroke-linecap="round" stroke-linejoin="round"/>
<path d="M" fill="none" stroke="#5a3cf0" stroke-width="3.0" stroke-opacity="1.0" stroke-linecap="round" stroke-linejoin="round"/>
<path d="M" fill="none" stroke="#2440f0" stroke-width="2.0" stroke-opacity="1.0" stroke-linecap="round" stroke-linejoin="round"/>
<path d="M" fill="none" stroke="#5a3cf0" stroke-width="3.0" stroke-opacity="1.0" stroke-linecap="round" stroke-linejoin="round"/>
<path d="M" fill="none" stroke="#2440f0" stroke-width="2.0" stroke-opacity="1.0" stroke-linecap="round" stroke-linejoin="round"/>
<path d="M802 473.8 L820.2 490.7 L826.3 496.1 L832.3 501.1 L838.4 505.6 L844.4 509.6 L854.9 515.5 L862.6 519 L868.7 521.4 L876.5 523.9 L887.3 526.7 L898.1 528.7 L908.9 530.3 L919.7 531.4 L935.4 532.5 L968.3 533.6" fill="none" stroke="#2440f0" stroke-width="2.0" stroke-opacity="1.0" stroke-linecap="round" stroke-linejoin="round"/>
<path d="M802 466.4 L805.5 468.6 L810.9 472.8 L832.5 492.8 L838.4 497.9 L844.4 502.7 L850.5 507.1 L859.5 512.6 L868.7 517.3 L875.7 520.3 L886.5 523.9 L892.9 525.7 L905.1 528.2 L917.2 530.1 L929.3 531.3 L941.4 532.2 L959.6 533.1 L978.3 533.6" fill="none" stroke="#2440f0" stroke-width="2.0" stroke-opacity="1.0" stroke-linecap="round" stroke-linejoin="round"/>
<path d="M806.1 465.5 L811.5 468.6 L816.9 472.8 L838.5 492.8 L844.4 498 L854.7 505.8 L862.6 511 L868.7 514.4 L874.8 517.4 L881.7 520.3 L892.5 523.9 L899 525.7 L911.1 528.2 L923.3 530.1 L935.4 531.3 L947.5 532.2 L965.7 533.1 L984.3 533.6" fill="none" stroke="#5a3cf0" stroke-width="3.0" stroke-opacity="1.0" stroke-linecap="round" stroke-linejoin="round"/>
<path d="M812.1 465.5 L814.1 466.5 L817.5 468.6 L822.9 472.8 L844.5 492.8 L850.5 498 L860.7 505.8 L868.7 511 L874.8 514.4 L880.8 517.4 L887.7 520.3 L898.5 523.9 L905.1 525.7 L917.2 528.3 L929.3 530.1 L941.4 531.4 L953.6 532.2 L971.8 533.1 L990.3 533.6" fill="none" stroke="#2440f0" stroke-width="2.0" stroke-opacity="1.0" stroke-linecap="round" stroke-linejoin="round"/>
<path d="M818.1 465.5 L820.2 466.5 L823.5 468.6 L828.9 472.8 L850.5 492.8 L856.6 498.1 L866.7 505.8 L874.8 511 L880.8 514.4 L886.9 517.4 L893.7 520.3 L904.5 523.9 L911.1 525.7 L923.3 528.3 L935.4 530.1 L947.5 531.4 L959.6 532.3 L977.8 533.1 L996.3 533.6" fill="none" stroke="#5a3cf0" stroke-width="3.0" stroke-opacity="1.0" stroke-linecap="round" stroke-linejoin="round"/>
<path d="M824.1 465.5 L826.3 466.6 L829.5 468.6 L834.9 472.8 L856.6 492.9 L862.6 498.1 L872.7 505.8 L880.8 511.1 L886.9 514.5 L892.9 517.4 L899.7 520.3 L910.5 523.9 L917.2 525.7 L929.3 528.3 L941.4 530.1 L953.6 531.4 L965.7 532.3 L983.9 533.1 L1002.3 533.6" fill="none" stroke="#2440f0" stroke-width="2.0" stroke-opacity="1.0" stroke-linecap="round" stroke-linejoin="round"/>
<path d="M802 527.3 L808.1 522 L826.3 505 L832.3 499.8 L838.4 495.1 L844.4 490.8 L852.5 485.9 L862.6 480.7 L868.7 478.2 L879.5 474.6 L886.9 472.6 L899 470.1 L911.1 468.3 L923.3 467.1 L938.9 466 L971.8 464.9" fill="none" stroke="#2440f0" stroke-width="2.0" stroke-opacity="1.0" stroke-linecap="round" stroke-linejoin="round"/>
<path d="M802 533.7 L804.1 533 L808.1 530.8 L814.1 526.3 L838.4 504 L844.4 498.9 L852.7 492.7 L862.6 486.4 L868.7 483.1 L874.8 480.3 L880.8 477.8 L890.5 474.6 L899 472.3 L911.1 469.9 L922.9 468.2 L935.4 467 L949.9 466 L983.9 464.9" fill="none" stroke="#2440f0" stroke-width="2.0" stroke-opacity="1.0" stroke-linecap="round" stroke-linejoin="round"/>
<path d="M808.1 533.7 L810.1 533 L814.1 530.8 L820.2 526.3 L844.4 503.9 L850.5 498.9 L858.7 492.7 L868.7 486.3 L874.8 483.1 L880.8 480.2 L886.9 477.8 L896.5 474.6 L905.1 472.3 L917.2 469.9 L928.9 468.2 L941.4 467 L955.9 466 L989.9 464.9" fill="none" stroke="#5a3cf0" stroke-width="3.0" stroke-opacity="1.0" stroke-linecap="round" stroke-linejoin="round"/>
<path d="M814.1 533.7 L816.1 533 L820.2 530.8 L826.3 526.2 L850.5 503.9 L856.6 498.8 L864.7 492.7 L874.8 486.3 L880.8 483 L886.9 480.2 L892.9 477.7 L902.5 474.6 L911.1 472.3 L923.3 469.9 L934.9 468.2 L947.5 467 L961.9 466 L996 464.9" fill="none" stroke="#2440f0" stroke-width="2.0" stroke-opacity="1.0" stroke-linecap="round" stroke-linejoin="round"/>
<path d="M820.2 533.7 L822.1 533 L826.3 530.7 L832.3 526.2 L856.6 503.8 L862.6 498.8 L870.7 492.7 L880.8 486.2 L886.9 483 L892.9 480.2 L899 477.7 L908.5 474.6 L919.3 471.8 L929.3 469.9 L940.9 468.2 L953.6 467 L967.9 466 L1002.1 464.9" fill="none" stroke="#5a3cf0" stroke-width="3.0" stroke-opacity="1.0" stroke-linecap="round" stroke-linejoin="round"/>
<path d="M826.3 533.6 L828.1 533 L832.3 530.7 L838.4 526.1 L862.6 503.8 L868.7 498.7 L876.7 492.7 L886.9 486.2 L892.9 483 L899 480.1 L905.1 477.7 L914.5 474.6 L925.3 471.8 L935.4 469.9 L946.9 468.2 L959.6 467 L973.9 466 L1008.1 464.9" fill="none" stroke="#2440f0" stroke-width="2.0" stroke-opacity="1.0" stroke-linecap="round" stroke-linejoin="round"/>
<path d="M1102.1 465.5 L1105.1 467.1 L1107.5 468.6 L1112.9 472.8 L1134.5 492.8 L1145.3 501.8 L1150.7 505.8 L1156.1 509.4 L1165.8 514.9 L1171.8 517.8 L1177.9 520.4 L1184 522.5 L1193.9 525.4 L1208.2 528.4 L1215.5 529.6 L1226.4 530.9" fill="none" stroke="#2440f0" stroke-width="2.0" stroke-opacity="1.0" stroke-linecap="round" stroke-linejoin="round"/>
<path d="M1111.2 465.2 L1117.3 468.4 L1122.9 472.8 L1144.5 492.8 L1153.6 500.6 L1160.7 505.8 L1166.1 509.4 L1171.8 512.8 L1177.9 516 L1184 518.8 L1190 521.2 L1196.1 523.2 L1209.3 526.7 L1220.1 528.7 L1226.4 529.7" fill="none" stroke="#2440f0" stroke-width="2.0" stroke-opacity="1.0" stroke-linecap="round" stroke-linejoin="round"/>
<path d="M1117.3 465.2 L1123.3 468.5 L1128.9 472.8 L1150.5 492.8 L1159.7 500.6 L1166.7 505.8 L1172.1 509.4 L1177.5 512.6 L1188.3 518 L1199.1 522.2 L1209.9 525.4 L1220.3 527.7 L1226.4 528.8" fill="none" stroke="#5a3cf0" stroke-width="3.0" stroke-opacity="1.0" stroke-linecap="round" stroke-linejoin="round"/>
<path d="M1123.3 465.2 L1129.4 468.5 L1134.9 472.8 L1153.6 490.2 L1161.9 497.5 L1171.8 505.2 L1178.1 509.4 L1183.5 512.6 L1188.9 515.5 L1199.7 520.3 L1208.2 523.2 L1214.3 525 L1226.4 527.7" fill="none" stroke="#2440f0" stroke-width="2.0" stroke-opacity="1.0" stroke-linecap="round" stroke-linejoin="round"/>
<path d="M1129.4 465.2 L1135.5 468.6 L1140.9 472.8 L1159.7 490.3 L1167.9 497.5 L1177.9 505.3 L1184.1 509.4 L1189.5 512.6 L1194.9 515.5 L1205.7 520.3 L1216.5 523.9 L1226.4 526.5" fill="none" stroke="#5a3cf0" stroke-width="3.0" stroke-opacity="1.0" stroke-linecap="round" stroke-linejoin="round"/>
<path d="M1135.5 465.3 L1141.5 468.6 L1146.9 472.8 L1165.8 490.4 L1173.9 497.5 L1184 505.3 L1190 509.4 L1195.5 512.6 L1200.9 515.5 L1208.2 518.9 L1217.1 522.2 L1226.4 525" fill="none" stroke="#2440f0" stroke-width="2.0" stroke-opacity="1.0" stroke-linecap="round" stroke-linejoin="round"/>
<path d="M1105.1 533 L1110.5 529.9 L1115.9 525.7 L1137.5 505.7 L1147.6 497.2 L1153.6 492.7 L1159.1 489.1 L1165.8 485.1 L1171.8 482 L1177.9 479.3 L1184 477 L1191.5 474.6 L1196.9 473.1 L1207.7 470.7 L1218.5 468.9 L1226.4 467.9" fill="none" stroke="#2440f0" stroke-width="2.0" stroke-opacity="1.0" stroke-linecap="round" stroke-linejoin="round"/>
<path d="M1116.1 533 L1121.5 529.9 L1126.9 525.7 L1148.5 505.7 L1159.3 496.7 L1165.8 491.9 L1175.5 485.9 L1186.3 480.5 L1197.1 476.3 L1202.5 474.6 L1213.3 471.8 L1226.4 469.4" fill="none" stroke="#2440f0" stroke-width="2.0" stroke-opacity="1.0" stroke-linecap="round" stroke-linejoin="round"/>
<path d="M1122.1 533 L1127.5 529.9 L1132.9 525.7 L1153.6 506.4 L1159.9 501 L1170.7 492.7 L1177.9 488 L1184 484.5 L1190 481.5 L1196.1 478.9 L1202.1 476.6 L1213.9 473.1 L1226.4 470.4" fill="none" stroke="#5a3cf0" stroke-width="3.0" stroke-opacity="1.0" stroke-linecap="round" stroke-linejoin="round"/>
<path d="M1128.1 533 L1133.5 529.9 L1138.9 525.7 L1159.7 506.4 L1165.8 501.1 L1171.8 496.2 L1182.1 489.1 L1187.5 485.9 L1192.9 483 L1202.1 478.8 L1208.2 476.6 L1214.3 474.6 L1226.4 471.6" fill="none" stroke="#2440f0" stroke-width="2.0" stroke-opacity="1.0" stroke-linecap="round" stroke-linejoin="round"/>
<path d="M1134.1 533 L1139.5 529.9 L1144.9 525.7 L1165.8 506.3 L1171.8 501 L1177.9 496.2 L1188.1 489.1 L1196.1 484.4 L1204.3 480.5 L1215.1 476.3 L1226.4 473" fill="none" stroke="#5a3cf0" stroke-width="3.0" stroke-opacity="1.0" stroke-linecap="round" stroke-linejoin="round"/>
<path d="M1140.1 533 L1145.5 529.9 L1150.9 525.7 L1172.5 505.7 L1183.3 496.7 L1190 491.8 L1199.5 485.9 L1208.2 481.4 L1215.7 478.2 L1226.4 474.6" fill="none" stroke="#2440f0" stroke-width="2.0" stroke-opacity="1.0" stroke-linecap="round" stroke-linejoin="round"/>
<path d="M" fill="none" stroke="#f23fe0" stroke-width="1.5" stroke-opacity="1.0" stroke-linecap="round" stroke-linejoin="round"/>
<path d="M" fill="none" stroke="#f23fe0" stroke-width="1.5" stroke-opacity="1.0" stroke-linecap="round" stroke-linejoin="round"/>
<path d="M" fill="none" stroke="#f23fe0" stroke-width="1.5" stroke-opacity="1.0" stroke-linecap="round" stroke-linejoin="round"/>
<path d="M" fill="none" stroke="#f23fe0" stroke-width="1.5" stroke-opacity="1.0" stroke-linecap="round" stroke-linejoin="round"/>
<path d="M806.1 465.5 L811.5 468.6 L816.9 472.8 L838.5 492.8 L844.4 498 L854.7 505.8 L862.6 511 L868.7 514.4 L874.8 517.4 L881.7 520.3 L892.5 523.9 L899 525.7 L911.1 528.2 L923.3 530.1 L935.4 531.3 L947.5 532.2 L965.7 533.1 L984.3 533.6" fill="none" stroke="#f23fe0" stroke-width="1.5" stroke-opacity="1.0" stroke-linecap="round" stroke-linejoin="round"/>
<path d="M818.1 465.5 L820.2 466.5 L823.5 468.6 L828.9 472.8 L850.5 492.8 L856.6 498.1 L866.7 505.8 L874.8 511 L880.8 514.4 L886.9 517.4 L893.7 520.3 L904.5 523.9 L911.1 525.7 L923.3 528.3 L935.4 530.1 L947.5 531.4 L959.6 532.3 L977.8 533.1 L996.3 533.6" fill="none" stroke="#f23fe0" stroke-width="1.5" stroke-opacity="1.0" stroke-linecap="round" stroke-linejoin="round"/>
<path d="M808.1 533.7 L810.1 533 L814.1 530.8 L820.2 526.3 L844.4 503.9 L850.5 498.9 L858.7 492.7 L868.7 486.3 L874.8 483.1 L880.8 480.2 L886.9 477.8 L896.5 474.6 L905.1 472.3 L917.2 469.9 L928.9 468.2 L941.4 467 L955.9 466 L989.9 464.9" fill="none" stroke="#f23fe0" stroke-width="1.5" stroke-opacity="1.0" stroke-linecap="round" stroke-linejoin="round"/>
<path d="M820.2 533.7 L822.1 533 L826.3 530.7 L832.3 526.2 L856.6 503.8 L862.6 498.8 L870.7 492.7 L880.8 486.2 L886.9 483 L892.9 480.2 L899 477.7 L908.5 474.6 L919.3 471.8 L929.3 469.9 L940.9 468.2 L953.6 467 L967.9 466 L1002.1 464.9" fill="none" stroke="#f23fe0" stroke-width="1.5" stroke-opacity="1.0" stroke-linecap="round" stroke-linejoin="round"/>
<path d="M1117.3 465.2 L1123.3 468.5 L1128.9 472.8 L1150.5 492.8 L1159.7 500.6 L1166.7 505.8 L1172.1 509.4 L1177.5 512.6 L1188.3 518 L1199.1 522.2 L1209.9 525.4 L1220.3 527.7 L1226.4 528.8" fill="none" stroke="#f23fe0" stroke-width="1.5" stroke-opacity="1.0" stroke-linecap="round" stroke-linejoin="round"/>
<path d="M1129.4 465.2 L1135.5 468.6 L1140.9 472.8 L1159.7 490.3 L1167.9 497.5 L1177.9 505.3 L1184.1 509.4 L1189.5 512.6 L1194.9 515.5 L1205.7 520.3 L1216.5 523.9 L1226.4 526.5" fill="none" stroke="#f23fe0" stroke-width="1.5" stroke-opacity="1.0" stroke-linecap="round" stroke-linejoin="round"/>
<path d="M1122.1 533 L1127.5 529.9 L1132.9 525.7 L1153.6 506.4 L1159.9 501 L1170.7 492.7 L1177.9 488 L1184 484.5 L1190 481.5 L1196.1 478.9 L1202.1 476.6 L1213.9 473.1 L1226.4 470.4" fill="none" stroke="#f23fe0" stroke-width="1.5" stroke-opacity="1.0" stroke-linecap="round" stroke-linejoin="round"/>
<path d="M1134.1 533 L1139.5 529.9 L1144.9 525.7 L1165.8 506.3 L1171.8 501 L1177.9 496.2 L1188.1 489.1 L1196.1 484.4 L1204.3 480.5 L1215.1 476.3 L1226.4 473" fill="none" stroke="#f23fe0" stroke-width="1.5" stroke-opacity="1.0" stroke-linecap="round" stroke-linejoin="round"/>
</g>
<line x1="806" y1="463.8" x2="1222.4" y2="463.8" stroke="url(#railt)" stroke-width="1.8" />
<line x1="806" y1="534.8" x2="1222.4" y2="534.8" stroke="url(#rail)" stroke-width="2.2" />
<line x1="806" y1="536.4" x2="1222.4" y2="536.4" stroke="#9ab52c" stroke-width="1.2" />
</g>
<text class="se" x="1220.2" y="483" font-size="21.4" text-anchor="end" fill="#fff" >150Mbps</text>
<rect x="806" y="544.8" width="416.4" height="73.9" fill="#000" />
<line x1="806" y1="554" x2="1222.4" y2="554" stroke="#2a2a2a" stroke-width="0.6" />
<line x1="806" y1="563.3" x2="1222.4" y2="563.3" stroke="#2a2a2a" stroke-width="0.6" />
<line x1="806" y1="572.5" x2="1222.4" y2="572.5" stroke="#2a2a2a" stroke-width="0.6" />
<line x1="806" y1="581.8" x2="1222.4" y2="581.8" stroke="#2a2a2a" stroke-width="0.6" />
<line x1="806" y1="591" x2="1222.4" y2="591" stroke="#2a2a2a" stroke-width="0.6" />
<line x1="806" y1="600.2" x2="1222.4" y2="600.2" stroke="#2a2a2a" stroke-width="0.6" />
<line x1="806" y1="609.5" x2="1222.4" y2="609.5" stroke="#2a2a2a" stroke-width="0.6" />
<line x1="893" y1="544.8" x2="893" y2="618.7" stroke="#3a3a3a" stroke-width="0.8" />
<line x1="1000" y1="544.8" x2="1000" y2="618.7" stroke="#3a3a3a" stroke-width="0.8" />
<line x1="1108" y1="544.8" x2="1108" y2="618.7" stroke="#3a3a3a" stroke-width="0.8" />
<line x1="806" y1="581.8" x2="1222.4" y2="581.8" stroke="#777" stroke-width="1" stroke-dasharray="1 11"/>
<g clip-path="url(#eye2)">
<g clip-path="url(#eyin2)">
<path d="M770 546.2 L785.2 550.6 L792.8 553.2 L800.6 556.8 L810.1 562.1 L814.8 565 L819.4 568.5 L825.5 573.8 L840.9 588 L847.1 592.9 L851.7 595.9" fill="none" stroke="#2fd23c" stroke-width="4.6" stroke-opacity="1.0" stroke-linecap="round" stroke-linejoin="round"/>
<path d="M792.8 546.2 L808.6 550.3 L814.9 552.1 L821.1 554.4 L827.3 557.4 L835 561.8 L842.8 566.8 L847.6 570.4 L860.2 581 L864.9 584.5" fill="none" stroke="#2fd23c" stroke-width="4.6" stroke-opacity="1.0" stroke-linecap="round" stroke-linejoin="round"/>
<path d="M836.1 546.2 L851.5 551.3 L856.1 553.1 L859.2 554.6 L865.2 558.3 L880.2 569.6 L898.9 581.4 L906.7 586 L914.5 590.1 L925.3 595.3 L934.6 599.5 L943.8 603.2 L951.5 606 L962.3 609.6 L969.9 611.9 L976.1 613.3 L982.3 614.5 L1002.5 617.5" fill="none" stroke="#2fd23c" stroke-width="4.2" stroke-opacity="0.75" stroke-linecap="round" stroke-linejoin="round"/>
<path d="M848.1 546.2 L866.3 553 L870.9 555 L875.4 557.5 L881.4 561.5 L890.5 568.3 L901.8 578.7 L906.6 582.7 L912.7 586.7 L920.2 590.9" fill="none" stroke="#2fd23c" stroke-width="4.6" stroke-opacity="1.0" stroke-linecap="round" stroke-linejoin="round"/>
<path d="M864.9 546.2 L881.9 550.9 L886.5 552.6 L889.8 554.3 L894.8 557.8 L902.9 564.1 L915.2 575.6 L919.8 579.6 L926 584.3 L932.1 588.5" fill="none" stroke="#2fd23c" stroke-width="4.6" stroke-opacity="1.0" stroke-linecap="round" stroke-linejoin="round"/>
<path d="M1007.3 546.2 L1021.2 548.1 L1027.4 549.3 L1031.9 550.6 L1036.5 553 L1041 556 L1056.2 567.7 L1086.3 592.7 L1090.9 596.3 L1095.6 599.5" fill="none" stroke="#2fd23c" stroke-width="4.6" stroke-opacity="1.0" stroke-linecap="round" stroke-linejoin="round"/>
<path d="M1043.4 546.2 L1056.2 547.8 L1061 548.7 L1064.2 549.5 L1068.8 551.7 L1084.7 562.4 L1092.8 568.7 L1097.5 573.1 L1106.9 583.5 L1108.5 585 L1111.6 587.3 L1117.6 591 L1128.1 596.5 L1139.3 602.8 L1144.1 605.3 L1147.3 606.7" fill="none" stroke="#2fd23c" stroke-width="4.6" stroke-opacity="1.0" stroke-linecap="round" stroke-linejoin="round"/>
<path d="M1077.6 546.2 L1091.7 548.7 L1098 550.2 L1102.7 551.9 L1109 555.1 L1116.9 560 L1121.8 563.5 L1134.8 575.2 L1147 586.5 L1154.7 592.8 L1159.3 595.9 L1163.9 598.4 L1176.2 603.7" fill="none" stroke="#2fd23c" stroke-width="4.6" stroke-opacity="1.0" stroke-linecap="round" stroke-linejoin="round"/>
<path d="M1113.7 546.2 L1124.2 548.3 L1128.7 549.3 L1133.3 550.9 L1136.4 552.7 L1141.1 556.4 L1149 563.7 L1167.8 580.6 L1174.1 585.6 L1181.6 590.9 L1189.1 595.6 L1198.6 600.8 L1205 603.7" fill="none" stroke="#2fd23c" stroke-width="4.6" stroke-opacity="1.0" stroke-linecap="round" stroke-linejoin="round"/>
<path d="M1147.3 546.2 L1158 550.1 L1162.6 551.9 L1167.2 554.2 L1171.9 557 L1178.1 561.3 L1192.1 571.8 L1209.1 585.7 L1219 593.1 L1225.5 597 L1236.2 602.5" fill="none" stroke="#2fd23c" stroke-width="4.2" stroke-opacity="0.75" stroke-linecap="round" stroke-linejoin="round"/>
<path d="M1168.9 546.2 L1188.2 555 L1201.7 560.6 L1206.2 562.8 L1211.1 566 L1222.4 574.9 L1236.2 584.5" fill="none" stroke="#2fd23c" stroke-width="4.6" stroke-opacity="1.0" stroke-linecap="round" stroke-linejoin="round"/>
<path d="M1188.2 546.2 L1201.7 550.8 L1206.2 552.6 L1209.4 554.2 L1215.9 558.1 L1236.2 571.2" fill="none" stroke="#2fd23c" stroke-width="4.6" stroke-opacity="1.0" stroke-linecap="round" stroke-linejoin="round"/>
<path d="M770 617.5 L786.7 598.7 L791.3 594.2 L794.4 591.5 L806 583.3 L816.9 574.1 L821.6 570.6 L827.8 566.9 L832.3 564.3 L836.9 562.2 L840 561.1 L849.3 558.2 L861.6 555.3 L875.1 552.7 L887.1 551.1 L903.7 549.5 L920.2 548.4 L938.3 547.6 L976.1 546.2" fill="none" stroke="#2fd23c" stroke-width="4.2" stroke-opacity="0.75" stroke-linecap="round" stroke-linejoin="round"/>
<path d="M800 621.1 L812.6 618.8 L818.9 617.4 L823.4 615.8 L829.4 612.7 L838.5 606.7 L843.4 603 L874.1 576.4 L878.7 572.7 L883.5 569.6 L888.9 567 L896.7 563 L899.8 561.6" fill="none" stroke="#2fd23c" stroke-width="4.6" stroke-opacity="1.0" stroke-linecap="round" stroke-linejoin="round"/>
<path d="M872.1 621.1 L883.3 613.3 L891.3 607.1 L908.4 592.7 L921.4 580.9" fill="none" stroke="#2fd23c" stroke-width="4.6" stroke-opacity="1.0" stroke-linecap="round" stroke-linejoin="round"/>
<path d="M770 590.5 L791 579.3 L798.5 575 L806 570 L813.2 564 L819.4 560.2 L824 558 L828.7 556.3 L833.4 554.8 L839.7 553.2" fill="none" stroke="#2fd23c" stroke-width="4.6" stroke-opacity="1.0" stroke-linecap="round" stroke-linejoin="round"/>
<path d="M770 576.1 L800 562.9 L816.5 556.2 L822.5 554.2 L831.8 552.3 L844.3 550.4 L859.7 548.6 L884.1 546.2" fill="none" stroke="#2fd23c" stroke-width="4.2" stroke-opacity="0.75" stroke-linecap="round" stroke-linejoin="round"/>
<path d="M1057.8 622.3 L1073.7 615.5 L1078.4 613 L1081.6 611.1 L1084.7 608.9 L1089.4 605 L1097.2 598.1 L1108.4 587.7 L1117.9 579.5 L1124.2 574.4 L1128.9 571 L1133.6 568.2 L1139.8 564.7 L1145.9 561.7 L1152.1 559.2 L1161.1 556.5 L1170.1 554.4 L1182.2 552.1 L1192.7 550.5 L1201.7 549.5 L1230.2 547.2" fill="none" stroke="#2fd23c" stroke-width="4.2" stroke-opacity="0.75" stroke-linecap="round" stroke-linejoin="round"/>
<path d="M1119.7 621.1 L1139.3 611.4 L1144.1 608.8 L1147.3 606.7 L1150.3 604.4 L1159.3 595.9 L1170.9 585.8 L1184.6 574.8 L1189.1 571.6 L1192.1 569.7 L1196.8 567.2 L1201.5 564.9 L1207.8 562.2 L1214.3 559.6 L1224 556.4 L1236.2 553.2" fill="none" stroke="#2fd23c" stroke-width="4.6" stroke-opacity="1.0" stroke-linecap="round" stroke-linejoin="round"/>
<path d="M1181 621.1 L1188.2 616.9 L1197 609.7 L1219.3 592.8 L1236.2 580.9" fill="none" stroke="#2fd23c" stroke-width="4.6" stroke-opacity="1.0" stroke-linecap="round" stroke-linejoin="round"/>
<path d="M983.3 618.7 L988.1 612.7 L990.1 610.6 L994.1 606.9 L1006.1 596.5 L1018.1 583.9 L1022.1 580.1 L1028.1 575.5 L1034.2 571.5 L1040.2 568 L1048.2 564 L1058.2 560 L1066.2 557.3 L1074.4 555.1 L1083.3 553.2 L1094 551.4 L1108 549.6 L1122.2 548 L1142.5 546.2 L1164.1 546.2 L1132.1 549.9 L1118.1 551.9 L1108 553.6 L1098 555.9 L1085.5 559.3 L1076.7 562.3 L1070.2 565 L1066 567.2 L1059.8 571 L1055.7 574 L1051.4 577.6 L1045 583.8 L1030.1 598.9 L1021.2 606.7 L1016.8 611.1 L1014.5 613.6 L1010.9 618.7 Z" fill="#2fd23c"/>
<path d="M1024.1 618.7 L1028.9 616 L1035.4 611.8 L1046 604.1 L1052.4 599 L1065.3 587.4 L1073.6 580.9 L1081.8 574.8 L1092 568.3 L1104 561.9 L1110 559.2 L1118.2 556.2 L1124.4 554.2 L1130.5 552.6 L1138.6 551.1 L1148.8 549.5 L1176.2 546.2 L1200.2 547 L1178.2 550.4 L1169.7 552.2 L1161 554.3 L1154.5 556.2 L1148.5 558.4 L1142.5 561.1 L1134.4 565.1 L1128.1 568.8 L1119.7 574.3 L1108.5 582.7 L1100 589.6 L1075.9 610.2 L1069.8 616 L1067.4 618.7 Z" fill="#2fd23c"/>
<path d="M770 546.2 L785.2 550.6 L792.8 553.2 L800.6 556.8 L810.1 562.1 L814.8 565 L819.4 568.5 L825.5 573.8 L840.9 588 L847.1 592.9 L851.7 595.9" fill="none" stroke="#2440f0" stroke-width="2.7" stroke-opacity="1.0" stroke-linecap="round" stroke-linejoin="round"/>
<path d="M792.8 546.2 L808.6 550.3 L814.9 552.1 L821.1 554.4 L827.3 557.4 L835 561.8 L842.8 566.8 L847.6 570.4 L860.2 581 L864.9 584.5" fill="none" stroke="#2440f0" stroke-width="2.7" stroke-opacity="1.0" stroke-linecap="round" stroke-linejoin="round"/>
<path d="M836.1 546.2 L851.5 551.3 L856.1 553.1 L859.2 554.6 L865.2 558.3 L880.2 569.6 L898.9 581.4 L906.7 586 L914.5 590.1 L925.3 595.3 L934.6 599.5 L943.8 603.2 L951.5 606 L962.3 609.6 L969.9 611.9 L976.1 613.3 L982.3 614.5 L1002.5 617.5" fill="none" stroke="#6a48ee" stroke-width="3.0" stroke-opacity="1.0" stroke-linecap="round" stroke-linejoin="round"/>
<path d="M848.1 546.2 L866.3 553 L870.9 555 L875.4 557.5 L881.4 561.5 L890.5 568.3 L901.8 578.7 L906.6 582.7 L912.7 586.7 L920.2 590.9" fill="none" stroke="#2440f0" stroke-width="2.7" stroke-opacity="1.0" stroke-linecap="round" stroke-linejoin="round"/>
<path d="M864.9 546.2 L881.9 550.9 L886.5 552.6 L889.8 554.3 L894.8 557.8 L902.9 564.1 L915.2 575.6 L919.8 579.6 L926 584.3 L932.1 588.5" fill="none" stroke="#2440f0" stroke-width="2.7" stroke-opacity="1.0" stroke-linecap="round" stroke-linejoin="round"/>
<path d="M1007.3 546.2 L1021.2 548.1 L1027.4 549.3 L1031.9 550.6 L1036.5 553 L1041 556 L1056.2 567.7 L1086.3 592.7 L1090.9 596.3 L1095.6 599.5" fill="none" stroke="#2440f0" stroke-width="2.7" stroke-opacity="1.0" stroke-linecap="round" stroke-linejoin="round"/>
<path d="M1043.4 546.2 L1056.2 547.8 L1061 548.7 L1064.2 549.5 L1068.8 551.7 L1084.7 562.4 L1092.8 568.7 L1097.5 573.1 L1106.9 583.5 L1108.5 585 L1111.6 587.3 L1117.6 591 L1128.1 596.5 L1139.3 602.8 L1144.1 605.3 L1147.3 606.7" fill="none" stroke="#2440f0" stroke-width="2.7" stroke-opacity="1.0" stroke-linecap="round" stroke-linejoin="round"/>
<path d="M1077.6 546.2 L1091.7 548.7 L1098 550.2 L1102.7 551.9 L1109 555.1 L1116.9 560 L1121.8 563.5 L1134.8 575.2 L1147 586.5 L1154.7 592.8 L1159.3 595.9 L1163.9 598.4 L1176.2 603.7" fill="none" stroke="#2440f0" stroke-width="2.7" stroke-opacity="1.0" stroke-linecap="round" stroke-linejoin="round"/>
<path d="M1113.7 546.2 L1124.2 548.3 L1128.7 549.3 L1133.3 550.9 L1136.4 552.7 L1141.1 556.4 L1149 563.7 L1167.8 580.6 L1174.1 585.6 L1181.6 590.9 L1189.1 595.6 L1198.6 600.8 L1205 603.7" fill="none" stroke="#2440f0" stroke-width="2.7" stroke-opacity="1.0" stroke-linecap="round" stroke-linejoin="round"/>
<path d="M1147.3 546.2 L1158 550.1 L1162.6 551.9 L1167.2 554.2 L1171.9 557 L1178.1 561.3 L1192.1 571.8 L1209.1 585.7 L1219 593.1 L1225.5 597 L1236.2 602.5" fill="none" stroke="#6a48ee" stroke-width="3.0" stroke-opacity="1.0" stroke-linecap="round" stroke-linejoin="round"/>
<path d="M1168.9 546.2 L1188.2 555 L1201.7 560.6 L1206.2 562.8 L1211.1 566 L1222.4 574.9 L1236.2 584.5" fill="none" stroke="#2440f0" stroke-width="2.7" stroke-opacity="1.0" stroke-linecap="round" stroke-linejoin="round"/>
<path d="M1188.2 546.2 L1201.7 550.8 L1206.2 552.6 L1209.4 554.2 L1215.9 558.1 L1236.2 571.2" fill="none" stroke="#2440f0" stroke-width="2.7" stroke-opacity="1.0" stroke-linecap="round" stroke-linejoin="round"/>
<path d="M770 617.5 L786.7 598.7 L791.3 594.2 L794.4 591.5 L806 583.3 L816.9 574.1 L821.6 570.6 L827.8 566.9 L832.3 564.3 L836.9 562.2 L840 561.1 L849.3 558.2 L861.6 555.3 L875.1 552.7 L887.1 551.1 L903.7 549.5 L920.2 548.4 L938.3 547.6 L976.1 546.2" fill="none" stroke="#6a48ee" stroke-width="3.0" stroke-opacity="1.0" stroke-linecap="round" stroke-linejoin="round"/>
<path d="M800 621.1 L812.6 618.8 L818.9 617.4 L823.4 615.8 L829.4 612.7 L838.5 606.7 L843.4 603 L874.1 576.4 L878.7 572.7 L883.5 569.6 L888.9 567 L896.7 563 L899.8 561.6" fill="none" stroke="#2440f0" stroke-width="2.7" stroke-opacity="1.0" stroke-linecap="round" stroke-linejoin="round"/>
<path d="M872.1 621.1 L883.3 613.3 L891.3 607.1 L908.4 592.7 L921.4 580.9" fill="none" stroke="#2440f0" stroke-width="2.7" stroke-opacity="1.0" stroke-linecap="round" stroke-linejoin="round"/>
<path d="M770 590.5 L791 579.3 L798.5 575 L806 570 L813.2 564 L819.4 560.2 L824 558 L828.7 556.3 L833.4 554.8 L839.7 553.2" fill="none" stroke="#2440f0" stroke-width="2.7" stroke-opacity="1.0" stroke-linecap="round" stroke-linejoin="round"/>
<path d="M770 576.1 L800 562.9 L816.5 556.2 L822.5 554.2 L831.8 552.3 L844.3 550.4 L859.7 548.6 L884.1 546.2" fill="none" stroke="#6a48ee" stroke-width="3.0" stroke-opacity="1.0" stroke-linecap="round" stroke-linejoin="round"/>
<path d="M1057.8 622.3 L1073.7 615.5 L1078.4 613 L1081.6 611.1 L1084.7 608.9 L1089.4 605 L1097.2 598.1 L1108.4 587.7 L1117.9 579.5 L1124.2 574.4 L1128.9 571 L1133.6 568.2 L1139.8 564.7 L1145.9 561.7 L1152.1 559.2 L1161.1 556.5 L1170.1 554.4 L1182.2 552.1 L1192.7 550.5 L1201.7 549.5 L1230.2 547.2" fill="none" stroke="#6a48ee" stroke-width="3.0" stroke-opacity="1.0" stroke-linecap="round" stroke-linejoin="round"/>
<path d="M1119.7 621.1 L1139.3 611.4 L1144.1 608.8 L1147.3 606.7 L1150.3 604.4 L1159.3 595.9 L1170.9 585.8 L1184.6 574.8 L1189.1 571.6 L1192.1 569.7 L1196.8 567.2 L1201.5 564.9 L1207.8 562.2 L1214.3 559.6 L1224 556.4 L1236.2 553.2" fill="none" stroke="#2440f0" stroke-width="2.7" stroke-opacity="1.0" stroke-linecap="round" stroke-linejoin="round"/>
<path d="M1181 621.1 L1188.2 616.9 L1197 609.7 L1219.3 592.8 L1236.2 580.9" fill="none" stroke="#2440f0" stroke-width="2.7" stroke-opacity="1.0" stroke-linecap="round" stroke-linejoin="round"/>
<path d="M986.9 618.7 L990.5 613.6 L994.7 609 L1007.3 597.7 L1019.3 585.6 L1023.3 581.9 L1029.5 577.1 L1035.7 572.7 L1041.9 568.7 L1048.2 565.5 L1056.2 562.1 L1066.2 558.6 L1076.7 555.7 L1085.5 553.8 L1094 552.4 L1106 550.8 L1142.5 547" fill="none" stroke="#2440f0" stroke-width="1.8" stroke-opacity="1.0" stroke-linecap="round" stroke-linejoin="round"/>
<path d="M1002.5 618.7 L1009.4 611.9 L1028.7 594.5 L1041.4 582.1 L1047.8 576.3 L1054.2 571.5 L1058.2 569 L1064.2 565.8 L1070.2 563 L1078.9 559.8 L1087.8 557.2 L1096.4 555.1 L1107.2 552.9 L1117.9 551.1 L1147.3 547.2" fill="none" stroke="#2440f0" stroke-width="1.8" stroke-opacity="1.0" stroke-linecap="round" stroke-linejoin="round"/>
<path d="M994.1 618.7 L1000.9 611.6 L1019 594.4 L1031.6 580.8 L1038 574.7 L1042.2 571.5 L1046.2 568.9 L1056.2 563.4 L1062.2 560.8 L1066.2 559.5 L1072.7 557.8 L1079.2 556.5 L1110 551.4 L1144.9 547" fill="none" stroke="#2440f0" stroke-width="1.8" stroke-opacity="1.0" stroke-linecap="round" stroke-linejoin="round"/>
<path d="M1031.3 618.7 L1038.2 614.3 L1046.2 608.3 L1056.2 600.2 L1070.2 587.9 L1080.3 580.2 L1092.4 571.9 L1100.8 566.8 L1107.2 563.2 L1111.5 561.1 L1119.8 557.7 L1125.9 555.5 L1132 553.7 L1142.1 551.7 L1164.1 548.4" fill="none" stroke="#2440f0" stroke-width="1.8" stroke-opacity="1.0" stroke-linecap="round" stroke-linejoin="round"/>
<path d="M1045.8 618.7 L1050.6 615.7 L1057 611 L1085.9 587.6 L1104 573.5 L1110 569.4 L1120.3 563.7 L1126.4 560.9 L1132.6 558.5 L1141.3 555.7 L1147.8 553.9 L1160.1 551.5 L1182.2 548.4" fill="none" stroke="#2440f0" stroke-width="1.8" stroke-opacity="1.0" stroke-linecap="round" stroke-linejoin="round"/>
<path d="M1060.2 618.7 L1085.1 599.4 L1101.9 585 L1110.7 578.1 L1119.7 571.9 L1131.7 564.6 L1137.7 561.6 L1143.8 559.1 L1150 556.8 L1156.1 554.9 L1166.1 552.7 L1188.2 549" fill="none" stroke="#2440f0" stroke-width="1.8" stroke-opacity="1.0" stroke-linecap="round" stroke-linejoin="round"/>
<path d="M770 546.2 L785.2 550.6 L792.8 553.2 L800.6 556.8 L810.1 562.1 L814.8 565 L819.4 568.5 L825.5 573.8 L840.9 588 L847.1 592.9 L851.7 595.9" fill="none" stroke="#5c4cf2" stroke-width="1.1" stroke-opacity="1.0" stroke-linecap="round" stroke-linejoin="round"/>
<path d="M851.7 595.9 L859.3 600 L865.3 603.1 L871.4 605.9 L877.4 608.3 L882 609.7 L886.5 610.9 L895.7 612.8 L903.4 614.2 L914.1 615.5 L923.2 616.1 L944.3 616.7 L988.1 617.5" fill="none" stroke="#9a78c4" stroke-width="2.0" stroke-opacity="1.0" stroke-linecap="round" stroke-linejoin="round"/>
<path d="M792.8 546.2 L808.6 550.3 L814.9 552.1 L821.1 554.4 L827.3 557.4 L835 561.8 L842.8 566.8 L847.6 570.4 L860.2 581 L864.9 584.5" fill="none" stroke="#5c4cf2" stroke-width="1.1" stroke-opacity="1.0" stroke-linecap="round" stroke-linejoin="round"/>
<path d="M864.9 584.5 L880.5 594.9 L886.8 598.6 L891.5 601 L896.2 603.1 L908.2 607.6 L915.7 610.1 L921.7 611.7 L926.2 612.7 L930.7 613.4 L945.8 614.7 L960.9 615.7 L1000.1 617.5" fill="none" stroke="#9a78c4" stroke-width="2.0" stroke-opacity="1.0" stroke-linecap="round" stroke-linejoin="round"/>
<path d="M848.1 546.2 L866.3 553 L870.9 555 L875.4 557.5 L881.4 561.5 L890.5 568.3 L901.8 578.7 L906.6 582.7 L912.7 586.7 L920.2 590.9" fill="none" stroke="#5c4cf2" stroke-width="1.1" stroke-opacity="1.0" stroke-linecap="round" stroke-linejoin="round"/>
<path d="M920.2 590.9 L927.7 594.6 L935.4 597.7 L975.9 611.1 L983.5 613.2 L989.7 614.6 L1007.3 617.5" fill="none" stroke="#9a78c4" stroke-width="2.0" stroke-opacity="1.0" stroke-linecap="round" stroke-linejoin="round"/>
<path d="M864.9 546.2 L881.9 550.9 L886.5 552.6 L889.8 554.3 L894.8 557.8 L902.9 564.1 L915.2 575.6 L919.8 579.6 L926 584.3 L932.1 588.5" fill="none" stroke="#5c4cf2" stroke-width="1.1" stroke-opacity="1.0" stroke-linecap="round" stroke-linejoin="round"/>
<path d="M932.1 588.5 L938.2 592.3 L944.9 595.9 L960.8 603.5 L970 607.3 L982.1 611.4 L991.1 613.8 L998.6 615.4 L1012.1 617.5" fill="none" stroke="#9a78c4" stroke-width="2.0" stroke-opacity="1.0" stroke-linecap="round" stroke-linejoin="round"/>
<path d="M776 576.1 L795.5 584.5 L806 589.3 L812.2 592.6 L829.2 602.5 L833.8 604.8 L838.5 606.7 L849 610.1 L855 611.7 L861 613 L871.6 614.8 L891.3 617.5" fill="none" stroke="#9a78c4" stroke-width="2.0" stroke-opacity="1.0" stroke-linecap="round" stroke-linejoin="round"/>
<path d="M776 595.3 L817 609.3 L823.3 611.3 L834.2 613.9 L852.9 617.5" fill="none" stroke="#9a78c4" stroke-width="2.0" stroke-opacity="1.0" stroke-linecap="round" stroke-linejoin="round"/>
<path d="M1007.3 546.2 L1021.2 548.1 L1027.4 549.3 L1031.9 550.6 L1036.5 553 L1041 556 L1056.2 567.7 L1086.3 592.7 L1090.9 596.3 L1095.6 599.5" fill="none" stroke="#5c4cf2" stroke-width="1.1" stroke-opacity="1.0" stroke-linecap="round" stroke-linejoin="round"/>
<path d="M1095.6 599.5 L1103.5 604 L1109.8 607.1 L1116.1 609.7 L1126.9 613.5 L1133.1 615.1 L1137.7 616 L1154.5 617.5" fill="none" stroke="#9a78c4" stroke-width="2.0" stroke-opacity="1.0" stroke-linecap="round" stroke-linejoin="round"/>
<path d="M1043.4 546.2 L1056.2 547.8 L1061 548.7 L1064.2 549.5 L1068.8 551.7 L1084.7 562.4 L1092.8 568.7 L1097.5 573.1 L1106.9 583.5 L1108.5 585 L1111.6 587.3 L1117.6 591 L1128.1 596.5 L1139.3 602.8 L1144.1 605.3 L1147.3 606.7" fill="none" stroke="#5c4cf2" stroke-width="1.1" stroke-opacity="1.0" stroke-linecap="round" stroke-linejoin="round"/>
<path d="M1147.3 606.7 L1158 610.6 L1164.1 612.5 L1168.6 613.6 L1177.7 615.2 L1194.2 617.5" fill="none" stroke="#9a78c4" stroke-width="2.0" stroke-opacity="1.0" stroke-linecap="round" stroke-linejoin="round"/>
<path d="M1077.6 546.2 L1091.7 548.7 L1098 550.2 L1102.7 551.9 L1109 555.1 L1116.9 560 L1121.8 563.5 L1134.8 575.2 L1147 586.5 L1154.7 592.8 L1159.3 595.9 L1163.9 598.4 L1176.2 603.7" fill="none" stroke="#5c4cf2" stroke-width="1.1" stroke-opacity="1.0" stroke-linecap="round" stroke-linejoin="round"/>
<path d="M1176.2 603.7 L1187.4 608.3 L1192.2 610 L1195.4 610.9 L1204.4 612.8 L1222.4 615.7" fill="none" stroke="#9a78c4" stroke-width="2.0" stroke-opacity="1.0" stroke-linecap="round" stroke-linejoin="round"/>
<path d="M1113.7 546.2 L1124.2 548.3 L1128.7 549.3 L1133.3 550.9 L1136.4 552.7 L1141.1 556.4 L1149 563.7 L1167.8 580.6 L1174.1 585.6 L1181.6 590.9 L1189.1 595.6 L1198.6 600.8 L1205 603.7" fill="none" stroke="#5c4cf2" stroke-width="1.1" stroke-opacity="1.0" stroke-linecap="round" stroke-linejoin="round"/>
<path d="M1205 603.7 L1211.3 605.9 L1219.3 608.3 L1225.5 609.8 L1236.2 612.1" fill="none" stroke="#9a78c4" stroke-width="2.0" stroke-opacity="1.0" stroke-linecap="round" stroke-linejoin="round"/>
<path d="M1168.9 546.2 L1188.2 555 L1201.7 560.6 L1206.2 562.8 L1211.1 566 L1222.4 574.9 L1236.2 584.5" fill="none" stroke="#5c4cf2" stroke-width="1.1" stroke-opacity="1.0" stroke-linecap="round" stroke-linejoin="round"/>
<path d="M1188.2 546.2 L1201.7 550.8 L1206.2 552.6 L1209.4 554.2 L1215.9 558.1 L1236.2 571.2" fill="none" stroke="#5c4cf2" stroke-width="1.1" stroke-opacity="1.0" stroke-linecap="round" stroke-linejoin="round"/>
<path d="M800 621.1 L812.6 618.8 L818.9 617.4 L823.4 615.8 L829.4 612.7 L838.5 606.7 L843.4 603 L874.1 576.4 L878.7 572.7 L883.5 569.6 L888.9 567 L896.7 563 L899.8 561.6" fill="none" stroke="#5c4cf2" stroke-width="1.1" stroke-opacity="1.0" stroke-linecap="round" stroke-linejoin="round"/>
<path d="M899.8 561.6 L909.2 558.4 L918.6 556 L931.2 553.6 L943.7 551.8 L959.1 550.1 L976 548.8 L992.6 547.8 L1024.1 546.2" fill="none" stroke="#9a78c4" stroke-width="2.0" stroke-opacity="1.0" stroke-linecap="round" stroke-linejoin="round"/>
<path d="M872.1 621.1 L883.3 613.3 L891.3 607.1 L908.4 592.7 L921.4 580.9" fill="none" stroke="#5c4cf2" stroke-width="1.1" stroke-opacity="1.0" stroke-linecap="round" stroke-linejoin="round"/>
<path d="M921.4 580.9 L926 577.6 L941.9 567.3 L946.7 564.5 L950 562.8 L956.2 560.2 L965.4 556.9 L970 555.6 L977.6 554 L992.6 551.5 L1009.1 549.6 L1036.2 547.2" fill="none" stroke="#9a78c4" stroke-width="2.0" stroke-opacity="1.0" stroke-linecap="round" stroke-linejoin="round"/>
<path d="M770 590.5 L791 579.3 L798.5 575 L806 570 L813.2 564 L819.4 560.2 L824 558 L828.7 556.3 L833.4 554.8 L839.7 553.2" fill="none" stroke="#5c4cf2" stroke-width="1.1" stroke-opacity="1.0" stroke-linecap="round" stroke-linejoin="round"/>
<path d="M839.7 553.2 L850.3 551.3 L862.5 549.6 L873.2 548.4 L896.2 546.2" fill="none" stroke="#9a78c4" stroke-width="2.0" stroke-opacity="1.0" stroke-linecap="round" stroke-linejoin="round"/>
<path d="M770 558 L797 553.4 L812 551.2 L836.1 548.4 L860.1 546.2" fill="none" stroke="#9a78c4" stroke-width="2.0" stroke-opacity="1.0" stroke-linecap="round" stroke-linejoin="round"/>
<path d="M1119.7 621.1 L1139.3 611.4 L1144.1 608.8 L1147.3 606.7 L1150.3 604.4 L1159.3 595.9 L1170.9 585.8 L1184.6 574.8 L1189.1 571.6 L1192.1 569.7 L1196.8 567.2 L1201.5 564.9 L1207.8 562.2 L1214.3 559.6 L1224 556.4 L1236.2 553.2" fill="none" stroke="#5c4cf2" stroke-width="1.1" stroke-opacity="1.0" stroke-linecap="round" stroke-linejoin="round"/>
<path d="M1181 621.1 L1188.2 616.9 L1197 609.7 L1219.3 592.8 L1236.2 580.9" fill="none" stroke="#5c4cf2" stroke-width="1.1" stroke-opacity="1.0" stroke-linecap="round" stroke-linejoin="round"/>
<path d="M1092 592.9 L1120.9 571.5" fill="none" stroke="#000" stroke-width="2.0" stroke-opacity="1.0" stroke-linecap="round" stroke-linejoin="round"/>
<path d="M1107.6 580.3 L1115.7 573.7 L1119.7 571 L1123.7 569 L1131.7 565.5" fill="none" stroke="#000" stroke-width="1.5" stroke-opacity="1.0" stroke-linecap="round" stroke-linejoin="round"/>
<path d="M836.1 546.2 L851.5 551.3 L856.1 553.1 L859.2 554.6 L865.2 558.3 L880.2 569.6 L898.9 581.4 L906.7 586 L914.5 590.1 L925.3 595.3 L934.6 599.5 L943.8 603.2 L951.5 606 L962.3 609.6 L969.9 611.9 L976.1 613.3 L982.3 614.5 L1002.5 617.5" fill="none" stroke="#f23fe0" stroke-width="1.5" stroke-opacity="1.0" stroke-linecap="round" stroke-linejoin="round"/>
<path d="M1147.3 546.2 L1158 550.1 L1162.6 551.9 L1167.2 554.2 L1171.9 557 L1178.1 561.3 L1192.1 571.8 L1209.1 585.7 L1219 593.1 L1225.5 597 L1236.2 602.5" fill="none" stroke="#f23fe0" stroke-width="1.5" stroke-opacity="1.0" stroke-linecap="round" stroke-linejoin="round"/>
<path d="M770 617.5 L786.7 598.7 L791.3 594.2 L794.4 591.5 L806 583.3 L816.9 574.1 L821.6 570.6 L827.8 566.9 L832.3 564.3 L836.9 562.2 L840 561.1 L849.3 558.2 L861.6 555.3 L875.1 552.7 L887.1 551.1 L903.7 549.5 L920.2 548.4 L938.3 547.6 L976.1 546.2" fill="none" stroke="#f23fe0" stroke-width="1.5" stroke-opacity="1.0" stroke-linecap="round" stroke-linejoin="round"/>
<path d="M770 576.1 L800 562.9 L816.5 556.2 L822.5 554.2 L831.8 552.3 L844.3 550.4 L859.7 548.6 L884.1 546.2" fill="none" stroke="#f23fe0" stroke-width="1.5" stroke-opacity="1.0" stroke-linecap="round" stroke-linejoin="round"/>
<path d="M1057.8 622.3 L1073.7 615.5 L1078.4 613 L1081.6 611.1 L1084.7 608.9 L1089.4 605 L1097.2 598.1 L1108.4 587.7 L1117.9 579.5 L1124.2 574.4 L1128.9 571 L1133.6 568.2 L1139.8 564.7 L1145.9 561.7 L1152.1 559.2 L1161.1 556.5 L1170.1 554.4 L1182.2 552.1 L1192.7 550.5 L1201.7 549.5 L1230.2 547.2" fill="none" stroke="#f23fe0" stroke-width="1.5" stroke-opacity="1.0" stroke-linecap="round" stroke-linejoin="round"/>
</g>
<line x1="806" y1="547.2" x2="1222.4" y2="547.2" stroke="url(#rail)" stroke-width="2.2" />
<line x1="806" y1="549" x2="990" y2="548.2" stroke="#e8407c" stroke-width="1.4" stroke-opacity="0.85"/>
<line x1="1120" y1="548.2" x2="1222.4" y2="549.4" stroke="#e8407c" stroke-width="1.6" stroke-opacity="0.85"/>
<line x1="806" y1="617.4" x2="1222.4" y2="617.4" stroke="url(#rail)" stroke-width="2.2" />
</g>
<text class="se" x="1220.2" y="565.6" font-size="21.4" text-anchor="end" fill="#fff" >200Mbps</text>
<text class="sa" x="739.9" y="393.9" font-size="37" text-anchor="start" fill="#000" >d</text>
</g>
<g id="panel_e">
<rect x="900.4" y="710" width="40" height="221.8" fill="#f0dcfa" />
<rect x="1069.2" y="669.4" width="41.3" height="262.4" fill="#c9fbfb" />
<rect x="848.3" y="649" width="375.4" height="301" fill="none" stroke="#111" stroke-width="2.2"/>
<text class="se" x="841.1" y="956.4" font-size="19.3" text-anchor="end" fill="#111" >-50</text>
<line x1="848.3" y1="928.5" x2="851.8" y2="928.5" stroke="#111" stroke-width="1.8" />
<line x1="848.3" y1="907" x2="854.3" y2="907" stroke="#111" stroke-width="2" />
<text class="se" x="841.1" y="913.4" font-size="19.3" text-anchor="end" fill="#111" >0</text>
<line x1="848.3" y1="885.5" x2="851.8" y2="885.5" stroke="#111" stroke-width="1.8" />
<line x1="848.3" y1="864" x2="854.3" y2="864" stroke="#111" stroke-width="2" />
<text class="se" x="841.1" y="870.4" font-size="19.3" text-anchor="end" fill="#111" >50</text>
<line x1="848.3" y1="842.5" x2="851.8" y2="842.5" stroke="#111" stroke-width="1.8" />
<line x1="848.3" y1="821" x2="854.3" y2="821" stroke="#111" stroke-width="2" />
<text class="se" x="841.1" y="827.4" font-size="19.3" text-anchor="end" fill="#111" >100</text>
<line x1="848.3" y1="799.5" x2="851.8" y2="799.5" stroke="#111" stroke-width="1.8" />
<line x1="848.3" y1="778" x2="854.3" y2="778" stroke="#111" stroke-width="2" />
<text class="se" x="841.1" y="784.4" font-size="19.3" text-anchor="end" fill="#111" >150</text>
<line x1="848.3" y1="756.5" x2="851.8" y2="756.5" stroke="#111" stroke-width="1.8" />
<line x1="848.3" y1="735" x2="854.3" y2="735" stroke="#111" stroke-width="2" />
<text class="se" x="841.1" y="741.4" font-size="19.3" text-anchor="end" fill="#111" >200</text>
<line x1="848.3" y1="713.5" x2="851.8" y2="713.5" stroke="#111" stroke-width="1.8" />
<line x1="848.3" y1="692" x2="854.3" y2="692" stroke="#111" stroke-width="2" />
<text class="se" x="841.1" y="698.4" font-size="19.3" text-anchor="end" fill="#111" >250</text>
<line x1="848.3" y1="670.5" x2="851.8" y2="670.5" stroke="#111" stroke-width="1.8" />
<text class="se" x="841.1" y="655.4" font-size="19.3" text-anchor="end" fill="#111" >300</text>
<text class="se" x="848.6" y="971.6" font-size="19.3" text-anchor="middle" fill="#111" >200</text>
<line x1="871.8" y1="950" x2="871.8" y2="946.5" stroke="#111" stroke-width="1.8" />
<line x1="895.2" y1="950" x2="895.2" y2="944" stroke="#111" stroke-width="2" />
<text class="se" x="895.5" y="971.6" font-size="19.3" text-anchor="middle" fill="#111" >250</text>
<line x1="918.7" y1="950" x2="918.7" y2="946.5" stroke="#111" stroke-width="1.8" />
<line x1="942.1" y1="950" x2="942.1" y2="944" stroke="#111" stroke-width="2" />
<text class="se" x="942.4" y="971.6" font-size="19.3" text-anchor="middle" fill="#111" >300</text>
<line x1="965.6" y1="950" x2="965.6" y2="946.5" stroke="#111" stroke-width="1.8" />
<line x1="989.1" y1="950" x2="989.1" y2="944" stroke="#111" stroke-width="2" />
<text class="se" x="989.4" y="971.6" font-size="19.3" text-anchor="middle" fill="#111" >350</text>
<line x1="1012.5" y1="950" x2="1012.5" y2="946.5" stroke="#111" stroke-width="1.8" />
<line x1="1036" y1="950" x2="1036" y2="944" stroke="#111" stroke-width="2" />
<text class="se" x="1036.3" y="971.6" font-size="19.3" text-anchor="middle" fill="#111" >400</text>
<line x1="1059.5" y1="950" x2="1059.5" y2="946.5" stroke="#111" stroke-width="1.8" />
<line x1="1082.9" y1="950" x2="1082.9" y2="944" stroke="#111" stroke-width="2" />
<text class="se" x="1083.2" y="971.6" font-size="19.3" text-anchor="middle" fill="#111" >450</text>
<line x1="1106.4" y1="950" x2="1106.4" y2="946.5" stroke="#111" stroke-width="1.8" />
<line x1="1129.8" y1="950" x2="1129.8" y2="944" stroke="#111" stroke-width="2" />
<text class="se" x="1130.1" y="971.6" font-size="19.3" text-anchor="middle" fill="#111" >500</text>
<line x1="1153.3" y1="950" x2="1153.3" y2="946.5" stroke="#111" stroke-width="1.8" />
<line x1="1176.8" y1="950" x2="1176.8" y2="944" stroke="#111" stroke-width="2" />
<text class="se" x="1177.1" y="971.6" font-size="19.3" text-anchor="middle" fill="#111" >550</text>
<line x1="1200.2" y1="950" x2="1200.2" y2="946.5" stroke="#111" stroke-width="1.8" />
<text class="se" x="1224" y="971.6" font-size="19.3" text-anchor="middle" fill="#111" >600</text>
<text class="se" x="1037.2" y="987.7" font-size="20" text-anchor="middle" fill="#111" >Wavelength (nm)</text>
<text class="se" x="805" y="799.8" font-size="20" text-anchor="middle" fill="#111" transform="rotate(-90 805 799.8)">Data transfer rate (Mbps)</text>
<polygon points="1084.3,684.8 1086,689.7 1091.1,689.8 1087,692.9 1088.5,697.8 1084.3,694.9 1080.1,697.8 1081.6,692.9 1077.5,689.8 1082.6,689.7" fill="#b8a11e"/>
<polygon points="1094.9,684.8 1096.6,689.7 1101.7,689.8 1097.6,692.9 1099.1,697.8 1094.9,694.9 1090.7,697.8 1092.2,692.9 1088.1,689.8 1093.2,689.7" fill="#1f80ff"/>
<polygon points="1087.4,728.6 1089.1,733.5 1094.2,733.6 1090.1,736.7 1091.6,741.6 1087.4,738.7 1083.2,741.6 1084.7,736.7 1080.6,733.6 1085.7,733.5" fill="#b01212"/>
<polygon points="1085.3,796.8 1087,801.7 1092.1,801.8 1088,804.9 1089.5,809.8 1085.3,806.9 1081.1,809.8 1082.6,804.9 1078.5,801.8 1083.6,801.7" fill="#0b7a1c"/>
<polygon points="1097,796.8 1098.7,801.7 1103.8,801.8 1099.7,804.9 1101.2,809.8 1097,806.9 1092.8,809.8 1094.3,804.9 1090.2,801.8 1095.3,801.7" fill="#848484"/>
<polygon points="1089.5,814.4 1091.2,819.3 1096.3,819.4 1092.2,822.5 1093.7,827.4 1089.5,824.5 1085.3,827.4 1086.8,822.5 1082.7,819.4 1087.8,819.3" fill="#c9b5f7"/>
<polygon points="1082.8,839.8 1084.5,844.7 1089.6,844.8 1085.5,847.9 1087,852.8 1082.8,849.9 1078.6,852.8 1080.1,847.9 1076,844.8 1081.1,844.7" fill="#fba2d2"/>
<polygon points="1082.8,857 1084.5,861.9 1089.6,862 1085.5,865.1 1087,870 1082.8,867.1 1078.6,870 1080.1,865.1 1076,862 1081.1,861.9" fill="#f87a7a"/>
<polygon points="1083.2,878.3 1084.9,883.2 1090,883.3 1085.9,886.4 1087.4,891.3 1083.2,888.4 1079,891.3 1080.5,886.4 1076.4,883.3 1081.5,883.2" fill="#fb1487"/>
<polygon points="1082.8,891.5 1084.5,896.4 1089.6,896.5 1085.5,899.6 1087,904.5 1082.8,901.6 1078.6,904.5 1080.1,899.6 1076,896.5 1081.1,896.4" fill="#7a14f5"/>
<polygon points="1092.2,898.1 1093.9,903 1099,903.1 1094.9,906.2 1096.4,911.1 1092.2,908.2 1088,911.1 1089.5,906.2 1085.4,903.1 1090.5,903" fill="#f2c77c"/>
<polygon points="920.2,771.1 927,776.1 924.4,784.1 916,784.1 913.4,776.1" fill="#777"/>
<polygon points="923.3,857.4 930.1,862.4 927.5,870.4 919.1,870.4 916.5,862.4" fill="#f87a7a"/>
<polygon points="918.8,899.6 925.6,904.6 923,912.6 914.6,912.6 912,904.6" fill="#0aa30a"/>
<circle cx="919.6" cy="735" r="9.4" fill="#f6eaff" stroke="#8a10e8" stroke-width="2"/>
<circle cx="919.6" cy="735" r="6.3" fill="url(#sph)"/>
<line x1="928.5" y1="732.3" x2="949" y2="724.8" stroke="#8a10e8" stroke-width="1.8" />
<polygon points="956.5,722.3 947.3,721.3 950,728.8" fill="#8a10e8"/>
<text class="se" x="958.2" y="729" font-size="20" text-anchor="start" fill="#8a10e8" >This work</text>
<polygon points="1162.6,692.9 1164.3,697.8 1169.4,697.9 1165.3,701 1166.8,705.9 1162.6,703 1158.4,705.9 1159.9,701 1155.8,697.9 1160.9,697.8" fill="#7a14f5"/>
<text class="se" x="1181" y="704.7" font-size="12.6" text-anchor="start" fill="#222" >[46]</text>
<polygon points="1162.6,709 1164.3,713.9 1169.4,714 1165.3,717.1 1166.8,722.1 1162.6,719.1 1158.4,722.1 1159.9,717.1 1155.8,714 1160.9,713.9" fill="#1f80ff"/>
<text class="se" x="1181" y="720.8" font-size="12.6" text-anchor="start" fill="#222" >[47]</text>
<polygon points="1162.6,725.2 1164.3,730.1 1169.4,730.2 1165.3,733.3 1166.8,738.2 1162.6,735.3 1158.4,738.2 1159.9,733.3 1155.8,730.2 1160.9,730.1" fill="#b8a11e"/>
<text class="se" x="1181" y="737" font-size="12.6" text-anchor="start" fill="#222" >[13]</text>
<polygon points="1162.6,741.4 1164.3,746.2 1169.4,746.3 1165.3,749.4 1166.8,754.4 1162.6,751.4 1158.4,754.4 1159.9,749.4 1155.8,746.3 1160.9,746.2" fill="#fb1487"/>
<text class="se" x="1181" y="753.1" font-size="12.6" text-anchor="start" fill="#222" >[48]</text>
<polygon points="1162.6,757.5 1164.3,762.4 1169.4,762.5 1165.3,765.6 1166.8,770.5 1162.6,767.6 1158.4,770.5 1159.9,765.6 1155.8,762.5 1160.9,762.4" fill="#f2c77c"/>
<text class="se" x="1181" y="769.3" font-size="12.6" text-anchor="start" fill="#222" >[49]</text>
<polygon points="1162.6,773.6 1164.3,778.5 1169.4,778.6 1165.3,781.7 1166.8,786.7 1162.6,783.7 1158.4,786.7 1159.9,781.7 1155.8,778.6 1160.9,778.5" fill="#b01212"/>
<text class="se" x="1181" y="785.4" font-size="12.6" text-anchor="start" fill="#222" >[50]</text>
<polygon points="1162.6,789.8 1164.3,794.7 1169.4,794.8 1165.3,797.9 1166.8,802.8 1162.6,799.9 1158.4,802.8 1159.9,797.9 1155.8,794.8 1160.9,794.7" fill="#848484"/>
<text class="se" x="1181" y="801.6" font-size="12.6" text-anchor="start" fill="#222" >[51]</text>
<polygon points="1162.6,805.9 1164.3,810.8 1169.4,810.9 1165.3,814 1166.8,819 1162.6,816 1158.4,819 1159.9,814 1155.8,810.9 1160.9,810.8" fill="#0b7a1c"/>
<text class="se" x="1181" y="817.7" font-size="12.6" text-anchor="start" fill="#222" >[52]</text>
<polygon points="1162.6,822.1 1164.3,827 1169.4,827.1 1165.3,830.2 1166.8,835.1 1162.6,832.2 1158.4,835.1 1159.9,830.2 1155.8,827.1 1160.9,827" fill="#f87a7a"/>
<text class="se" x="1181" y="833.9" font-size="12.6" text-anchor="start" fill="#222" >[53]</text>
<polygon points="1162.6,838.2 1164.3,843.1 1169.4,843.2 1165.3,846.3 1166.8,851.3 1162.6,848.3 1158.4,851.3 1159.9,846.3 1155.8,843.2 1160.9,843.1" fill="#fba2d2"/>
<text class="se" x="1181" y="850" font-size="12.6" text-anchor="start" fill="#222" >[54]</text>
<polygon points="1162.6,854.4 1164.3,859.3 1169.4,859.4 1165.3,862.5 1166.8,867.4 1162.6,864.5 1158.4,867.4 1159.9,862.5 1155.8,859.4 1160.9,859.3" fill="#c9b5f7"/>
<text class="se" x="1181" y="866.2" font-size="12.6" text-anchor="start" fill="#222" >[27]</text>
<polygon points="1162.6,871.1 1169.4,876.1 1166.8,884.2 1158.4,884.2 1155.8,876.1" fill="#f87a7a"/>
<text class="se" x="1181" y="882.3" font-size="12.6" text-anchor="start" fill="#222" >[55]</text>
<polygon points="1162.6,887.3 1169.4,892.3 1166.8,900.3 1158.4,900.3 1155.8,892.3" fill="#0aa30a"/>
<text class="se" x="1181" y="898.5" font-size="12.6" text-anchor="start" fill="#222" >[14]</text>
<polygon points="1162.6,903.4 1169.4,908.4 1166.8,916.5 1158.4,916.5 1155.8,908.4" fill="#777"/>
<text class="se" x="1181" y="914.6" font-size="12.6" text-anchor="start" fill="#222" >[42]</text>
<circle cx="1146.3" cy="926.4" r="6.2" fill="url(#sph)"/>
<text class="se" x="1164.6" y="930.6" font-size="12.7" text-anchor="start" fill="#8a10e8" >This work</text>
<text class="sa" x="748.6" y="629.3" font-size="37" text-anchor="start" fill="#000" >e</text>
</g>
</svg>
</body>
</html>
